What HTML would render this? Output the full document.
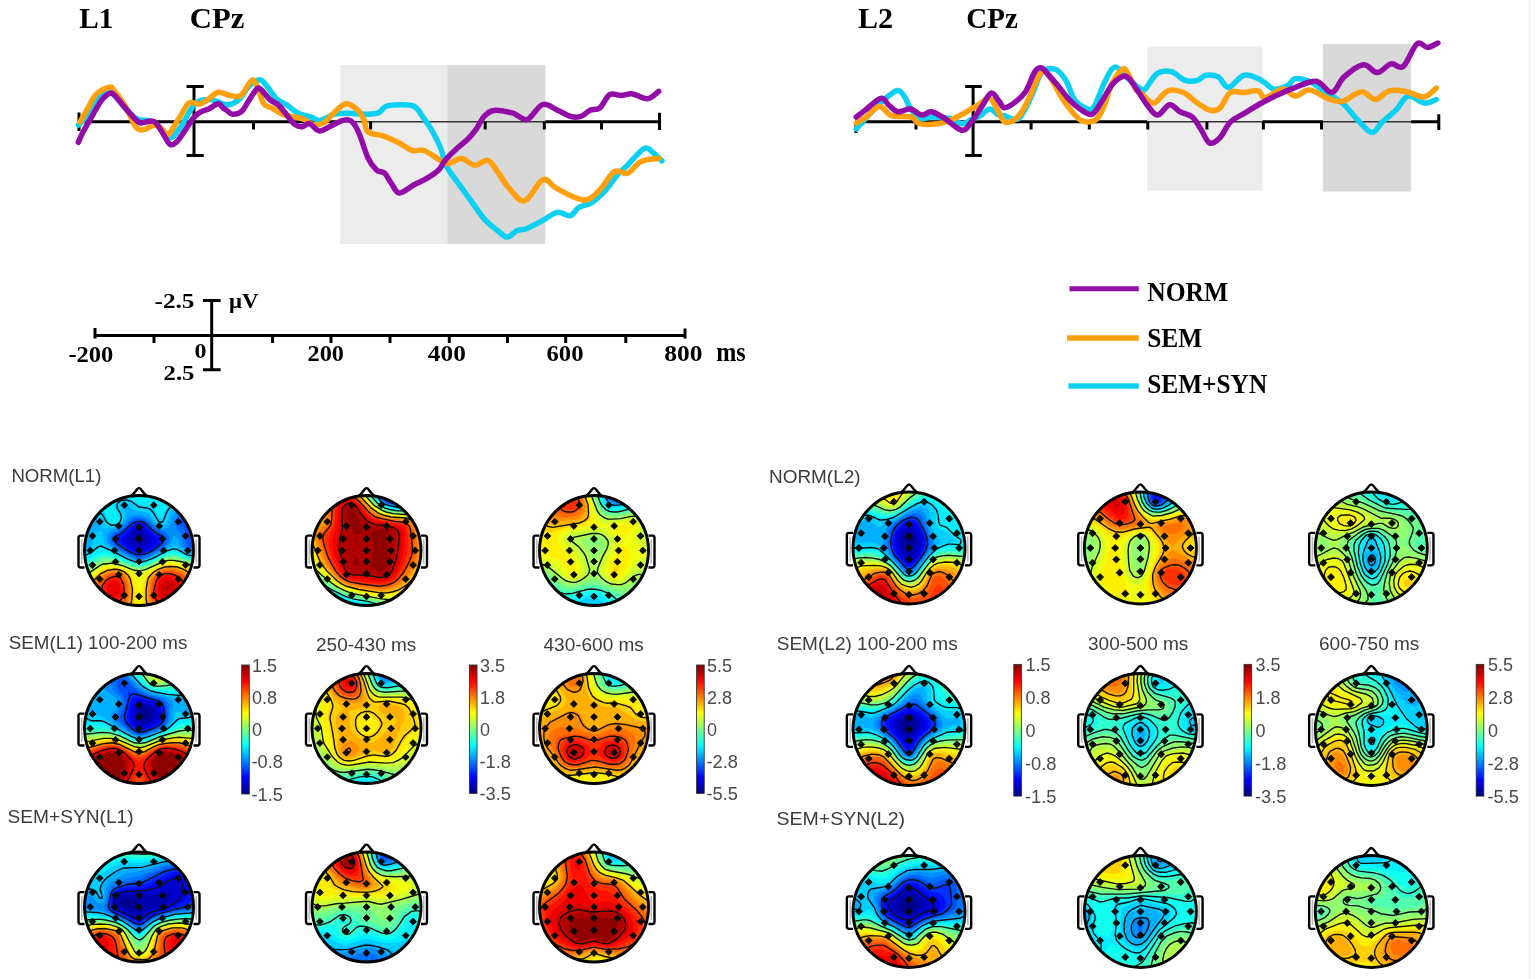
<!DOCTYPE html>
<html><head><meta charset="utf-8"><title>ERP figure</title><style>html,body{margin:0;padding:0;background:#fff;}svg{display:block;}.tb{font-family:"Liberation Serif",serif;font-weight:bold;fill:#000;}.lb{font-family:"Liberation Sans",sans-serif;fill:#3c3c3c;}.cb{font-family:"Liberation Sans",sans-serif;fill:#4a4a4a;}</style></head><body>
<svg width="1535" height="979" viewBox="0 0 1535 979">
<defs><clipPath id="hc"><circle r="100"/></clipPath><g id="ears" fill="#fff" stroke="#000" stroke-width="2.4" vector-effect="non-scaling-stroke"><path d="M-100 -27 L-107 -27 Q-111 -27 -111 -23 L-111 27 Q-111 31 -107 31 L-100 31" vector-effect="non-scaling-stroke"/><path d="M100 -27 L107 -27 Q111 -27 111 -23 L111 27 Q111 31 107 31 L100 31" vector-effect="non-scaling-stroke"/><path d="M-105 -20 L-105 24 M105 -20 L105 24" stroke="#bbb" stroke-width="1.6" vector-effect="non-scaling-stroke"/><path d="M-17 -97 Q-9 -103 -4.5 -110 Q0 -117 4.5 -110 Q9 -103 17 -97" vector-effect="non-scaling-stroke"/></g><path id="el" fill="#0a0a0a" stroke="#0a0a0a" stroke-width="1.5" stroke-linejoin="round" d="M-27.0 -88.8l6.3 6.3 -6.3 6.3 -6.3 -6.3zM27.0 -88.8l6.3 6.3 -6.3 6.3 -6.3 -6.3zM-72.0 -58.8l6.3 6.3 -6.3 6.3 -6.3 -6.3zM-37.0 -50.8l6.3 6.3 -6.3 6.3 -6.3 -6.3zM0.0 -48.8l6.3 6.3 -6.3 6.3 -6.3 -6.3zM37.0 -50.8l6.3 6.3 -6.3 6.3 -6.3 -6.3zM72.0 -58.8l6.3 6.3 -6.3 6.3 -6.3 -6.3zM-85.5 -32.8l6.3 6.3 -6.3 6.3 -6.3 -6.3zM-43.0 -27.3l6.3 6.3 -6.3 6.3 -6.3 -6.3zM0.0 -27.3l6.3 6.3 -6.3 6.3 -6.3 -6.3zM43.0 -27.3l6.3 6.3 -6.3 6.3 -6.3 -6.3zM85.5 -32.8l6.3 6.3 -6.3 6.3 -6.3 -6.3zM-89.5 -6.3l6.3 6.3 -6.3 6.3 -6.3 -6.3zM-45.0 -6.3l6.3 6.3 -6.3 6.3 -6.3 -6.3zM0.0 -6.3l6.3 6.3 -6.3 6.3 -6.3 -6.3zM45.0 -6.3l6.3 6.3 -6.3 6.3 -6.3 -6.3zM89.5 -6.3l6.3 6.3 -6.3 6.3 -6.3 -6.3zM-85.5 20.2l6.3 6.3 -6.3 6.3 -6.3 -6.3zM-43.0 14.2l6.3 6.3 -6.3 6.3 -6.3 -6.3zM0.0 13.7l6.3 6.3 -6.3 6.3 -6.3 -6.3zM43.0 14.2l6.3 6.3 -6.3 6.3 -6.3 -6.3zM85.5 20.2l6.3 6.3 -6.3 6.3 -6.3 -6.3zM-72.0 45.7l6.3 6.3 -6.3 6.3 -6.3 -6.3zM-37.0 37.7l6.3 6.3 -6.3 6.3 -6.3 -6.3zM0.0 35.7l6.3 6.3 -6.3 6.3 -6.3 -6.3zM37.0 37.7l6.3 6.3 -6.3 6.3 -6.3 -6.3zM72.0 45.7l6.3 6.3 -6.3 6.3 -6.3 -6.3zM-27.0 75.2l6.3 6.3 -6.3 6.3 -6.3 -6.3zM0.0 77.2l6.3 6.3 -6.3 6.3 -6.3 -6.3zM27.0 75.2l6.3 6.3 -6.3 6.3 -6.3 -6.3z"/><linearGradient id="jet" x1="0" y1="0" x2="0" y2="1"><stop offset="0" stop-color="#800000"/><stop offset="0.125" stop-color="#ff0000"/><stop offset="0.375" stop-color="#ffff00"/><stop offset="0.5" stop-color="#80ff80"/><stop offset="0.625" stop-color="#00ffff"/><stop offset="0.875" stop-color="#0000ff"/><stop offset="1" stop-color="#000080"/></linearGradient></defs>
<path d="M1529.5 0V979" stroke="#efefef" stroke-width="1.5"/>
<rect x="340.3" y="65" width="107" height="179" fill="#ececec"/>
<rect x="447.3" y="65" width="98" height="179" fill="#d9d9d9"/>
<rect x="1147.3" y="46.5" width="115.2" height="144.2" fill="#ececec"/>
<rect x="1323" y="44" width="88" height="147.6" fill="#d9d9d9"/>
<path d="M78.5 121.8H340.3M545.3 121.8H659.5" stroke="#000" stroke-width="3"/>
<path d="M340.3 121.8H545.3" stroke="#333" stroke-width="1.6"/>
<path d="M79 112.5V131M659.5 112.7V130M194 86.6V155.4M186.5 86.6H203.7M186.5 155.4H203.7M253.5 121.8V129.5M370.6 121.8V129.5M485.2 121.8V129.5M544.3 121.8V129.5M601.5 121.8V129.5" stroke="#000" stroke-width="3"/>
<path d="M855.4 121.7H1147.3M1262.5 121.7H1323M1411 121.7H1438.8" stroke="#000" stroke-width="3"/>
<path d="M1147.3 121.7H1262.5M1323 121.7H1411" stroke="#333" stroke-width="1.6"/>
<path d="M856 121.7V133M1438.8 114.3V130M973.1 86.5V155.5M965.2 86.5H981.8M965.2 155.5H981.8M916 121.7V129.5M1031.1 121.7V129.5M1089.3 121.7V129.5M1147.8 121.7V129.5M1206.9 121.7V129.5M1263.4 121.7V129.5M1321.5 121.7V129.5" stroke="#000" stroke-width="3"/>
<path d="M78.3 125.0C79.5 123.8 81.9 122.4 85.0 118.0C88.1 113.6 91.7 104.4 96.0 100.0C100.3 95.6 106.3 93.7 109.6 93.0C112.9 92.3 112.3 93.4 115.0 96.0C117.7 98.6 121.4 104.0 125.2 108.0C129.1 112.0 132.7 116.7 137.0 119.0C141.3 121.3 146.0 119.4 150.0 121.0C154.0 122.6 156.5 125.0 160.0 128.0C163.5 131.0 166.5 138.0 170.0 138.0C173.5 138.0 175.6 134.0 180.0 128.0C184.4 122.0 190.0 108.8 195.0 103.8C200.0 98.8 204.6 99.9 208.6 99.6C212.6 99.3 214.6 101.1 218.0 102.0C221.4 102.9 224.7 105.2 228.3 104.8C231.9 104.4 235.1 102.9 238.8 99.6C242.5 96.3 245.6 89.6 249.2 86.1C252.8 82.6 256.5 79.8 259.6 79.8C262.7 79.8 264.0 82.8 266.9 86.1C269.8 89.4 272.8 95.3 276.3 98.6C279.8 101.9 282.9 102.2 286.7 104.8C290.5 107.4 293.8 111.0 298.2 113.2C302.6 115.4 307.9 116.0 311.7 117.3C315.5 118.6 316.0 121.0 320.0 120.5C324.0 120.0 329.4 115.5 334.7 114.2C340.0 112.9 344.8 113.2 350.3 113.2C355.8 113.2 361.0 114.3 365.9 114.2C370.8 114.1 374.6 114.3 378.2 112.9C381.8 111.5 382.6 107.7 386.3 106.3C390.0 104.9 394.5 104.7 399.4 104.7C404.3 104.7 410.1 104.3 414.1 106.3C418.1 108.3 419.2 111.8 422.3 116.1C425.4 120.4 429.0 125.5 432.1 130.9C435.2 136.3 437.7 140.9 440.3 147.2C442.9 153.5 443.7 160.5 446.8 166.8C449.9 173.1 453.9 177.2 458.2 183.2C462.5 189.2 466.7 194.8 471.3 201.1C475.9 207.4 479.8 214.0 484.4 219.1C489.0 224.2 493.5 227.3 497.5 230.5C501.5 233.7 503.9 237.1 507.3 237.1C510.7 237.1 513.8 232.0 517.1 230.5C520.4 229.0 521.8 230.4 526.3 228.7C530.8 226.9 537.3 223.4 542.7 220.5C548.1 217.6 552.5 213.3 557.4 212.4C562.3 211.5 566.8 216.5 570.5 215.6C574.2 214.7 574.9 209.8 578.6 207.5C582.3 205.2 587.1 205.5 591.7 202.6C596.3 199.7 600.5 195.7 604.8 191.1C609.1 186.5 612.2 181.0 616.2 176.4C620.2 171.8 622.8 169.9 627.7 165.0C632.6 160.1 639.7 150.9 644.0 148.6C648.3 146.3 649.1 149.7 652.2 151.9C655.4 154.1 660.3 159.3 662.0 160.9" fill="none" stroke="#0cd0f2" stroke-width="5.5" stroke-linejoin="round" stroke-linecap="round"/>
<path d="M80.0 122.0C81.4 119.5 85.2 112.8 88.0 108.0C90.8 103.2 92.2 98.1 96.0 94.4C99.8 90.7 106.5 87.8 109.6 87.1C112.7 86.4 111.1 86.9 113.8 90.2C116.5 93.5 121.4 99.5 125.2 105.9C129.0 112.3 132.6 122.5 135.7 126.7C138.8 130.9 140.4 129.8 143.0 129.8C145.6 129.8 147.9 127.5 150.3 126.7C152.7 125.9 154.3 124.4 156.5 125.0C158.7 125.6 161.0 128.2 163.0 130.0C165.0 131.8 165.4 136.8 168.0 135.0C170.6 133.2 174.5 125.5 178.0 120.0C181.5 114.5 185.2 106.8 187.8 103.8C190.4 100.8 190.9 102.7 193.0 102.7C195.1 102.7 197.3 104.6 200.0 104.0C202.7 103.4 205.4 101.0 208.6 99.0C211.8 97.0 214.2 92.9 218.0 92.3C221.8 91.7 226.4 94.9 230.4 95.4C234.4 95.9 237.1 98.0 240.8 95.4C244.5 92.8 248.6 82.6 251.3 80.8C254.0 79.0 254.3 81.0 256.5 85.0C258.7 89.0 261.1 99.8 263.8 103.8C266.5 107.8 268.5 106.0 272.1 108.0C275.7 110.0 279.5 113.4 284.6 115.2C289.7 117.0 296.2 116.8 301.3 118.4C306.4 120.0 309.8 123.9 313.8 124.6C317.8 125.3 320.5 124.7 324.2 122.5C327.9 120.3 330.9 115.4 334.7 112.1C338.5 108.8 342.1 104.2 346.1 103.8C350.1 103.4 354.5 107.3 357.6 110.0C360.7 112.7 362.0 115.6 363.8 119.4C365.6 123.2 364.6 129.0 368.0 131.9C371.4 134.8 377.9 134.0 383.1 135.8C388.3 137.6 392.7 139.7 397.8 142.3C402.9 144.9 407.9 149.1 412.5 150.5C417.1 151.9 419.0 148.8 423.9 150.5C428.8 152.2 436.0 158.0 440.3 160.3C444.6 162.6 444.7 163.8 448.4 163.5C452.1 163.2 456.9 158.3 461.5 158.6C466.1 158.9 470.0 164.9 474.6 165.2C479.2 165.5 483.7 159.2 487.7 160.3C491.7 161.4 493.8 166.9 497.5 171.7C501.2 176.5 504.1 182.9 508.9 188.0C513.7 193.1 518.8 202.4 524.7 200.9C530.6 199.4 537.3 182.0 542.7 179.7C548.1 177.4 550.1 184.8 555.8 187.9C561.5 191.1 569.7 195.7 575.4 197.7C581.1 199.7 583.8 201.0 588.4 199.3C593.0 197.6 596.9 192.8 601.5 187.9C606.1 183.0 610.0 174.1 614.6 171.5C619.2 168.9 623.1 174.9 627.7 173.2C632.3 171.5 635.3 164.3 640.7 161.7C646.1 159.1 655.6 159.0 658.7 158.4" fill="none" stroke="#ffa00c" stroke-width="5.5" stroke-linejoin="round" stroke-linecap="round"/>
<path d="M78.3 142.3C79.0 140.7 80.3 137.2 82.5 133.0C84.7 128.8 87.5 124.1 90.8 118.4C94.1 112.7 98.0 105.0 101.3 100.6C104.6 96.2 107.2 94.3 109.6 93.4C112.0 92.5 112.1 92.8 114.8 95.4C117.5 98.0 121.2 103.4 125.2 108.0C129.2 112.6 134.7 119.0 137.8 121.5C140.9 124.0 140.6 122.6 143.0 122.5C145.4 122.4 148.9 120.8 151.3 121.0C153.7 121.2 154.3 121.1 156.5 123.6C158.7 126.0 161.4 131.4 163.8 135.0C166.2 138.6 167.8 143.1 170.0 144.4C172.2 145.7 173.7 144.7 176.3 142.3C178.9 139.9 181.8 135.1 184.7 130.9C187.6 126.7 190.3 121.7 193.0 118.4C195.7 115.1 197.6 113.7 200.3 112.1C203.0 110.5 205.5 110.5 208.6 109.0C211.7 107.5 215.4 104.0 218.0 103.8C220.6 103.6 221.7 106.9 223.2 108.0C224.7 109.1 224.7 108.9 226.3 110.0C227.9 111.1 229.8 114.0 232.5 114.2C235.2 114.4 239.2 113.3 241.9 111.1C244.6 108.9 245.5 105.5 248.1 101.7C250.7 97.9 254.3 91.4 256.5 89.2C258.7 87.0 258.2 87.4 260.6 89.2C263.0 91.0 266.7 96.7 270.0 99.6C273.3 102.5 276.3 103.0 279.4 105.9C282.5 108.8 285.1 113.0 287.8 116.3C290.5 119.6 292.5 122.8 295.0 124.6C297.5 126.4 299.7 126.9 302.3 126.7C304.9 126.5 306.7 122.9 309.6 123.6C312.5 124.3 315.5 130.4 319.0 130.9C322.5 131.4 325.7 128.3 329.4 126.7C333.1 125.1 336.6 122.7 339.9 121.5C343.2 120.3 345.6 119.4 348.2 119.9C350.8 120.4 352.5 122.0 354.5 124.6C356.5 127.2 357.3 129.2 359.7 135.0C362.1 140.8 365.1 151.9 368.0 158.0C370.9 164.1 373.6 167.3 376.5 170.0C379.4 172.7 382.1 171.0 384.7 173.3C387.3 175.6 388.6 179.8 391.2 183.2C393.8 186.6 395.4 192.7 399.4 193.0C403.4 193.3 409.2 187.4 414.1 184.8C419.0 182.2 422.9 180.8 427.2 178.2C431.5 175.6 435.5 173.1 438.6 170.0C441.8 166.9 442.1 164.0 445.2 160.3C448.3 156.6 452.6 152.5 456.6 148.8C460.6 145.1 464.6 142.4 468.0 139.0C471.4 135.6 473.3 133.2 476.2 129.2C479.1 125.2 481.2 119.4 484.4 116.1C487.5 112.8 489.3 111.0 494.2 110.4C499.1 109.8 508.0 111.9 512.2 112.9C516.4 113.9 515.4 114.9 518.2 116.0C521.0 117.1 523.7 121.2 528.0 119.2C532.3 117.2 537.6 106.1 542.7 104.5C547.8 102.9 552.3 108.0 557.4 110.2C562.5 112.4 567.8 115.8 572.1 116.8C576.4 117.8 578.8 117.2 581.9 116.0C585.0 114.8 587.0 111.6 590.1 110.2C593.2 108.8 596.5 110.5 599.9 107.8C603.3 105.1 606.0 96.9 609.7 94.7C613.4 92.5 617.1 95.6 621.1 95.5C625.1 95.4 628.0 93.3 632.6 93.9C637.2 94.5 642.7 99.2 647.3 98.8C651.9 98.4 656.7 92.7 658.7 91.4" fill="none" stroke="#930ca8" stroke-width="5.5" stroke-linejoin="round" stroke-linecap="round"/>
<path d="M856.3 129.0C857.3 127.8 858.5 126.5 862.3 122.3C866.1 118.1 873.6 109.7 878.2 105.1C882.8 100.5 885.3 98.4 888.8 95.8C892.3 93.2 895.3 90.3 898.1 90.5C900.9 90.7 902.7 94.1 904.8 97.1C906.9 100.1 907.5 104.0 910.1 107.7C912.7 111.4 915.7 116.7 919.4 118.3C923.1 119.9 926.2 117.0 931.3 117.0C936.4 117.0 943.3 117.1 948.6 118.3C953.9 119.5 957.9 123.5 961.8 123.7C965.7 123.9 967.8 121.1 971.1 119.7C974.4 118.3 977.1 117.6 980.4 115.7C983.7 113.8 986.7 109.2 989.7 109.0C992.7 108.8 995.0 113.2 997.7 114.4C1000.4 115.6 1001.3 115.3 1005.0 116.0C1008.7 116.7 1014.1 122.1 1018.9 118.3C1023.7 114.5 1028.2 102.3 1032.2 94.4C1036.2 86.5 1037.5 77.6 1041.5 73.2C1045.5 68.8 1050.6 68.0 1054.8 69.2C1059.0 70.4 1061.9 74.4 1065.4 79.8C1068.9 85.2 1071.2 94.9 1074.7 99.8C1078.2 104.7 1082.0 106.3 1085.3 107.7C1088.6 109.1 1090.0 111.9 1093.3 107.7C1096.6 103.5 1100.6 90.5 1103.9 83.8C1107.2 77.1 1109.3 71.9 1111.9 69.2C1114.5 66.5 1115.5 66.6 1118.5 68.5C1121.5 70.4 1125.1 76.2 1129.1 79.8C1133.1 83.4 1138.3 87.5 1141.1 89.1C1143.9 90.7 1142.3 91.8 1145.2 89.1C1148.1 86.4 1152.8 76.4 1157.4 73.4C1162.0 70.4 1166.4 70.5 1171.3 71.7C1176.2 72.9 1180.7 78.9 1185.2 80.4C1189.8 81.9 1193.7 81.3 1197.3 80.4C1200.9 79.5 1202.3 75.8 1206.0 75.2C1209.7 74.6 1214.2 74.8 1218.2 76.9C1222.2 79.0 1224.0 87.6 1228.6 87.3C1233.1 87.0 1238.4 76.4 1244.2 75.2C1250.0 74.0 1256.4 78.0 1261.6 80.4C1266.8 82.8 1269.2 88.2 1273.8 89.1C1278.4 90.0 1283.9 87.4 1287.7 85.6C1291.5 83.8 1291.3 79.2 1295.4 78.6C1299.5 78.0 1306.2 80.0 1311.1 82.1C1316.0 84.2 1317.7 87.1 1323.2 90.8C1328.7 94.5 1336.2 97.8 1342.3 103.0C1348.4 108.2 1352.8 115.1 1358.0 120.3C1363.2 125.5 1367.6 132.2 1371.9 132.5C1376.2 132.8 1378.0 126.1 1382.3 122.1C1386.6 118.1 1391.7 114.5 1396.2 109.9C1400.8 105.3 1403.4 97.2 1408.3 96.0C1413.2 94.8 1419.1 102.4 1424.0 103.0C1428.9 103.6 1434.1 100.1 1436.2 99.5" fill="none" stroke="#0cd0f2" stroke-width="5.5" stroke-linejoin="round" stroke-linecap="round"/>
<path d="M856.3 123.0C858.0 122.0 862.1 119.9 866.2 117.0C870.3 114.1 875.1 106.6 879.5 106.4C883.9 106.2 885.9 113.8 891.5 115.7C897.1 117.6 906.5 115.6 911.4 117.0C916.3 118.4 914.7 122.5 919.4 123.7C924.1 124.9 932.4 124.4 938.0 123.7C943.6 123.0 946.6 121.6 951.2 119.7C955.8 117.8 959.8 115.6 964.5 113.0C969.2 110.4 973.4 107.7 977.8 105.1C982.2 102.5 986.2 97.5 989.7 98.4C993.2 99.3 994.9 106.2 997.7 110.4C1000.5 114.6 1001.9 121.4 1005.6 122.3C1009.3 123.2 1014.7 120.1 1018.9 115.7C1023.1 111.3 1025.5 104.8 1029.5 97.1C1033.5 89.4 1037.8 75.2 1041.5 71.9C1045.2 68.6 1047.3 74.1 1050.8 78.5C1054.3 82.9 1057.7 91.3 1061.4 97.1C1065.1 102.9 1068.3 107.5 1072.0 111.7C1075.7 115.9 1078.4 119.6 1082.6 121.0C1086.8 122.4 1092.2 122.3 1095.9 119.7C1099.6 117.1 1101.1 112.7 1103.9 106.4C1106.7 100.1 1108.6 90.3 1111.9 83.8C1115.2 77.3 1119.7 71.1 1122.5 69.2C1125.3 67.3 1125.5 69.7 1127.8 73.2C1130.1 76.7 1133.1 85.4 1135.7 89.1C1138.3 92.8 1139.2 92.0 1142.4 94.4C1145.6 96.8 1149.5 103.6 1153.9 103.0C1158.3 102.4 1162.6 92.6 1167.8 90.8C1173.0 89.0 1178.2 90.4 1183.4 92.5C1188.6 94.6 1192.7 99.9 1197.3 103.0C1201.9 106.1 1205.5 109.1 1209.5 110.0C1213.5 110.9 1216.3 111.3 1219.9 108.2C1223.5 105.1 1226.0 95.2 1230.3 92.5C1234.6 89.8 1239.3 92.8 1244.2 92.5C1249.1 92.2 1254.4 89.9 1258.1 90.8C1261.8 91.7 1260.8 98.1 1265.1 97.8C1269.4 97.5 1277.2 89.4 1282.5 89.1C1287.8 88.8 1290.7 95.8 1295.4 96.0C1300.1 96.2 1303.5 89.5 1309.3 90.0C1315.1 90.5 1322.6 96.6 1328.4 98.6C1334.2 100.6 1336.5 102.4 1342.3 101.2C1348.1 100.0 1355.6 92.0 1361.4 91.7C1367.2 91.4 1370.4 99.7 1375.3 99.5C1380.2 99.3 1383.7 92.2 1389.2 90.8C1394.7 89.4 1400.5 90.6 1406.6 91.7C1412.7 92.8 1418.8 97.5 1424.0 96.9C1429.2 96.3 1434.1 89.7 1436.2 88.2" fill="none" stroke="#ffa00c" stroke-width="5.5" stroke-linejoin="round" stroke-linecap="round"/>
<path d="M856.3 117.0C857.8 115.8 860.6 113.7 864.9 110.4C869.2 107.1 876.7 99.3 880.9 98.4C885.1 97.5 885.8 102.8 888.8 105.1C891.8 107.4 894.4 111.0 898.1 111.7C901.8 112.4 905.9 108.4 910.1 109.0C914.3 109.6 918.3 114.5 922.0 115.0C925.7 115.5 927.3 111.1 931.3 111.7C935.3 112.3 939.3 115.0 944.6 118.3C949.9 121.6 957.2 129.6 961.8 130.3C966.4 131.0 967.6 126.5 971.1 122.3C974.6 118.1 978.3 111.5 981.8 106.4C985.3 101.3 988.1 94.0 991.1 93.1C994.1 92.2 996.7 98.5 999.0 101.1C1001.3 103.7 1001.5 107.5 1004.3 107.7C1007.1 107.9 1011.2 105.2 1014.9 102.4C1018.6 99.6 1022.0 97.1 1025.5 91.8C1029.0 86.5 1032.0 76.1 1034.8 71.9C1037.6 67.7 1039.2 67.4 1041.5 67.9C1043.8 68.4 1045.3 71.5 1048.1 74.5C1050.9 77.5 1053.7 80.7 1057.4 85.1C1061.1 89.5 1065.4 95.6 1069.4 99.8C1073.4 104.0 1076.1 106.4 1080.0 109.0C1083.9 111.6 1088.2 115.6 1091.9 114.4C1095.6 113.2 1097.7 107.5 1101.2 102.4C1104.7 97.3 1108.2 89.6 1111.9 85.1C1115.6 80.6 1119.5 77.7 1122.5 76.5C1125.5 75.3 1126.3 75.8 1129.1 78.5C1131.9 81.2 1135.3 87.2 1138.4 91.8C1141.5 96.4 1143.7 100.6 1147.0 104.7C1150.3 108.8 1153.5 115.1 1157.4 115.1C1161.3 115.1 1165.5 105.3 1169.5 104.7C1173.5 104.1 1176.0 109.6 1180.0 111.7C1184.0 113.8 1188.5 113.9 1192.1 116.9C1195.7 119.9 1197.8 124.5 1200.8 129.0C1203.8 133.6 1206.2 141.4 1209.5 142.9C1212.8 144.4 1216.3 141.3 1219.9 137.7C1223.5 134.1 1226.0 126.4 1230.3 122.1C1234.6 117.8 1238.7 116.7 1244.2 113.4C1249.7 110.1 1255.5 106.3 1261.6 103.0C1267.7 99.7 1273.1 97.0 1279.0 94.3C1284.9 91.6 1288.9 89.6 1295.4 87.3C1301.9 85.0 1309.9 80.4 1316.3 81.3C1322.7 82.2 1327.0 93.3 1331.9 92.5C1336.8 91.7 1338.6 81.8 1344.1 76.9C1349.6 72.0 1357.4 65.5 1363.2 64.7C1369.0 63.9 1372.2 72.7 1377.1 72.6C1382.0 72.5 1386.5 65.0 1391.0 63.9C1395.5 62.8 1398.5 70.0 1403.1 66.5C1407.6 63.0 1412.7 47.2 1417.0 43.9C1421.3 40.6 1423.8 47.6 1427.5 47.4C1431.2 47.2 1436.1 43.8 1437.9 43.0" fill="none" stroke="#930ca8" stroke-width="5.5" stroke-linejoin="round" stroke-linecap="round"/>
<text x="79.3" y="28.3" class="tb" font-size="30.0" textLength="34.0" lengthAdjust="spacingAndGlyphs">L1</text>
<text x="189.8" y="28.3" class="tb" font-size="30.0" textLength="54.5" lengthAdjust="spacingAndGlyphs">CPz</text>
<text x="857.9" y="27.6" class="tb" font-size="30.0" textLength="35.0" lengthAdjust="spacingAndGlyphs">L2</text>
<text x="966.3" y="27.6" class="tb" font-size="30.0" textLength="51.5" lengthAdjust="spacingAndGlyphs">CPz</text>
<path d="M95 335.4H685M95 328V338.5M685 328.5V338.5M154 335.4V343M272.6 335.4V343M331 335.4V343M390 335.4V343M449.3 335.4V343M507.5 335.4V343M565.7 335.4V343M625.8 335.4V343M211.7 300.4V369.7M203 300.4H220.6M203 369.7H220.6" stroke="#000" stroke-width="3"/>
<text x="154.5" y="308.3" class="tb" font-size="21.5" textLength="40.0" lengthAdjust="spacingAndGlyphs">-2.5</text>
<text x="229.0" y="308.3" class="tb" font-size="22.0" textLength="29.5" lengthAdjust="spacingAndGlyphs">&#956;V</text>
<text x="68.4" y="362.4" class="tb" font-size="23.5" textLength="45.0" lengthAdjust="spacingAndGlyphs">-200</text>
<text x="194.5" y="358.0" class="tb" font-size="22.0" textLength="12.0" lengthAdjust="spacingAndGlyphs">0</text>
<text x="163.5" y="379.7" class="tb" font-size="22.0" textLength="31.0" lengthAdjust="spacingAndGlyphs">2.5</text>
<text x="307.5" y="361.0" class="tb" font-size="23.5" textLength="36.5" lengthAdjust="spacingAndGlyphs">200</text>
<text x="427.8" y="360.7" class="tb" font-size="23.5" textLength="38.0" lengthAdjust="spacingAndGlyphs">400</text>
<text x="546.5" y="360.7" class="tb" font-size="23.5" textLength="37.0" lengthAdjust="spacingAndGlyphs">600</text>
<text x="664.2" y="360.7" class="tb" font-size="23.5" textLength="38.2" lengthAdjust="spacingAndGlyphs">800</text>
<text x="716.2" y="360.7" class="tb" font-size="27.0" textLength="29.5" lengthAdjust="spacingAndGlyphs">ms</text>
<path d="M1069.5 288.8H1138.8" stroke="#930ca8" stroke-width="5"/>
<path d="M1067 338H1138.8" stroke="#ffa00c" stroke-width="5.5"/>
<path d="M1068.4 386H1138.8" stroke="#0cd0f2" stroke-width="5.5"/>
<text x="1147.2" y="300.7" class="tb" font-size="26.5" textLength="81.0" lengthAdjust="spacingAndGlyphs">NORM</text>
<text x="1147.2" y="346.8" class="tb" font-size="26.5" textLength="55.0" lengthAdjust="spacingAndGlyphs">SEM</text>
<text x="1147.2" y="392.9" class="tb" font-size="26.5" textLength="120.0" lengthAdjust="spacingAndGlyphs">SEM+SYN</text>
<g transform="translate(139.0 550.5) scale(0.5450 0.5500)">
<use href="#ears"/>
<g clip-path="url(#hc)"><circle r="104" fill="#00008f"/><path fill="#0000af" d="M-108 -108L108 -108 108 108 -108 108 -108 -108ZM-2 -31L-5 -27 -6 -22 -5 -20 -2 -17 4 -17 6 -20 6 -25 2 -31 -2 -31Z"/><path fill="#0000cf" d="M-108 -108L108 -108 108 108 -108 108 -108 -108ZM-2 -40L-7 -36 -12 -31 -16 -23 -16 -19 -14 -14 -9 -11 -2 -8 5 -8 11 -10 14 -13 17 -16 17 -22 13 -29 7 -36 2 -40 -2 -40Z"/><path fill="#0000ef" d="M-108 -108L108 -108 108 108 -108 108 -108 -108ZM-5 -43L-12 -38 -22 -25 -24 -20 -24 -16 -17 -9 -5 -3 4 -2 14 -5 19 -9 24 -14 25 -18 24 -22 15 -34 7 -42 4 -44 0 -45 -5 -43Z"/><path fill="#0010ff" d="M-108 -108L108 -108 108 108 -108 108 -108 -108ZM-5 -47L-11 -43 -32 -23 -33 -20 -33 -18 -30 -14 -24 -9 -16 -4 -9 0 2 2 13 0 22 -5 29 -11 33 -16 34 -20 31 -23 9 -45 2 -48 -5 -47Z"/><path fill="#0030ff" d="M-108 -108L108 -108 108 108 -108 108 -108 -108ZM-5 -50L-12 -47 -27 -33 -41 -23 -42 -22 -41 -18 -36 -13 -23 -4 -14 2 -5 5 2 6 11 4 21 0 32 -7 40 -14 42 -20 41 -23 27 -32 12 -47 4 -51 -5 -50Z"/><path fill="#0050ff" d="M-108 -108L108 -108 108 -46 104 -46 100 -45 98 -41 97 -36 98 -22 99 -16 103 -13 108 -12 108 108 -108 108 -108 -108ZM-4 -54L-13 -50 -28 -36 -43 -27 -46 -23 -47 -20 -45 -16 -42 -13 -22 1 -7 8 4 9 18 5 32 -4 43 -13 47 -18 47 -22 43 -27 29 -35 11 -51 4 -54 -4 -54Z"/><path fill="#0070ff" d="M-108 -108L108 -108 108 -61 97 -62 86 -61 78 -58 74 -52 76 -47 83 -37 86 -31 87 -25 88 -13 90 -7 92 -5 95 -4 108 -3 108 108 -108 108 -108 -108ZM-2 -58L-7 -57 -13 -55 -29 -39 -45 -30 -50 -25 -50 -20 -49 -15 -45 -11 -29 1 -11 10 -4 12 2 12 9 11 19 7 38 -4 48 -13 50 -16 51 -22 50 -25 47 -29 30 -38 13 -54 5 -57 -2 -58Z"/><path fill="#008fff" d="M-108 -108L108 -108 108 -70 92 -71 85 -71 78 -68 74 -66 69 -61 67 -56 66 -50 66 -45 68 -41 76 -32 78 -27 81 -11 85 -4 88 -1 92 1 108 2 108 108 -108 108 -108 -108ZM-4 -61L-9 -61 -14 -58 -31 -41 -49 -32 -53 -27 -54 -20 -53 -14 -50 -11 -32 2 -11 13 -4 15 2 15 11 13 22 9 45 -5 53 -13 55 -18 55 -23 54 -29 51 -32 32 -40 14 -57 7 -60 -4 -61Z"/><path fill="#00afff" d="M-108 -108L108 -108 108 -77 97 -79 88 -78 79 -77 72 -73 67 -69 63 -64 60 -58 57 -45 54 -41 45 -40 36 -41 31 -45 20 -58 14 -62 5 -65 -11 -65 -14 -64 -18 -62 -28 -49 -33 -43 -54 -34 -58 -29 -59 -22 -58 -16 -56 -13 -53 -9 -49 -5 -32 5 -21 11 -7 16 2 18 11 16 23 11 51 -5 58 -13 60 -16 61 -23 63 -26 65 -27 68 -26 71 -22 76 -9 84 0 92 4 108 6 108 108 -108 108 -108 -108Z"/><path fill="#00cfff" d="M-108 -108L108 -108 108 -83 97 -85 86 -85 77 -83 68 -80 63 -76 58 -70 49 -49 45 -45 40 -44 37 -45 34 -47 23 -62 18 -67 11 -70 0 -71 -5 -72 -14 -77 -22 -83 -27 -84 -29 -83 -30 -81 -26 -72 -26 -65 -28 -56 -33 -49 -37 -45 -41 -43 -67 -40 -68 -41 -70 -52 -73 -56 -77 -58 -86 -58 -108 -52 -108 -108ZM-73 -36L-70 -37 -68 -35 -65 -23 -64 -14 -62 -11 -58 -7 -29 10 -5 19 4 20 16 16 28 11 56 -4 65 -8 70 -6 81 2 87 5 94 7 108 10 108 108 -108 108 -108 6 -94 0 -90 -4 -86 -11 -83 -28 -79 -32 -73 -36Z"/><path fill="#00efff" d="M-108 -108L108 -108 108 -89 95 -91 85 -91 74 -89 65 -86 58 -83 52 -77 48 -72 41 -59 40 -58 36 -60 27 -76 23 -80 4 -82 -18 -94 -23 -95 -31 -94 -40 -90 -43 -86 -45 -83 -45 -77 -36 -65 -35 -58 -36 -54 -39 -50 -42 -49 -47 -48 -52 -49 -56 -52 -63 -68 -67 -71 -70 -72 -77 -73 -86 -72 -108 -66 -108 -108ZM-74 -4L-68 -5 -61 -3 -47 3 -20 16 -9 21 -2 22 5 22 14 19 27 14 49 2 58 -1 63 -2 70 0 88 8 108 13 108 108 -108 108 -108 15 -90 7 -74 -4Z"/><path fill="#10ffef" d="M-108 -108L108 -108 108 -94 92 -96 77 -96 67 -94 47 -89 41 -88 25 -93 5 -95 -16 -101 -29 -102 -42 -99 -65 -88 -92 -81 -108 -76 -108 -108ZM-71 4L-63 3 -52 5 -16 20 -2 24 5 24 14 22 47 6 61 2 68 3 88 11 108 16 108 108 -108 108 -108 23 -71 4Z"/><path fill="#30ffcf" d="M-108 -108L-33 -108 -47 -105 -70 -96 -108 -84 -108 -108ZM-15 -108L108 -108 108 -99 95 -101 83 -102 41 -99 -15 -108ZM60 5L70 7 108 19 108 108 -108 108 -108 29 -103 26 -74 10 -67 8 -61 8 -49 10 -9 25 -2 26 5 26 18 22 47 9 60 5Z"/><path fill="#50ffaf" d="M-108 -108L-57 -108 -108 -92 -108 -108ZM30 -108L108 -108 108 -104 86 -107 49 -106 30 -108ZM54 9L63 8 70 9 108 22 108 108 -108 108 -108 36 -97 28 -74 15 -67 12 -59 12 -47 14 -9 27 -2 28 5 28 16 25 43 12 54 9Z"/><path fill="#70ff8f" d="M-108 -108L-77 -108 -108 -98 -108 -108ZM50 13L59 11 70 12 90 18 108 26 108 108 -108 108 -108 42 -101 36 -91 29 -72 18 -65 16 -58 15 -50 16 -38 19 -9 29 -2 30 5 30 16 27 40 16 50 13Z"/><path fill="#8fff70" d="M-108 -108L-96 -108 -108 -104 -108 -108ZM52 14L63 14 76 16 92 21 108 29 108 108 -104 108 -108 102 -108 50 -97 38 -77 25 -65 20 -52 19 -34 23 -9 32 4 33 14 30 41 18 52 14Z"/><path fill="#afff50" d="M57 16L68 17 85 21 95 25 108 33 108 108 -100 108 -105 99 -108 93 -107 58 -102 49 -95 41 -86 34 -74 27 -63 22 -50 22 -32 25 -9 34 5 35 16 32 43 19 57 16Z"/><path fill="#cfff30" d="M49 20L63 19 81 22 93 27 108 37 108 108 -95 108 -101 99 -105 90 -107 79 -106 68 -104 59 -98 50 -92 43 -83 36 -72 29 -59 25 -47 25 -32 28 -9 37 5 38 14 35 38 24 49 20Z"/><path fill="#efff10" d="M51 22L67 22 85 26 97 32 108 41 108 108 -90 108 -97 97 -101 88 -103 79 -102 70 -100 61 -95 52 -89 45 -80 38 -70 32 -58 27 -43 27 -30 31 -7 41 5 41 13 39 40 25 51 22Z"/><path fill="#ffef00" d="M45 25L54 24 63 24 83 28 95 35 108 46 108 108 -85 108 -89 103 -94 95 -97 86 -98 77 -98 68 -95 61 -92 54 -86 47 -77 40 -68 34 -59 31 -49 29 -36 31 -25 35 -14 41 -8 47 -5 60 -4 64 0 68 2 68 5 62 8 49 10 45 29 32 45 25Z"/><path fill="#ffcf00" d="M48 27L56 26 65 26 83 31 89 34 96 40 107 52 108 100 102 108 10 108 8 99 8 74 12 54 14 49 18 43 27 36 38 30 48 27ZM-55 32L-43 32 -32 34 -19 41 -13 49 -9 67 -8 76 -8 99 -9 104 -12 108 -79 108 -85 102 -89 95 -93 86 -94 76 -93 67 -89 58 -83 49 -75 41 -65 35 -55 32Z"/><path fill="#ffaf00" d="M52 29L67 29 76 31 83 34 95 43 105 56 108 63 108 90 103 99 95 108 18 108 16 105 13 94 12 77 14 63 17 50 22 43 31 36 41 31 52 29ZM-50 34L-38 35 -29 38 -20 45 -15 52 -12 70 -12 88 -15 99 -17 104 -21 108 -72 108 -82 99 -88 88 -90 79 -89 70 -87 61 -83 54 -76 46 -67 40 -58 36 -50 34Z"/><path fill="#ff8f00" d="M46 32L54 31 61 31 70 33 79 36 90 43 100 56 105 68 105 76 105 83 103 90 99 97 94 103 88 108 25 108 21 103 17 94 16 81 16 68 19 54 23 47 29 41 36 36 46 32ZM-55 38L-43 36 -32 39 -24 45 -18 54 -15 72 -16 88 -18 95 -21 101 -29 108 -64 108 -70 104 -76 99 -80 94 -84 86 -85 79 -85 72 -84 65 -81 58 -75 50 -69 45 -63 41 -55 38Z"/><path fill="#ff7000" d="M51 34L65 35 72 37 79 40 90 49 94 54 98 61 100 74 98 86 95 93 91 99 80 108 33 108 27 103 22 94 19 85 19 74 21 59 24 50 28 45 34 40 41 36 51 34ZM-50 40L-43 39 -38 39 -32 41 -28 45 -25 49 -22 54 -19 68 -19 83 -21 90 -23 95 -27 100 -32 104 -43 107 -56 106 -63 103 -68 100 -73 95 -77 90 -79 85 -81 77 -81 70 -79 65 -74 54 -64 45 -58 42 -50 40Z"/><path fill="#ff5000" d="M46 38L54 37 61 37 69 40 76 42 82 47 87 52 91 58 94 65 95 72 95 77 94 84 91 90 87 95 82 101 76 105 68 108 44 108 40 106 34 103 30 99 26 94 23 87 22 81 22 72 24 61 27 52 30 47 34 43 40 40 46 38ZM-53 43L-41 42 -34 43 -30 47 -27 51 -23 63 -22 77 -24 88 -27 93 -31 97 -36 100 -41 102 -52 102 -63 98 -71 90 -74 85 -76 79 -76 68 -72 58 -63 49 -53 43Z"/><path fill="#ff3000" d="M43 41L56 40 68 43 79 51 84 56 87 61 89 67 90 74 87 85 81 94 76 99 70 102 58 105 50 104 45 103 40 101 34 97 30 92 27 86 25 81 25 74 29 56 34 47 38 44 43 41ZM-47 45L-38 45 -31 50 -27 60 -25 76 -26 83 -31 91 -38 96 -47 98 -57 95 -65 90 -70 81 -71 72 -69 63 -65 56 -56 49 -47 45Z"/><path fill="#ff1000" d="M43 45L54 44 65 46 74 52 81 61 84 70 84 76 82 81 77 90 68 96 58 99 47 98 38 93 34 90 31 85 29 76 32 59 36 50 40 47 43 45ZM-44 49L-38 50 -33 56 -30 65 -29 77 -31 83 -36 89 -41 91 -49 92 -56 89 -62 85 -65 77 -66 70 -64 63 -59 56 -52 51 -44 49Z"/><path fill="#ef0000" d="M46 49L54 48 63 51 72 58 76 65 77 74 75 81 70 88 63 92 56 93 47 92 40 88 35 81 34 72 36 59 40 52 46 49ZM-50 56L-45 54 -40 56 -37 59 -35 65 -34 72 -35 77 -38 82 -43 84 -49 84 -53 83 -57 79 -59 74 -59 68 -58 63 -55 59 -50 56Z"/><path fill="#cf0000" d="M47 54L52 53 59 55 65 59 68 65 69 70 68 76 65 81 60 85 54 86 49 85 43 82 40 77 39 70 40 63 43 58 47 54Z"/><path fill="#af0000" d="M51 65L54 65 56 67 56 70 54 72 52 72 50 70 50 67 51 65Z"/><path fill="none" stroke="#111" stroke-width="1.4" vector-effect="non-scaling-stroke" d="M-5 -52L-13 -49 -29 -34 -43 -25 -45 -22 -45 -19 -43 -16 -40 -12 -25 -2 -15 4 -5 7 2 8 11 6 22 2 35 -7 43 -14 45 -20 44 -23 43 -25 27 -35 14 -47 9 -51 2 -53 -5 -52M108 -30L107 -27 108 -24M108 -87L95 -89 85 -89 74 -87 65 -84 59 -80 54 -75 50 -68 45 -55 43 -52 40 -51 36 -53 27 -68 22 -74 16 -77 0 -79 -14 -89 -23 -92 -32 -91 -37 -88 -40 -85 -40 -81 -40 -77 -34 -67 -32 -59 -35 -52 -38 -49 -41 -47 -50 -46 -56 -49 -60 -52 -67 -65 -70 -67 -74 -69 -79 -69 -86 -69 -108 -63M-108 13L-88 4 -76 -6 -70 -8 -47 2 -20 16 -9 20 -2 22 5 21 16 18 28 13 50 1 63 -3 70 -2 88 8 108 12M-108 68L-106 61 -103 54 -97 47 -92 41 -74 29 -67 25 -59 24 -50 23 -40 25 -29 28 -9 36 4 37 14 34 45 20 54 18 63 18 76 20 88 23 98 29 108 35M-97 108L-104 97 -108 84M108 88L103 99 95 108M-71 108L-81 99 -87 88 -90 76 -87 63 -81 52 -70 42 -58 36 -45 34 -36 35 -27 39 -20 45 -16 52 -12 70 -13 88 -15 99 -18 104 -21 108M19 108L15 99 13 88 13 72 15 58 17 50 21 45 27 39 36 34 47 30 58 29 70 30 81 34 90 39 98 47 104 56 108 64M44 43L56 42 67 45 77 53 81 58 84 63 86 74 84 85 77 93 68 99 63 101 56 102 45 100 36 95 32 90 29 85 28 81 27 74 31 57 36 48 39 45 44 43M-45 47L-38 48 -34 50 -32 54 -28 63 -27 77 -29 84 -34 90 -41 94 -49 94 -57 92 -63 86 -67 79 -68 70 -67 63 -61 55 -54 50 -45 47"/></g>
<use href="#el"/>
<circle r="100" fill="none" stroke="#000" stroke-width="2.9" vector-effect="non-scaling-stroke"/>
</g>
<g transform="translate(909.0 548.0) scale(0.5600 0.5600)">
<use href="#ears"/>
<g clip-path="url(#hc)"><circle r="104" fill="#00008f"/><path fill="#0000af" d="M-108 -108L108 -108 108 108 -108 108 -108 -108ZM-4 -24L-7 -21 -9 -17 -9 -13 -8 -9 -5 -7 -2 -6 4 -5 7 -6 9 -9 10 -13 9 -19 4 -24 0 -25 -4 -24Z"/><path fill="#0000cf" d="M-108 -108L108 -108 108 108 -108 108 -108 -108ZM-2 -35L-7 -32 -14 -25 -18 -18 -18 -13 -16 -3 -12 7 -6 14 0 17 6 14 13 7 17 -4 18 -14 16 -22 9 -31 4 -35 -2 -35Z"/><path fill="#0000ef" d="M-108 -108L108 -108 108 108 -108 108 -108 -108ZM0 -41L-8 -38 -16 -31 -21 -22 -23 -14 -21 -2 -17 9 -7 20 -4 23 0 24 4 23 7 21 17 11 22 -2 23 -13 22 -20 13 -34 7 -40 4 -41 0 -41Z"/><path fill="#0010ff" d="M-108 -108L108 -108 108 108 -108 108 -108 -108ZM-2 -46L-12 -40 -21 -31 -25 -21 -26 -11 -24 2 -20 12 -7 26 -4 28 0 29 4 28 7 26 20 12 25 -1 26 -13 26 -18 23 -25 14 -40 7 -45 4 -46 -2 -46Z"/><path fill="#0030ff" d="M-108 -108L108 -108 108 108 -108 108 -108 -108ZM-4 -49L-15 -41 -24 -32 -28 -22 -30 -9 -28 2 -23 13 -7 30 -4 33 0 34 4 33 7 30 22 14 28 0 30 -11 29 -18 26 -27 20 -38 15 -45 11 -48 7 -50 2 -50 -4 -49Z"/><path fill="#0050ff" d="M-108 -108L108 -108 108 108 -108 108 -108 -108ZM4 -54L-4 -52 -10 -49 -18 -43 -24 -38 -28 -32 -30 -27 -33 -11 -31 2 -26 13 -7 34 -4 37 0 38 4 37 7 34 24 14 30 2 33 -9 32 -16 29 -25 20 -45 16 -50 13 -53 9 -54 4 -54Z"/><path fill="#0070ff" d="M-108 -108L108 -108 108 108 -108 108 -108 -108ZM2 -58L-5 -55 -16 -49 -23 -43 -29 -38 -33 -29 -36 -9 -34 2 -27 14 -7 37 -4 40 0 41 4 40 9 36 25 16 33 2 35 -4 36 -9 35 -16 31 -29 20 -52 17 -56 13 -58 7 -59 2 -58Z"/><path fill="#008fff" d="M-108 -108L108 -108 108 108 -108 108 -108 -108ZM11 -63L4 -62 -4 -59 -21 -49 -30 -41 -33 -38 -36 -32 -40 -11 -40 -5 -38 0 -32 13 -9 39 -4 43 0 44 4 43 7 41 14 33 33 7 38 -2 40 -7 39 -13 35 -27 25 -54 20 -61 16 -62 11 -63Z"/><path fill="#00afff" d="M-108 -108L108 -108 108 108 -108 108 -108 -108ZM7 -67L-4 -62 -29 -47 -36 -41 -41 -34 -41 -22 -45 -11 -44 -5 -42 0 -34 13 -9 41 -4 45 0 46 5 45 13 38 40 2 43 -4 45 -9 44 -13 41 -20 33 -43 30 -58 27 -63 23 -67 20 -68 14 -68 7 -67Z"/><path fill="#00cfff" d="M-108 -108L108 -108 108 108 -108 108 -108 -108ZM18 -74L9 -71 0 -67 -18 -56 -37 -47 -52 -37 -58 -39 -72 -50 -76 -50 -80 -49 -85 -45 -88 -41 -93 -31 -98 -23 -99 -18 -98 -14 -95 -11 -90 -9 -70 -11 -63 -10 -54 -6 -49 -1 -38 13 -9 44 -2 48 2 48 6 47 13 41 36 11 56 -11 56 -13 56 -14 54 -16 48 -20 45 -23 37 -45 37 -61 34 -68 31 -72 27 -74 18 -74Z"/><path fill="#00efff" d="M-108 -108L108 -108 108 108 -108 108 -108 -5 -100 -2 -92 0 -68 -3 -61 -1 -54 1 -47 7 -27 26 -10 45 -4 49 2 50 7 48 13 44 36 14 50 0 68 -8 76 -10 85 -10 86 -11 86 -13 70 -28 65 -31 56 -33 52 -35 49 -41 48 -45 48 -59 46 -68 42 -74 38 -77 29 -81 22 -80 13 -77 2 -72 -22 -57 -41 -50 -47 -49 -52 -49 -70 -57 -79 -58 -86 -57 -93 -54 -108 -45 -108 -108Z"/><path fill="#10ffef" d="M-108 -108L108 -108 108 108 -108 108 -108 2 -92 5 -68 3 -56 5 -49 10 -31 25 -9 48 -4 51 2 52 7 50 13 46 36 17 49 6 58 1 67 -1 76 -1 88 1 93 0 102 -5 104 -9 106 -14 105 -20 103 -24 92 -36 83 -50 77 -57 49 -79 41 -84 34 -86 27 -87 18 -84 5 -77 -18 -62 -27 -57 -36 -55 -43 -54 -50 -54 -68 -62 -79 -64 -94 -62 -108 -56 -108 -108Z"/><path fill="#30ffcf" d="M-108 -108L108 -108 108 -40 90 -59 77 -70 50 -86 41 -90 34 -91 25 -91 16 -87 5 -81 -17 -65 -25 -61 -34 -58 -41 -58 -49 -58 -68 -66 -79 -69 -94 -68 -108 -64 -108 -108ZM107 0L108 -1 108 108 -108 108 -108 8 -92 8 -70 7 -63 7 -56 10 -47 15 -32 26 -11 49 -5 53 2 54 7 52 13 49 36 19 43 13 50 8 59 4 68 3 94 5 101 3 107 0Z"/><path fill="#50ffaf" d="M-108 -108L108 -108 108 -54 90 -70 74 -81 52 -92 36 -95 25 -95 16 -92 5 -85 -16 -68 -23 -64 -32 -61 -40 -61 -47 -62 -68 -71 -79 -73 -94 -73 -108 -70 -108 -108ZM62 7L72 7 94 8 108 6 108 108 -108 108 -108 13 -72 10 -63 11 -56 13 -45 19 -32 28 -11 51 -5 55 2 56 9 54 14 50 31 28 41 17 52 10 62 7Z"/><path fill="#70ff8f" d="M-108 -108L108 -108 108 -65 92 -78 72 -89 54 -96 38 -100 25 -99 14 -95 4 -88 -16 -70 -23 -67 -31 -64 -38 -64 -45 -65 -67 -74 -79 -78 -94 -78 -108 -76 -108 -108ZM60 11L70 10 94 12 108 11 108 108 -108 108 -108 17 -76 14 -65 14 -56 17 -43 23 -32 30 -11 54 -5 57 2 58 9 56 15 52 31 31 41 19 50 14 60 11Z"/><path fill="#8fff70" d="M-108 -108L108 -108 108 -74 89 -86 68 -96 50 -102 34 -104 22 -102 11 -97 2 -90 -14 -75 -22 -70 -31 -67 -40 -67 -47 -69 -67 -79 -76 -81 -92 -83 -108 -81 -108 -108ZM57 14L72 13 108 16 108 108 -108 108 -108 22 -92 18 -79 17 -65 18 -54 20 -41 26 -32 32 -27 38 -16 51 -11 56 -5 59 2 60 9 58 14 55 20 49 31 33 40 24 47 18 57 14Z"/><path fill="#afff50" d="M-108 -108L108 -108 108 -81 86 -94 67 -102 49 -107 32 -107 22 -106 11 -101 0 -93 -13 -79 -19 -74 -27 -70 -36 -70 -45 -73 -65 -82 -76 -86 -92 -87 -108 -86 -108 -108ZM64 16L83 17 108 21 108 108 -108 108 -108 27 -93 22 -83 20 -67 21 -54 23 -41 28 -32 34 -27 40 -16 53 -11 58 -4 62 4 62 11 60 16 56 32 34 43 23 52 18 64 16Z"/><path fill="#cfff30" d="M-108 -108L17 -108 9 -104 0 -98 -20 -76 -25 -73 -31 -72 -40 -74 -59 -85 -74 -90 -90 -92 -108 -91 -108 -108ZM62 -108L108 -108 108 -87 85 -100 62 -108ZM58 20L70 19 85 20 108 26 108 108 -108 108 -108 32 -94 26 -85 23 -67 24 -52 26 -41 30 -33 36 -28 41 -18 54 -11 61 -4 64 4 65 11 63 18 58 31 38 41 27 49 23 58 20Z"/><path fill="#efff10" d="M-108 -108L8 -108 0 -103 -6 -97 -21 -79 -25 -76 -31 -75 -38 -77 -58 -89 -70 -93 -88 -96 -108 -95 -108 -108ZM76 -108L108 -108 108 -93 92 -101 76 -108ZM55 23L67 22 85 23 93 25 108 31 108 108 -108 108 -108 38 -99 32 -90 28 -83 27 -61 27 -47 30 -40 33 -32 38 -19 56 -13 62 -5 66 4 67 11 65 16 62 22 56 31 41 36 35 45 27 55 23Z"/><path fill="#ffef00" d="M-108 -108L1 -108 -12 -97 -23 -81 -29 -79 -34 -80 -43 -87 -50 -91 -67 -97 -86 -100 -108 -100 -108 -108ZM88 -108L108 -108 108 -98 88 -108ZM53 27L65 25 85 26 95 31 108 38 108 108 -108 108 -108 45 -92 34 -83 31 -67 31 -54 31 -43 34 -38 36 -32 41 -20 58 -13 65 -5 68 4 70 11 68 18 64 23 58 32 43 36 38 45 30 53 27Z"/><path fill="#ffcf00" d="M-108 -108L-7 -108 -23 -95 -27 -93 -38 -94 -62 -101 -77 -104 -92 -105 -108 -104 -108 -108ZM98 -108L108 -108 108 -103 98 -108ZM51 31L65 29 85 31 97 38 108 48 108 104 105 108 -108 108 -108 53 -99 45 -90 40 -81 36 -63 34 -52 34 -43 36 -34 41 -21 59 -13 68 -4 72 5 73 13 71 20 66 25 59 36 41 43 34 51 31Z"/><path fill="#ffaf00" d="M-78 -108L-16 -108 -27 -103 -38 -102 -78 -108ZM51 34L58 33 65 33 76 35 83 37 94 44 103 56 108 68 108 84 104 95 97 108 -108 108 -108 62 -99 53 -88 46 -70 40 -61 37 -52 37 -43 38 -38 41 -34 44 -22 62 -14 69 -5 74 5 76 14 74 22 69 27 61 36 43 43 38 51 34Z"/><path fill="#ff8f00" d="M52 38L63 38 70 40 77 43 88 52 95 61 99 72 98 85 94 97 87 108 -108 108 -108 74 -105 68 -99 61 -92 55 -65 42 -52 40 -45 40 -40 42 -34 47 -23 63 -16 71 -5 78 5 80 14 78 22 74 29 65 38 45 45 40 52 38Z"/><path fill="#ff7000" d="M-56 43L-47 43 -39 45 -34 50 -23 68 -16 75 -5 82 2 84 7 84 18 82 26 76 33 67 40 50 43 46 50 43 60 43 68 48 80 59 85 65 87 70 88 77 88 85 86 92 82 101 77 108 -102 108 -105 97 -105 88 -104 79 -99 70 -94 64 -88 59 -72 52 -63 46 -56 43Z"/><path fill="#ff5000" d="M-55 47L-47 46 -40 48 -36 52 -25 70 -16 80 -11 84 -4 87 9 90 18 89 27 83 35 74 45 52 50 49 56 50 59 52 64 56 74 70 77 79 76 90 71 99 63 108 -96 108 -99 99 -100 90 -98 81 -94 74 -90 68 -84 63 -61 49 -55 47Z"/><path fill="#ff3000" d="M-54 50L-47 50 -41 52 -38 56 -25 76 -18 84 -7 92 5 98 13 99 20 100 25 98 31 96 38 88 49 68 52 65 56 67 60 74 62 79 61 86 58 92 54 97 47 103 38 108 -90 108 -92 101 -94 92 -92 83 -89 76 -84 70 -78 65 -61 54 -54 50Z"/><path fill="#ff1000" d="M-56 56L-49 54 -45 55 -41 57 -25 82 -7 103 -3 108 -83 108 -86 101 -87 94 -87 86 -84 79 -81 74 -75 68 -65 61 -56 56Z"/><path fill="#ef0000" d="M-57 61L-52 60 -49 60 -45 61 -41 64 -23 97 -20 103 -19 108 -75 108 -78 103 -80 95 -80 88 -79 83 -75 76 -71 70 -64 65 -57 61Z"/><path fill="#cf0000" d="M-57 67L-52 66 -49 67 -45 69 -40 76 -35 88 -32 97 -32 103 -34 108 -64 108 -70 101 -73 92 -73 86 -71 81 -65 72 -61 69 -57 67Z"/><path fill="#af0000" d="M-59 76L-56 75 -52 75 -49 77 -47 81 -45 86 -44 92 -45 95 -49 99 -52 100 -56 99 -61 95 -63 92 -64 88 -63 83 -61 78 -59 76Z"/><path fill="none" stroke="#111" stroke-width="1.4" vector-effect="non-scaling-stroke" d="M2 -54L-5 -52 -13 -48 -21 -41 -25 -37 -30 -27 -33 -11 -31 2 -26 13 -7 34 -4 37 0 38 4 37 7 35 24 14 31 2 33 -9 32 -16 30 -25 19 -47 16 -51 13 -53 7 -55 2 -54M-108 -3L-99 0 -92 1 -68 -1 -61 0 -54 2 -47 8 -29 25 -9 47 -4 50 2 50 7 49 13 44 36 14 43 7 50 1 59 -3 70 -7 77 -7 88 -6 91 -7 93 -11 92 -14 91 -16 81 -23 70 -34 67 -37 58 -40 55 -41 53 -47 52 -59 49 -68 41 -77 36 -80 31 -82 23 -82 14 -79 2 -72 -20 -59 -29 -54 -40 -51 -47 -50 -52 -50 -70 -58 -79 -59 -86 -58 -93 -56 -108 -48M108 -74L89 -86 71 -95 54 -101 38 -104 25 -103 13 -98 2 -90 -16 -73 -23 -69 -31 -67 -36 -67 -43 -68 -65 -78 -77 -82 -92 -83 -108 -81M-108 22L-92 18 -79 17 -65 18 -54 20 -41 26 -32 32 -27 38 -16 51 -11 56 -5 59 2 60 9 58 14 55 19 50 29 36 36 27 43 20 50 16 59 14 70 13 108 16M1 -108L-12 -97 -23 -81 -29 -79 -34 -80 -43 -87 -50 -91 -67 -97 -86 -100 -108 -100M108 -98L88 -108M-108 45L-95 36 -85 32 -63 31 -50 32 -41 35 -34 39 -30 43 -20 58 -13 65 -5 68 4 70 11 68 18 64 23 58 32 43 36 38 45 30 52 27 65 25 85 26 95 31 108 38M-102 108L-105 97 -105 88 -104 79 -99 70 -95 65 -88 60 -72 52 -61 45 -50 43 -45 43 -40 45 -35 49 -23 68 -16 75 -5 82 2 84 7 84 16 82 24 77 32 68 41 47 47 44 54 42 61 44 67 47 81 60 87 70 88 79 87 88 83 99 77 108M-81 108L-85 101 -86 92 -85 85 -82 77 -76 70 -67 63 -56 57 -49 55 -43 57 -40 61 -26 83 -10 103 -7 108"/></g>
<use href="#el"/>
<circle r="100" fill="none" stroke="#000" stroke-width="2.9" vector-effect="non-scaling-stroke"/>
</g>
<g transform="translate(366.5 550.5) scale(0.5450 0.5500)">
<use href="#ears"/>
<g clip-path="url(#hc)"><circle r="104" fill="#00008f"/><path fill="#0000af" d="M-108 -108L33 -108 43 -100 54 -96 65 -95 92 -97 108 -96 108 108 -84 108 -108 98 -108 -108Z"/><path fill="#0000cf" d="M-108 -108L30 -108 40 -99 45 -96 52 -94 63 -93 90 -94 108 -93 108 108 -72 108 -108 93 -108 -108Z"/><path fill="#0000ef" d="M-108 -108L27 -108 38 -97 43 -94 50 -92 61 -91 90 -92 108 -91 108 108 -60 108 -90 97 -108 89 -108 -108Z"/><path fill="#0010ff" d="M-108 -108L25 -108 36 -95 41 -92 49 -90 61 -89 88 -90 108 -88 108 108 -50 108 -88 93 -108 84 -108 -108Z"/><path fill="#0030ff" d="M-108 -108L22 -108 34 -94 40 -91 47 -88 59 -86 88 -88 108 -86 108 108 -40 108 -85 90 -108 79 -108 -108Z"/><path fill="#0050ff" d="M-108 -108L19 -108 32 -93 38 -89 45 -87 59 -84 88 -85 108 -83 108 108 -28 108 -45 103 -79 89 -108 75 -108 -108Z"/><path fill="#0070ff" d="M-108 -108L17 -108 31 -92 36 -88 43 -85 58 -83 88 -83 108 -81 108 108 -13 108 -32 104 -47 99 -86 82 -108 71 -108 -108Z"/><path fill="#008fff" d="M-108 -108L14 -108 29 -91 34 -87 41 -84 58 -81 86 -81 108 -78 108 108 0 108 -29 102 -43 97 -85 79 -108 66 -108 -108Z"/><path fill="#00afff" d="M-108 -108L12 -108 28 -90 32 -86 40 -83 58 -79 86 -79 108 -76 108 108 9 108 -2 104 -25 100 -41 95 -83 76 -108 62 -108 -108Z"/><path fill="#00cfff" d="M-108 -108L10 -108 25 -90 32 -85 40 -81 58 -77 86 -77 97 -76 108 -73 108 108 17 108 0 101 -25 97 -43 91 -83 73 -108 57 -108 -108Z"/><path fill="#00efff" d="M-108 -108L7 -108 24 -88 31 -84 38 -80 58 -76 79 -76 90 -75 108 -70 108 108 25 108 2 99 -25 94 -41 89 -81 70 -96 61 -108 53 -108 -108Z"/><path fill="#10ffef" d="M-108 -108L5 -108 22 -88 29 -83 36 -79 47 -76 58 -74 77 -74 88 -73 97 -71 108 -68 108 108 34 108 2 96 -29 91 -43 85 -74 71 -94 59 -108 48 -108 -108Z"/><path fill="#30ffcf" d="M-106 -108L2 -108 22 -86 29 -81 36 -77 56 -73 77 -73 88 -71 99 -69 108 -65 108 108 47 108 4 95 -31 88 -45 82 -72 68 -94 55 -108 43 -108 -106 -106 -108Z"/><path fill="#50ffaf" d="M-103 -106L-101 -108 0 -108 20 -86 27 -80 34 -77 43 -74 54 -71 77 -71 86 -70 97 -67 108 -62 108 108 72 108 58 106 36 101 4 92 -31 85 -47 79 -70 67 -92 52 -106 40 -108 38 -108 -100 -103 -106Z"/><path fill="#70ff8f" d="M-97 -106L-96 -108 -3 -108 19 -85 25 -79 32 -76 41 -72 52 -70 77 -69 86 -68 97 -64 108 -59 108 104 63 102 47 100 -29 83 -45 77 -65 67 -89 50 -101 40 -108 32 -108 -93 -97 -106Z"/><path fill="#8fff70" d="M-92 -106L-90 -108 -6 -108 16 -84 23 -79 31 -75 40 -71 52 -69 76 -68 85 -66 97 -62 108 -55 108 94 70 97 49 96 32 94 -25 82 -41 76 -60 67 -83 50 -96 40 -108 25 -108 -84 -100 -97 -92 -106Z"/><path fill="#afff50" d="M-86 -106L-84 -108 -8 -108 15 -83 22 -78 29 -74 38 -70 50 -67 76 -66 85 -64 96 -59 108 -51 108 83 76 91 50 92 31 91 -18 81 -36 76 -54 67 -69 58 -92 39 -101 29 -108 18 -108 -74 -97 -94 -86 -106Z"/><path fill="#cfff30" d="M-81 -106L-79 -108 -12 -108 -4 -101 14 -81 27 -73 36 -69 49 -66 74 -65 83 -63 95 -58 106 -49 108 -47 108 72 85 82 65 87 45 89 25 87 -20 79 -40 72 -60 61 -87 40 -98 27 -108 8 -108 -62 -94 -90 -88 -99 -81 -106Z"/><path fill="#efff10" d="M-75 -106L-73 -108 -15 -108 -5 -100 13 -81 25 -72 34 -68 47 -65 74 -63 81 -62 90 -58 100 -50 108 -41 108 60 85 74 67 82 49 85 29 85 -15 77 -38 71 -49 65 -58 59 -82 40 -90 31 -95 23 -108 -3 -108 -49 -90 -88 -83 -98 -75 -106Z"/><path fill="#ffef00" d="M-69 -106L-67 -108 -19 -108 -7 -99 13 -78 23 -71 32 -67 45 -64 77 -61 85 -58 93 -52 100 -45 108 -34 108 47 92 61 72 74 56 80 40 82 27 81 4 78 -27 72 -47 64 -63 52 -81 36 -90 25 -104 -5 -108 -20 -108 -34 -104 -47 -84 -90 -77 -99 -69 -106Z"/><path fill="#ffcf00" d="M-63 -106L-60 -108 -23 -108 -11 -100 11 -77 22 -70 32 -65 45 -62 76 -59 84 -56 91 -50 100 -40 108 -22 108 31 102 40 94 49 76 65 63 73 47 78 29 79 -9 74 -25 70 -36 67 -45 62 -54 57 -73 40 -84 27 -89 18 -102 -13 -104 -22 -104 -29 -101 -40 -90 -61 -80 -88 -72 -99 -63 -106Z"/><path fill="#ffaf00" d="M-56 -106L-50 -108 -30 -108 -25 -106 -13 -99 9 -76 20 -68 31 -64 43 -61 76 -57 85 -52 92 -45 98 -32 106 -11 107 2 106 13 102 25 94 38 83 50 67 65 59 70 52 73 43 75 34 76 5 73 -25 68 -40 63 -51 56 -65 43 -80 27 -86 16 -97 -13 -99 -22 -99 -31 -95 -40 -84 -58 -78 -79 -74 -90 -66 -99 -56 -106Z"/><path fill="#ff8f00" d="M-44 -106L-38 -107 -31 -106 -18 -100 -9 -93 9 -74 20 -66 31 -62 45 -59 74 -56 83 -51 89 -43 93 -34 100 -9 101 2 99 13 94 25 84 40 68 58 58 66 50 69 43 71 27 73 -4 69 -31 64 -41 59 -52 52 -66 38 -77 23 -82 14 -93 -16 -95 -23 -94 -31 -90 -39 -81 -50 -78 -56 -74 -77 -69 -90 -65 -95 -58 -101 -51 -104 -44 -106Z"/><path fill="#ff7000" d="M-47 -103L-40 -104 -32 -103 -25 -101 -20 -99 -11 -92 7 -72 20 -64 31 -60 47 -57 72 -54 79 -50 84 -45 88 -36 94 -9 94 0 93 9 89 20 79 38 65 55 55 63 41 68 25 70 -4 67 -31 61 -41 57 -51 50 -62 38 -73 23 -77 14 -88 -16 -90 -22 -90 -27 -86 -35 -76 -47 -72 -52 -70 -76 -65 -88 -57 -97 -47 -103Z"/><path fill="#ff5000" d="M-40 -101L-29 -100 -19 -95 -11 -89 5 -71 11 -66 18 -62 29 -59 47 -55 72 -52 77 -49 81 -43 84 -36 88 -7 88 0 87 9 81 23 71 40 59 54 50 61 38 66 23 66 -9 63 -32 58 -41 54 -51 47 -60 36 -69 22 -74 11 -83 -16 -84 -22 -84 -27 -81 -32 -70 -45 -68 -50 -66 -56 -65 -76 -61 -87 -57 -92 -52 -96 -47 -99 -40 -101Z"/><path fill="#ff3000" d="M-42 -97L-36 -98 -31 -98 -20 -93 -13 -87 4 -68 16 -60 29 -56 52 -52 68 -50 74 -47 77 -43 79 -36 82 -9 82 0 80 9 74 25 66 40 57 50 49 58 38 62 23 63 -5 60 -29 56 -38 53 -45 48 -52 41 -60 29 -66 18 -70 7 -77 -14 -77 -23 -76 -29 -67 -42 -63 -49 -62 -56 -61 -74 -59 -83 -52 -92 -47 -95 -42 -97Z"/><path fill="#ff1000" d="M-42 -94L-32 -95 -27 -94 -22 -92 -13 -85 2 -67 7 -62 14 -58 23 -55 67 -47 70 -45 73 -41 75 -32 76 -9 75 2 73 11 68 25 60 40 53 49 45 55 36 59 23 60 0 58 -27 54 -36 51 -41 48 -47 42 -52 34 -60 20 -65 7 -69 -9 -70 -20 -68 -27 -62 -40 -59 -47 -58 -54 -57 -72 -56 -79 -50 -88 -42 -94Z"/><path fill="#ef0000" d="M-35 -92L-27 -91 -20 -87 -14 -82 0 -64 11 -56 20 -53 38 -50 59 -45 65 -43 68 -39 70 -31 70 -14 69 0 66 13 61 27 55 40 49 47 42 52 34 55 23 56 -27 50 -34 49 -40 45 -47 36 -60 5 -62 -7 -63 -18 -61 -25 -54 -45 -53 -70 -51 -79 -48 -85 -44 -88 -40 -91 -35 -92Z"/><path fill="#cf0000" d="M-35 -88L-27 -88 -21 -85 -16 -79 -2 -61 7 -54 18 -50 42 -47 56 -41 59 -39 63 -36 64 -31 64 -23 62 0 59 14 55 27 50 38 45 45 40 49 34 51 25 52 -25 47 -36 44 -41 37 -53 4 -55 -5 -55 -13 -54 -20 -48 -43 -49 -67 -47 -76 -43 -83 -39 -86 -35 -88Z"/><path fill="#af0000" d="M-32 -85L-27 -84 -22 -81 -5 -57 4 -49 14 -45 38 -45 48 -40 54 -34 56 -27 54 -14 53 4 50 18 44 36 41 41 36 45 25 46 -2 42 -25 41 -32 39 -36 35 -45 2 -46 -7 -41 -40 -43 -63 -43 -72 -41 -77 -39 -81 -36 -83 -32 -85Z"/><path fill="#8f0000" d="M-33 -77L-29 -79 -26 -77 -23 -75 -20 -68 -7 -40 -6 -36 -7 -34 -11 -31 -16 -28 -20 -28 -23 -31 -34 -56 -37 -68 -35 -74 -33 -77ZM32 -40L39 -38 41 -36 43 -32 42 -29 39 -22 37 -16 40 2 40 16 38 27 36 33 32 37 25 38 15 34 11 31 9 27 13 -5 12 -13 8 -31 11 -34 15 -36 32 -40ZM-23 13L-22 12 -20 12 -15 20 -15 25 -18 28 -22 28 -25 25 -25 19 -23 13Z"/><path fill="none" stroke="#111" stroke-width="1.4" vector-effect="non-scaling-stroke" d="M32 -108L41 -99 47 -97 54 -95 63 -94 90 -95 108 -94M-76 108L-108 95M20 -108L33 -94 38 -90 45 -88 59 -85 88 -86 108 -84M-33 108L-47 103 -83 89 -108 77M11 -108L26 -90 32 -85 40 -82 58 -78 86 -78 97 -77 108 -74M14 108L0 103 -25 98 -41 93 -83 74 -108 59M1 -108L20 -86 27 -81 34 -77 45 -74 56 -72 77 -72 86 -71 97 -68 108 -63M-108 -103L-103 -108M60 108L38 103 4 93 -25 88 -40 83 -62 72 -78 63 -95 51 -108 40M-10 -108L14 -82 27 -74 36 -70 49 -67 76 -65 85 -63 97 -58 108 -49M-108 -67L-95 -92 -88 -101 -81 -108M108 77L76 87 61 89 49 90 27 88 -27 78 -40 73 -54 66 -64 59 -82 45 -97 31 -108 12M-27 -108L-20 -105 -13 -100 9 -77 22 -68 32 -64 45 -61 74 -59 84 -54 91 -49 97 -40 103 -25 108 -12M108 18L104 27 100 34 93 43 85 52 73 63 65 68 58 72 49 75 38 77 25 77 -14 71 -37 65 -45 61 -54 55 -72 38 -84 23 -99 -13 -101 -25 -100 -32 -99 -38 -86 -59 -80 -79 -77 -88 -72 -95 -67 -101 -61 -105 -55 -108M-39 -99L-29 -98 -19 -94 -12 -88 5 -69 16 -61 32 -57 52 -53 70 -51 74 -49 79 -43 81 -36 84 -7 84 2 83 9 76 25 68 40 58 52 49 59 38 63 23 65 -9 61 -31 57 -41 52 -48 47 -56 38 -65 23 -71 11 -78 -11 -80 -20 -80 -25 -78 -31 -68 -43 -65 -49 -64 -56 -63 -74 -59 -85 -56 -90 -50 -95 -45 -98 -39 -99M-37 -85L-32 -86 -29 -86 -22 -83 -17 -77 -5 -59 5 -51 16 -47 40 -45 53 -40 58 -34 59 -31 60 -25 57 4 54 17 47 36 42 43 38 47 32 48 25 49 -2 45 -25 44 -34 41 -38 37 -41 31 -43 20 -49 4 -50 -7 -49 -16 -44 -41 -45 -65 -45 -72 -43 -79 -37 -85"/></g>
<use href="#el"/>
<circle r="100" fill="none" stroke="#000" stroke-width="2.9" vector-effect="non-scaling-stroke"/>
</g>
<g transform="translate(1140.4 548.0) scale(0.5600 0.5600)">
<use href="#ears"/>
<g clip-path="url(#hc)"><circle r="104" fill="#00008f"/><path fill="#0000af" d="M-108 -108L108 -108 108 108 -108 108 -108 -108Z"/><path fill="#0000cf" d="M-108 -108L108 -108 108 108 -108 108 -108 -108Z"/><path fill="#0000ef" d="M-108 -108L108 -108 108 108 -108 108 -108 -108Z"/><path fill="#0010ff" d="M-108 -108L108 -108 108 108 -108 108 -108 -108Z"/><path fill="#0030ff" d="M-108 -108L30 -108 27 -105 24 -101 22 -92 24 -85 25 -83 29 -82 34 -85 41 -95 42 -103 39 -108 108 -108 108 108 -108 108 -108 -108Z"/><path fill="#0050ff" d="M-108 -108L22 -108 19 -97 19 -88 20 -85 23 -81 29 -79 36 -82 43 -90 48 -99 49 -108 108 -108 108 108 -108 108 -108 -108Z"/><path fill="#0070ff" d="M-108 -108L18 -108 16 -97 17 -86 22 -79 25 -77 29 -77 36 -79 47 -88 53 -97 56 -108 108 -108 108 108 -108 108 -108 -108Z"/><path fill="#008fff" d="M-108 -108L14 -108 13 -95 15 -85 17 -81 21 -77 25 -75 29 -75 38 -77 50 -86 57 -97 61 -108 108 -108 108 108 -108 108 -108 -108Z"/><path fill="#00afff" d="M-108 -108L11 -108 11 -94 14 -83 16 -79 20 -76 29 -73 34 -74 40 -76 52 -85 61 -95 67 -108 108 -108 108 108 -108 108 -108 -108Z"/><path fill="#00cfff" d="M-108 -108L8 -108 9 -94 10 -86 13 -81 16 -77 20 -74 29 -71 34 -72 40 -74 47 -77 54 -83 66 -95 72 -108 108 -108 108 108 -108 108 -108 -108Z"/><path fill="#00efff" d="M-108 -108L6 -108 6 -94 11 -81 14 -76 18 -73 23 -70 29 -70 34 -70 41 -72 49 -76 56 -81 69 -94 74 -101 77 -108 108 -108 108 108 -108 108 -108 -108Z"/><path fill="#10ffef" d="M-108 -108L3 -108 4 -99 5 -90 8 -83 11 -78 14 -74 20 -70 25 -68 31 -68 43 -71 58 -79 73 -94 79 -101 82 -108 108 -108 108 108 -103 108 -104 107 -108 103 -108 -108Z"/><path fill="#30ffcf" d="M-108 -108L1 -108 3 -90 6 -83 9 -77 14 -72 18 -69 23 -67 31 -66 38 -67 45 -69 60 -77 69 -85 78 -94 84 -101 88 -108 108 -108 108 108 -96 108 -99 105 -108 95 -108 -108Z"/><path fill="#50ffaf" d="M-108 -108L-1 -108 1 -90 4 -83 8 -76 13 -71 18 -67 23 -65 31 -64 40 -66 48 -68 56 -72 65 -77 76 -86 84 -94 90 -101 94 -108 108 -108 108 108 -88 108 -94 103 -108 85 -108 -108Z"/><path fill="#70ff8f" d="M-108 -108L-4 -108 -1 -90 2 -83 6 -76 11 -70 16 -66 22 -64 29 -63 44 -65 61 -72 75 -81 86 -90 95 -99 100 -108 108 -108 108 108 -79 108 -88 100 -100 86 -108 72 -108 -108Z"/><path fill="#8fff70" d="M-108 -108L-6 -108 -2 -88 2 -79 5 -73 11 -67 16 -64 22 -62 29 -61 40 -62 50 -65 59 -69 72 -76 86 -85 95 -92 102 -99 108 -108 108 108 -70 108 -83 97 -92 86 -99 76 -103 65 -106 52 -106 38 -103 22 -95 2 -94 1 -92 1 -90 0 -90 -2 -97 -9 -108 -15 -108 -108Z"/><path fill="#afff50" d="M-108 -108L-9 -108 -3 -86 4 -73 9 -67 14 -63 20 -60 27 -59 43 -61 61 -67 94 -85 101 -90 108 -97 108 108 -58 108 -68 101 -78 94 -85 86 -90 77 -94 68 -97 58 -98 47 -96 36 -91 25 -81 7 -79 2 -79 -4 -81 -13 -88 -22 -95 -26 -108 -28 -108 -108ZM-4 -20L-9 -16 -13 -9 -15 -2 -15 13 -14 25 -13 34 -9 41 -6 43 -4 44 -1 43 1 41 4 35 8 18 10 -5 9 -13 6 -18 2 -21 -4 -20Z"/><path fill="#cfff30" d="M-108 -108L-11 -108 -5 -86 2 -72 7 -66 13 -61 18 -59 25 -57 40 -58 56 -62 94 -79 108 -88 108 108 -39 108 -57 101 -65 95 -72 89 -79 81 -85 72 -88 61 -89 52 -89 45 -87 38 -73 7 -71 -2 -72 -9 -76 -20 -83 -28 -92 -33 -108 -37 -108 -108ZM-4 -24L-11 -20 -18 -13 -21 -5 -23 5 -22 27 -19 40 -16 46 -13 50 -9 53 -5 54 -2 53 2 51 7 42 15 16 17 0 15 -11 11 -19 8 -22 4 -24 -4 -24Z"/><path fill="#efff10" d="M-108 -108L-13 -108 -7 -85 1 -70 5 -65 11 -60 16 -57 23 -55 36 -56 52 -59 108 -80 108 108 18 108 5 102 -2 100 -27 101 -41 99 -54 93 -67 83 -73 76 -77 68 -79 61 -80 52 -78 40 -69 18 -65 7 -64 -4 -64 -11 -66 -16 -69 -22 -79 -32 -92 -40 -108 -45 -108 -108ZM-2 -27L-13 -23 -22 -16 -28 -9 -30 2 -29 29 -24 47 -21 54 -16 60 -11 64 -5 65 -2 64 2 61 9 50 20 14 22 2 21 -9 15 -20 12 -23 7 -26 -2 -27Z"/><path fill="#ffef00" d="M-108 -108L-16 -108 -8 -83 -1 -68 4 -63 11 -57 16 -54 22 -53 31 -53 49 -56 77 -65 108 -72 108 108 37 108 25 101 14 90 11 85 9 79 9 68 17 38 26 13 28 0 26 -11 21 -20 14 -26 7 -29 -4 -29 -16 -25 -32 -16 -36 -13 -38 -9 -37 14 -36 34 -30 56 -20 77 -19 81 -21 85 -23 87 -27 89 -32 89 -38 89 -49 84 -59 76 -65 69 -68 63 -70 56 -70 50 -68 41 -58 13 -54 -7 -54 -13 -60 -22 -78 -38 -90 -45 -108 -52 -108 -108Z"/><path fill="#ffcf00" d="M-108 -108L-19 -108 -9 -81 -3 -68 7 -57 14 -52 20 -50 27 -50 49 -53 79 -62 90 -63 108 -63 108 -14 101 -13 93 -11 88 -6 86 -2 88 2 94 5 101 6 108 6 108 101 97 105 85 108 61 108 52 106 44 103 37 99 31 94 25 87 20 79 17 72 16 65 17 54 20 40 24 31 31 14 34 5 34 -2 33 -7 28 -18 18 -29 13 -32 7 -33 -9 -31 -34 -23 -40 -22 -49 -23 -58 -28 -74 -41 -83 -47 -94 -53 -108 -58 -108 -108Z"/><path fill="#ffaf00" d="M-108 -108L-21 -108 -10 -77 -5 -67 5 -55 13 -48 18 -45 23 -45 36 -48 52 -51 70 -57 77 -58 86 -58 94 -56 99 -54 105 -50 108 -46 108 -38 107 -36 102 -31 82 -14 77 -7 76 -2 77 2 79 5 85 10 94 15 108 19 108 92 99 96 90 99 81 101 70 102 61 101 52 98 45 95 38 90 31 83 25 74 23 67 21 58 22 47 24 38 29 29 38 14 41 5 41 -2 40 -7 34 -18 22 -33 18 -36 14 -37 -9 -34 -32 -28 -40 -28 -49 -30 -58 -34 -83 -53 -108 -65 -108 -108Z"/><path fill="#ff8f00" d="M-108 -108L-24 -108 -9 -70 -4 -60 6 -49 8 -45 7 -42 4 -40 0 -38 -32 -32 -43 -33 -52 -36 -81 -57 -108 -71 -108 -108ZM68 -52L76 -54 85 -51 90 -47 92 -43 91 -40 89 -34 81 -25 61 -7 58 -6 56 -6 52 -8 33 -29 29 -34 28 -38 30 -41 36 -45 54 -47 68 -52ZM57 4L61 4 77 14 98 25 108 32 108 80 100 86 92 91 83 93 72 94 63 94 54 91 47 88 40 82 33 74 28 67 26 59 25 52 26 45 28 38 34 28 52 7 57 4Z"/><path fill="#ff7000" d="M-108 -108L-28 -108 -20 -90 -11 -67 0 -49 1 -45 1 -43 -4 -41 -32 -36 -41 -37 -52 -41 -81 -63 -108 -78 -108 -108ZM65 -45L70 -46 74 -46 77 -43 78 -40 74 -32 68 -28 63 -25 58 -24 52 -25 45 -29 40 -34 39 -38 41 -40 56 -42 65 -45ZM54 20L59 18 65 19 81 24 94 32 102 41 107 50 107 56 107 61 103 70 94 79 86 83 77 86 68 86 61 85 54 83 47 79 40 73 35 67 31 59 30 52 30 45 31 40 34 35 40 29 54 20Z"/><path fill="#ff5000" d="M-108 -108L-32 -108 -20 -85 -9 -54 -8 -49 -9 -47 -12 -45 -31 -40 -40 -41 -49 -45 -83 -71 -108 -86 -108 -108ZM52 29L61 27 70 29 79 33 88 40 92 47 94 56 92 64 86 71 81 74 76 76 70 77 63 77 56 75 50 73 45 69 40 63 36 58 34 52 34 43 36 40 40 36 45 32 52 29Z"/><path fill="#ff3000" d="M-108 -108L-36 -108 -25 -90 -22 -83 -16 -59 -16 -52 -22 -48 -31 -45 -38 -45 -47 -49 -54 -54 -85 -80 -108 -94 -108 -108ZM48 38L54 36 61 36 67 38 73 41 77 45 79 50 79 56 77 61 70 66 63 67 54 65 47 60 41 54 39 47 41 43 42 41 48 38Z"/><path fill="#ff1000" d="M-108 -108L-42 -108 -29 -89 -25 -83 -22 -65 -22 -59 -23 -56 -27 -52 -32 -51 -38 -51 -45 -54 -55 -61 -85 -89 -95 -97 -108 -104 -108 -108Z"/><path fill="#ef0000" d="M-94 -108L-51 -108 -34 -90 -29 -81 -28 -68 -30 -61 -34 -59 -38 -59 -43 -60 -47 -63 -57 -72 -79 -97 -94 -108Z"/><path fill="#cf0000" d="M-52 -88L-50 -89 -47 -89 -43 -86 -39 -83 -36 -77 -37 -74 -38 -72 -40 -71 -43 -72 -47 -76 -52 -83 -53 -86 -52 -88Z"/><path fill="none" stroke="#111" stroke-width="1.4" vector-effect="non-scaling-stroke" d="M14 -108L13 -95 15 -85 17 -81 21 -77 25 -75 29 -75 38 -77 50 -86 57 -97 61 -108M5 -108L6 -92 11 -80 18 -73 23 -70 29 -69 36 -70 42 -72 50 -76 57 -81 70 -94 75 -101 78 -108M-2 -108L1 -90 3 -83 7 -76 11 -71 16 -67 22 -65 29 -64 36 -64 46 -67 56 -71 64 -76 84 -92 91 -99 96 -108M-85 108L-97 95 -108 81M-11 -108L-5 -86 2 -72 7 -66 13 -62 18 -59 23 -57 38 -58 56 -63 93 -79 108 -89M-4 -24L-11 -20 -18 -13 -21 -5 -22 5 -21 25 -19 40 -16 45 -13 50 -9 52 -5 53 -2 52 2 50 7 41 14 15 16 0 15 -11 11 -18 8 -22 4 -24 -4 -24M-41 108L-56 102 -68 94 -78 83 -85 72 -89 58 -89 45 -86 34 -74 7 -72 -2 -72 -11 -76 -20 -85 -29 -94 -33 -108 -37M-22 -108L-10 -77 -5 -67 4 -56 14 -46 18 -44 22 -44 36 -48 52 -51 70 -57 77 -58 85 -57 93 -56 103 -50 106 -47 107 -43 107 -40 105 -36 100 -31 81 -14 76 -7 75 -2 78 5 84 11 92 15 108 20M108 91L97 96 86 100 74 101 63 101 52 98 43 93 36 87 29 79 25 72 23 65 22 56 22 47 27 33 40 11 42 5 42 -2 40 -9 36 -16 20 -35 16 -37 13 -37 -11 -34 -32 -28 -45 -29 -56 -34 -83 -53 -108 -65M-33 -108L-21 -86 -10 -52 -11 -49 -13 -47 -23 -43 -36 -41 -47 -45 -55 -50 -83 -73 -108 -88M53 31L61 30 70 31 79 36 85 41 89 49 90 56 88 63 83 69 74 74 68 75 61 74 50 70 45 66 40 61 36 52 35 47 36 43 38 39 41 36 53 31"/></g>
<use href="#el"/>
<circle r="100" fill="none" stroke="#000" stroke-width="2.9" vector-effect="non-scaling-stroke"/>
</g>
<g transform="translate(594.0 550.5) scale(0.5450 0.5500)">
<use href="#ears"/>
<g clip-path="url(#hc)"><circle r="104" fill="#00008f"/><path fill="#0000af" d="M-108 -108L108 -108 108 108 -108 108 -108 -108Z"/><path fill="#0000cf" d="M-108 -108L108 -108 108 108 -108 108 -108 -108Z"/><path fill="#0000ef" d="M-108 -108L108 -108 108 108 -108 108 -108 -108Z"/><path fill="#0010ff" d="M-108 -108L108 -108 108 108 -108 108 -108 -108Z"/><path fill="#0030ff" d="M-108 -108L108 -108 108 108 -108 108 -108 -108Z"/><path fill="#0050ff" d="M-108 -108L34 -108 40 -102 45 -100 54 -102 73 -108 108 -108 108 108 -108 108 -108 -108Z"/><path fill="#0070ff" d="M-108 -108L28 -108 34 -97 38 -94 41 -93 50 -95 88 -108 108 -108 108 108 -108 108 -108 -108Z"/><path fill="#008fff" d="M-108 -108L23 -108 27 -99 31 -93 34 -90 40 -88 49 -90 81 -101 108 -108 108 108 -108 108 -108 -108Z"/><path fill="#00afff" d="M-108 -108L19 -108 23 -97 27 -90 32 -86 40 -84 49 -86 79 -96 108 -104 108 108 -108 108 -108 -108Z"/><path fill="#00cfff" d="M-108 -108L15 -108 21 -94 25 -86 31 -82 38 -81 49 -82 77 -91 108 -98 108 108 8 108 7 103 4 99 0 96 -4 96 -9 97 -16 99 -31 108 -98 108 -108 99 -108 -108Z"/><path fill="#00efff" d="M-108 -108L12 -108 18 -92 22 -85 27 -80 36 -78 47 -79 77 -87 108 -93 108 108 22 108 21 101 17 94 9 88 0 85 -13 87 -49 100 -59 101 -68 101 -79 98 -88 95 -108 82 -108 -108Z"/><path fill="#10ffef" d="M-108 -108L9 -108 16 -90 20 -83 26 -77 34 -75 47 -75 77 -84 108 -88 108 108 32 108 31 99 25 90 16 84 5 79 0 79 -7 79 -43 89 -52 90 -61 90 -72 88 -83 84 -95 77 -108 69 -108 -108Z"/><path fill="#30ffcf" d="M-108 -108L6 -108 13 -88 18 -80 25 -74 34 -72 47 -73 81 -80 108 -83 108 108 42 108 41 99 36 90 27 82 12 76 4 73 -5 73 -40 82 -49 83 -58 82 -67 80 -77 76 -108 58 -108 -108Z"/><path fill="#50ffaf" d="M-108 -108L3 -108 10 -88 15 -79 23 -72 32 -69 47 -70 79 -76 108 -77 108 108 50 108 50 97 48 92 45 88 33 79 16 72 5 68 -4 68 -38 76 -47 76 -56 76 -70 70 -108 48 -108 -108Z"/><path fill="#70ff8f" d="M-108 -108L0 -108 12 -79 18 -72 25 -68 32 -66 41 -66 79 -73 108 -71 108 108 59 108 60 97 58 88 52 83 38 76 11 65 0 62 -9 63 -36 70 -45 71 -54 70 -65 65 -83 54 -108 39 -108 -108Z"/><path fill="#8fff70" d="M-108 -108L-3 -108 6 -83 10 -76 16 -69 23 -65 31 -63 41 -63 68 -68 79 -69 108 -64 108 108 67 108 70 97 70 86 68 79 63 76 36 69 9 58 0 56 -9 57 -25 63 -34 65 -43 66 -50 65 -61 60 -81 46 -108 30 -108 -108ZM-2 -20L-4 -16 -1 -13 5 -11 9 -13 8 -16 4 -20 0 -21 -2 -20Z"/><path fill="#afff50" d="M-107 -106L-105 -108 -7 -108 7 -74 13 -67 20 -62 27 -60 38 -60 49 -61 68 -64 77 -65 88 -62 108 -55 108 108 75 108 81 90 84 74 84 67 83 61 81 58 79 56 74 56 65 62 58 65 50 66 43 66 36 64 27 61 4 48 -2 47 -7 48 -20 56 -29 59 -38 61 -45 61 -52 59 -57 56 -83 36 -108 22 -108 -104 -107 -106ZM-5 -27L-18 -22 -21 -18 -22 -16 -21 -13 -18 -9 -7 4 -6 7 -6 20 -4 23 0 25 4 22 7 11 9 7 16 0 20 -5 21 -13 19 -20 12 -25 4 -28 -5 -27Z"/><path fill="#cfff30" d="M-102 -106L-100 -108 -10 -108 -5 -99 5 -71 11 -63 16 -58 22 -56 31 -55 49 -57 68 -60 77 -60 84 -58 90 -54 103 -40 108 -38 108 108 82 108 93 83 98 61 98 52 97 45 95 40 92 36 86 35 81 37 72 43 58 56 52 59 47 60 38 60 29 57 20 52 14 45 11 38 11 31 17 14 27 -4 30 -13 29 -18 26 -23 20 -29 14 -32 5 -34 -7 -33 -40 -28 -43 -26 -46 -23 -47 -20 -45 -15 -31 -4 -23 5 -19 14 -14 31 -14 38 -17 45 -22 50 -31 55 -36 56 -41 56 -50 53 -58 49 -79 30 -99 20 -108 13 -108 -97 -102 -106Z"/><path fill="#efff10" d="M-96 -106L-95 -108 -13 -108 -7 -96 4 -65 9 -56 16 -49 18 -48 22 -48 34 -51 52 -53 68 -56 74 -56 78 -54 83 -49 84 -43 83 -40 78 -27 77 -22 78 -18 81 -14 85 -10 97 -3 103 -2 108 -4 108 24 104 15 101 11 97 10 92 11 85 15 79 20 61 43 54 50 49 54 43 55 38 55 32 54 27 50 22 45 19 40 19 34 20 27 23 20 39 -13 40 -18 39 -22 20 -40 16 -42 13 -42 0 -39 -36 -35 -45 -33 -52 -29 -55 -23 -56 -18 -52 -11 -41 -2 -34 7 -25 25 -23 32 -23 38 -26 45 -32 50 -40 51 -43 50 -49 48 -70 27 -78 22 -98 13 -104 7 -108 2 -108 -86 -103 -97 -96 -106ZM108 59L108 108 89 108 101 83 108 59Z"/><path fill="#ffef00" d="M-91 -106L-89 -108 -16 -108 -9 -94 0 -58 1 -52 0 -49 -2 -47 -7 -45 -40 -40 -50 -37 -56 -34 -61 -31 -64 -27 -66 -22 -66 -14 -62 -7 -58 -1 -50 5 -43 20 -34 31 -33 38 -34 41 -36 44 -41 43 -45 40 -54 25 -59 20 -68 15 -86 10 -93 7 -99 2 -103 -5 -105 -14 -108 -49 -107 -67 -105 -77 -102 -88 -97 -97 -91 -106ZM63 -47L68 -47 70 -45 70 -41 65 -33 61 -29 58 -28 52 -29 40 -36 36 -39 35 -41 36 -44 39 -45 52 -45 63 -47ZM52 -7L56 -8 59 -7 65 -2 67 5 66 14 60 31 52 43 45 49 40 50 36 49 31 47 28 43 26 38 27 31 31 22 43 0 47 -4 52 -7ZM108 83L108 108 95 108 108 83Z"/><path fill="#ffcf00" d="M-85 -106L-83 -108 -20 -108 -14 -97 -9 -83 -7 -65 -7 -59 -9 -55 -12 -52 -18 -49 -52 -42 -77 -33 -83 -33 -88 -34 -94 -40 -97 -47 -100 -58 -101 -68 -99 -79 -96 -88 -92 -97 -85 -106ZM41 29L43 28 44 29 45 31 45 34 42 40 40 41 38 41 36 38 36 36 38 32 41 29ZM107 97L108 96 108 108 101 108 107 97Z"/><path fill="#ffaf00" d="M-78 -106L-76 -108 -24 -108 -17 -97 -13 -85 -12 -68 -13 -63 -15 -59 -20 -56 -29 -52 -63 -46 -76 -46 -81 -48 -85 -50 -88 -54 -92 -61 -93 -68 -93 -77 -91 -86 -88 -94 -83 -101 -78 -106ZM107 108L108 107 108 108 107 108Z"/><path fill="#ff8f00" d="M-71 -106L-68 -108 -30 -108 -27 -106 -20 -97 -16 -85 -16 -72 -18 -67 -21 -63 -25 -59 -32 -57 -52 -54 -68 -54 -74 -56 -79 -59 -83 -64 -85 -70 -86 -76 -85 -83 -80 -95 -76 -101 -71 -106Z"/><path fill="#ff7000" d="M-61 -106L-57 -108 -38 -108 -32 -105 -27 -101 -22 -92 -20 -83 -21 -74 -25 -67 -31 -63 -36 -61 -50 -59 -64 -61 -68 -63 -73 -67 -76 -70 -78 -76 -78 -81 -77 -88 -74 -94 -71 -99 -61 -106Z"/><path fill="#ff5000" d="M-50 -104L-43 -105 -36 -103 -29 -97 -25 -92 -24 -85 -25 -77 -29 -72 -34 -68 -45 -66 -56 -67 -64 -70 -68 -76 -70 -85 -66 -94 -59 -101 -50 -104Z"/><path fill="#ff3000" d="M-51 -97L-47 -99 -41 -99 -36 -97 -32 -94 -30 -90 -29 -85 -31 -80 -34 -76 -40 -73 -47 -73 -52 -74 -58 -78 -60 -83 -60 -88 -56 -94 -51 -97Z"/><path fill="none" stroke="#111" stroke-width="1.4" vector-effect="non-scaling-stroke" d="M37 -108L41 -105 47 -103 54 -104 66 -108M17 -108L22 -95 26 -88 31 -84 38 -82 49 -83 77 -93 108 -100M-7 108L-11 108M4 -108L11 -88 15 -81 22 -74 29 -71 36 -70 43 -70 77 -78 108 -80M47 108L47 103 46 97 44 92 41 88 29 79 14 73 5 71 -4 70 -13 71 -40 78 -49 79 -56 78 -65 76 -74 72 -108 52M-8 -108L6 -72 11 -65 18 -60 25 -57 34 -57 49 -58 68 -62 77 -62 88 -59 108 -47M-108 -100L-102 -108M79 108L88 86 93 67 93 54 91 49 88 45 83 43 77 45 72 48 58 59 50 62 43 62 32 61 23 57 13 49 7 41 6 38 7 32 15 13 24 -4 26 -11 26 -16 24 -20 20 -25 14 -29 7 -31 -4 -31 -38 -24 -43 -22 -43 -20 -41 -17 -28 -7 -19 4 -15 11 -8 34 -9 40 -12 45 -21 52 -29 56 -34 58 -41 58 -52 55 -59 50 -81 32 -101 22 -108 17M-23 -108L-16 -97 -11 -83 -10 -67 -11 -61 -13 -58 -18 -54 -27 -50 -76 -42 -85 -44 -90 -49 -94 -56 -96 -67 -95 -79 -92 -90 -86 -100 -79 -108M105 108L108 103M-50 -101L-43 -101 -38 -100 -32 -97 -28 -92 -27 -86 -27 -81 -30 -76 -35 -72 -41 -70 -50 -70 -58 -73 -62 -77 -64 -85 -62 -92 -57 -97 -50 -101"/></g>
<use href="#el"/>
<circle r="100" fill="none" stroke="#000" stroke-width="2.9" vector-effect="non-scaling-stroke"/>
</g>
<g transform="translate(1371.3 548.0) scale(0.5600 0.5600)">
<use href="#ears"/>
<g clip-path="url(#hc)"><circle r="104" fill="#00008f"/><path fill="#0000af" d="M-108 -108L108 -108 108 108 -108 108 -108 -108Z"/><path fill="#0000cf" d="M-108 -108L108 -108 108 108 -108 108 -108 -108Z"/><path fill="#0000ef" d="M-108 -108L108 -108 108 108 -108 108 -108 -108Z"/><path fill="#0010ff" d="M-108 -108L108 -108 108 108 -108 108 -108 -108Z"/><path fill="#0030ff" d="M-108 -108L108 -108 108 108 -108 108 -108 -108Z"/><path fill="#0050ff" d="M-108 -108L108 -108 108 108 -108 108 -108 -108Z"/><path fill="#0070ff" d="M-108 -108L108 -108 108 108 -108 108 -108 -108Z"/><path fill="#008fff" d="M-108 -108L108 -108 108 108 -108 108 -108 -108Z"/><path fill="#00afff" d="M-108 -108L108 -108 108 108 -108 108 -108 -108ZM0 16L-3 18 -3 22 -2 25 0 27 3 25 5 22 4 18 0 16Z"/><path fill="#00cfff" d="M-108 -108L108 -108 108 108 -108 108 -108 -108ZM0 5L-4 6 -7 9 -10 14 -10 20 -9 27 -7 32 -4 37 0 39 4 38 9 32 11 27 12 20 12 14 9 9 5 6 0 5Z"/><path fill="#00efff" d="M-108 -108L108 -108 108 108 -106 108 -108 106 -108 -108ZM-2 -19L-5 -16 -9 -9 -14 7 -15 20 -13 31 -9 39 -4 45 2 46 7 43 13 36 17 25 18 16 16 7 9 -13 4 -19 0 -20 -2 -19ZM29 -105L25 -101 25 -97 28 -94 34 -90 38 -90 41 -92 43 -95 41 -101 36 -104 29 -105Z"/><path fill="#10ffef" d="M-108 -108L8 -108 7 -104 8 -99 16 -90 26 -83 36 -81 43 -82 49 -84 53 -86 56 -90 57 -94 57 -99 55 -104 52 -108 108 -108 108 108 -99 108 -108 101 -108 -108ZM-2 -24L-9 -20 -14 -14 -17 -9 -20 2 -20 14 -18 29 -13 41 -9 47 -5 50 2 52 5 51 9 49 16 40 21 25 23 13 20 -2 15 -14 11 -19 7 -22 2 -24 -2 -24Z"/><path fill="#30ffcf" d="M-108 -108L-7 -108 -7 -103 -4 -97 2 -92 11 -85 25 -77 40 -75 56 -77 63 -81 67 -84 69 -90 69 -95 66 -103 63 -108 108 -108 108 108 -91 108 -108 96 -108 -108ZM-2 -27L-11 -23 -17 -18 -21 -13 -25 -4 -25 7 -22 29 -16 44 -13 49 -7 54 -2 57 4 58 9 56 13 52 19 41 27 22 28 7 25 -7 19 -18 14 -22 9 -26 4 -27 -2 -27Z"/><path fill="#50ffaf" d="M-108 -108L-22 -108 -22 -104 -20 -101 -16 -95 -3 -86 14 -76 22 -73 31 -71 58 -69 67 -70 72 -71 76 -74 80 -79 81 -86 80 -94 77 -101 72 -108 108 -108 108 105 101 108 20 108 14 107 8 108 -83 108 -95 100 -108 90 -108 -108ZM-5 -29L-16 -24 -26 -14 -31 -5 -31 4 -25 32 -18 49 -13 56 -5 62 0 65 5 66 11 63 15 58 27 32 33 16 33 2 32 -5 29 -13 25 -18 20 -23 14 -27 7 -30 0 -30 -5 -29Z"/><path fill="#70ff8f" d="M-108 -108L-36 -108 -37 -103 -36 -99 -32 -94 13 -72 25 -67 56 -62 77 -54 86 -52 90 -53 94 -56 95 -63 95 -72 94 -81 91 -90 87 -99 81 -108 108 -108 108 -34 103 -36 97 -34 81 -16 79 -13 78 -7 81 0 85 3 88 5 97 7 108 5 108 99 97 104 86 108 45 108 28 101 21 95 13 88 12 85 14 79 26 45 38 16 39 9 39 -2 37 -13 30 -22 17 -31 5 -33 -7 -32 -13 -30 -20 -25 -33 -14 -37 -9 -38 -4 -37 2 -28 34 -22 49 -16 59 3 81 6 86 5 92 1 97 -5 103 -14 108 -73 108 -88 100 -103 88 -108 83 -108 -108Z"/><path fill="#8fff70" d="M-108 -108L-48 -108 -49 -101 -48 -95 -45 -90 -41 -86 -14 -78 18 -64 48 -58 55 -54 60 -50 66 -43 68 -34 67 -27 59 -13 59 -9 61 -5 68 2 80 9 92 13 108 16 108 92 99 98 88 102 77 105 67 106 56 105 47 102 38 97 32 92 28 85 25 76 25 68 26 59 31 41 46 14 52 -7 53 -11 49 -16 42 -22 20 -34 9 -37 -5 -36 -16 -32 -41 -16 -44 -13 -46 -7 -45 0 -36 18 -27 47 -10 79 -9 88 -10 94 -13 97 -20 103 -31 107 -56 108 -67 105 -78 101 -88 94 -97 87 -108 75 -108 -108ZM89 -108L108 -108 108 -75 99 -94 89 -108Z"/><path fill="#afff50" d="M-108 -108L-58 -108 -59 -101 -58 -94 -55 -88 -49 -83 -41 -79 -25 -76 -14 -72 18 -57 41 -53 48 -49 52 -43 52 -39 50 -35 47 -32 43 -32 34 -33 22 -40 16 -42 11 -42 -9 -38 -16 -36 -32 -27 -45 -21 -53 -16 -58 -11 -60 -7 -59 -4 -45 12 -40 20 -31 49 -18 77 -17 85 -19 92 -24 97 -31 101 -40 103 -50 104 -63 101 -74 97 -85 91 -94 83 -102 74 -108 64 -108 21 -101 14 -81 4 -76 -2 -74 -7 -76 -11 -82 -16 -108 -29 -108 -108ZM97 -108L108 -108 108 -93 97 -108ZM58 14L63 13 72 14 92 19 108 25 108 84 97 92 85 97 76 100 67 100 58 99 50 97 44 94 40 90 35 83 32 76 31 68 31 61 32 52 35 43 40 35 49 23 54 17 58 14Z"/><path fill="#cfff30" d="M-108 -108L-68 -108 -70 -101 -71 -94 -69 -88 -64 -83 -59 -79 -52 -76 -27 -70 -13 -65 1 -56 4 -52 3 -49 0 -46 -13 -42 -34 -30 -52 -25 -59 -24 -67 -24 -79 -29 -99 -42 -108 -47 -108 -108ZM105 -108L108 -108 108 -104 105 -108ZM-73 11L-65 10 -58 11 -49 17 -44 23 -35 50 -26 72 -24 79 -24 85 -26 88 -29 92 -34 95 -43 97 -52 98 -63 95 -72 92 -81 86 -89 79 -95 72 -101 63 -104 54 -105 45 -105 38 -103 31 -99 25 -93 20 -85 15 -73 11ZM61 23L67 22 72 22 86 24 99 30 108 37 108 73 103 79 95 85 87 90 79 93 65 94 58 93 52 91 48 88 43 84 40 79 37 72 36 59 39 45 42 40 49 32 56 26 61 23Z"/><path fill="#efff10" d="M-108 -108L-79 -108 -83 -99 -86 -88 -87 -77 -86 -72 -81 -71 -47 -68 -29 -65 -21 -61 -17 -58 -14 -52 -15 -49 -29 -38 -40 -33 -49 -32 -58 -32 -65 -34 -70 -37 -76 -41 -81 -49 -90 -67 -95 -69 -108 -68 -108 -108ZM-71 20L-65 20 -58 21 -52 25 -48 31 -36 65 -33 76 -32 79 -34 83 -36 86 -40 88 -47 90 -54 91 -61 89 -69 86 -77 81 -83 76 -89 68 -93 61 -96 54 -97 47 -96 40 -94 33 -91 29 -86 25 -79 22 -71 20ZM65 31L77 30 83 31 88 33 94 38 99 43 102 49 103 54 103 59 102 65 99 70 95 76 88 81 83 84 70 88 59 87 50 82 45 76 41 65 42 54 45 45 54 36 65 31Z"/><path fill="#ffef00" d="M-108 -108L-90 -108 -101 -96 -108 -89 -108 -108ZM-56 -59L-45 -61 -34 -59 -30 -58 -27 -54 -26 -52 -26 -49 -30 -43 -36 -39 -45 -38 -53 -40 -59 -43 -62 -47 -63 -50 -62 -56 -56 -59ZM-71 31L-65 31 -59 33 -54 38 -50 45 -45 59 -43 70 -44 76 -45 78 -49 80 -58 81 -68 77 -77 70 -83 61 -86 50 -85 41 -80 34 -76 32 -71 31ZM68 40L77 40 85 44 89 50 91 59 88 68 81 75 72 80 63 80 56 78 50 73 48 67 47 59 49 52 54 46 61 41 68 40Z"/><path fill="#ffcf00" d="M-108 -108L-103 -108 -108 -104 -108 -108ZM62 56L67 55 69 56 72 58 73 63 70 67 68 68 63 69 60 68 58 67 57 63 58 60 62 56Z"/><path fill="none" stroke="#111" stroke-width="1.4" vector-effect="non-scaling-stroke" d="M-2 13L-5 18 -6 23 -3 29 0 31 2 31 6 27 7 23 7 19 6 16 4 14 2 13 -2 13M31 -101L29 -99 30 -95 34 -93 38 -94 40 -97 38 -100 34 -102 31 -101M-2 -18L-6 -13 -13 4 -15 13 -15 20 -13 31 -9 38 -4 44 2 45 7 42 13 35 16 25 17 16 15 7 7 -13 3 -18 0 -19 -2 -18M1 -108L0 -104 2 -99 6 -94 12 -88 25 -80 38 -78 45 -79 52 -81 56 -83 60 -86 63 -92 63 -97 61 -103 58 -108M-2 -25L-10 -22 -18 -13 -22 -4 -23 9 -20 27 -15 41 -12 47 -7 51 -4 53 2 55 5 54 9 52 16 43 24 25 25 11 23 -4 20 -11 17 -16 9 -23 4 -25 -2 -25M-95 108L-108 99M-23 -108L-23 -104 -22 -101 -17 -95 -4 -86 15 -76 23 -72 31 -71 61 -69 68 -69 74 -71 78 -74 81 -79 82 -86 80 -94 78 -101 73 -108M-7 -29L-17 -23 -28 -13 -31 -5 -31 4 -25 32 -18 49 -13 56 -7 62 0 66 5 66 11 64 16 57 29 29 34 14 33 0 32 -7 29 -14 24 -20 18 -25 12 -29 5 -30 -2 -30 -7 -29M108 104L100 108M-82 108L-95 100 -108 89M24 108L14 106 4 108M-44 -108L-45 -103 -45 -97 -42 -92 -38 -88 -14 -80 16 -66 25 -64 49 -59 56 -57 63 -52 71 -43 75 -36 74 -29 68 -13 68 -7 71 -2 76 4 85 9 95 12 108 13M108 -65L98 -90 87 -108M108 95L97 100 86 104 76 107 65 107 54 106 45 104 36 99 30 94 26 88 24 81 22 74 23 67 25 56 29 43 40 22 43 14 45 5 45 -11 43 -16 39 -20 22 -32 13 -35 0 -35 -11 -33 -22 -27 -37 -16 -41 -13 -43 -7 -42 0 -35 16 -27 45 -22 56 -9 76 -6 85 -6 92 -11 99 -18 104 -26 108M-63 108L-76 103 -87 97 -98 88 -108 78M-61 -108L-62 -101 -62 -94 -59 -88 -53 -83 -43 -78 -25 -74 -14 -70 18 -53 23 -53 34 -53 41 -51 45 -49 48 -45 48 -41 47 -38 43 -35 38 -35 31 -37 20 -44 13 -44 -13 -38 -32 -28 -47 -22 -61 -15 -67 -14 -74 -16 -108 -34M108 -97L99 -108M-108 26L-104 21 -99 16 -72 2 -67 0 -59 2 -49 11 -42 20 -32 50 -20 76 -19 83 -20 88 -22 92 -25 96 -31 99 -38 101 -45 102 -61 100 -76 95 -90 85 -101 72 -108 59M108 82L97 90 83 96 70 99 58 98 47 93 39 86 34 76 32 63 34 49 38 40 50 24 59 17 67 16 79 18 93 22 108 28M-77 -108L-82 -99 -84 -90 -84 -81 -81 -76 -77 -74 -72 -73 -38 -68 -25 -64 -18 -60 -13 -56 -12 -52 -14 -49 -25 -40 -35 -34 -47 -31 -59 -32 -68 -34 -76 -40 -81 -45 -94 -61 -99 -64 -108 -65M-77 20L-67 18 -59 19 -52 23 -49 28 -34 67 -31 76 -32 83 -35 86 -38 89 -43 91 -50 92 -58 91 -67 88 -74 85 -81 79 -86 74 -92 66 -96 58 -97 50 -98 43 -96 36 -93 31 -88 25 -83 22 -77 20M69 29L83 30 88 32 94 36 100 41 103 47 105 52 105 58 104 63 101 70 96 76 92 80 86 83 79 87 72 88 65 89 54 86 46 79 41 70 40 58 43 47 49 40 59 32 69 29M-92 -108L-108 -92M-50 -59L-39 -59 -31 -56 -29 -54 -27 -50 -30 -45 -34 -41 -41 -39 -49 -40 -56 -43 -60 -49 -60 -54 -55 -58 -50 -59M-76 34L-68 33 -63 34 -58 37 -54 42 -49 53 -45 67 -45 74 -49 78 -56 80 -65 78 -73 72 -79 65 -83 56 -84 47 -81 39 -76 34M69 41L77 43 84 47 88 54 88 61 85 70 78 76 70 79 61 79 55 76 50 71 48 65 49 58 51 52 56 46 61 43 69 41"/></g>
<use href="#el"/>
<circle r="100" fill="none" stroke="#000" stroke-width="2.9" vector-effect="non-scaling-stroke"/>
</g>
<g transform="translate(139.0 728.5) scale(0.5450 0.5500)">
<use href="#ears"/>
<g clip-path="url(#hc)"><circle r="104" fill="#00008f"/><path fill="#0000af" d="M-108 -108L108 -108 108 108 -108 108 -108 -108ZM7 -36L4 -34 2 -31 2 -27 3 -22 5 -18 7 -16 11 -15 14 -16 18 -18 22 -22 23 -25 23 -29 20 -32 18 -34 13 -36 7 -36Z"/><path fill="#0000cf" d="M-108 -108L108 -108 108 108 -108 108 -108 -108ZM2 -44L-2 -42 -4 -39 -7 -29 -6 -18 -2 -11 4 -7 9 -7 18 -10 25 -14 29 -18 31 -23 31 -29 29 -35 25 -38 18 -42 9 -44 2 -44Z"/><path fill="#0000ef" d="M-108 -108L108 -108 108 108 -108 108 -108 -108ZM0 -49L-5 -47 -8 -43 -12 -31 -12 -18 -11 -13 -7 -7 0 -2 7 -2 20 -6 31 -13 35 -18 37 -25 36 -33 32 -40 27 -43 17 -47 7 -49 0 -49Z"/><path fill="#0010ff" d="M-108 -108L108 -108 108 108 -108 108 -108 -108ZM-5 -53L-9 -50 -13 -45 -18 -25 -18 -20 -17 -14 -14 -9 -11 -5 -2 1 7 2 23 -4 31 -8 36 -12 40 -18 41 -25 40 -36 36 -43 29 -47 11 -52 2 -54 -5 -53Z"/><path fill="#0030ff" d="M-108 -108L108 -108 108 108 -108 108 -108 -108ZM-9 -58L-13 -56 -16 -50 -23 -23 -23 -14 -20 -9 -15 -4 -5 4 0 5 5 5 13 3 26 -2 34 -6 40 -10 44 -16 45 -25 43 -38 39 -45 31 -50 9 -56 -2 -58 -9 -58Z"/><path fill="#0050ff" d="M-108 -108L108 -108 108 108 -108 108 -108 -108ZM-27 -81L-29 -81 -29 -77 -27 -74 -25 -73 -23 -74 -25 -79 -27 -81ZM-20 -68L-22 -45 -28 -25 -29 -20 -27 -13 -20 -4 -7 6 -2 8 4 8 13 6 28 0 38 -5 43 -9 47 -16 49 -25 47 -40 43 -47 38 -50 32 -52 -14 -67 -20 -68Z"/><path fill="#0070ff" d="M-108 -108L108 -108 108 108 -108 108 -108 -108ZM-36 -89L-41 -85 -42 -79 -40 -74 -30 -61 -27 -54 -26 -49 -27 -41 -34 -25 -35 -20 -34 -14 -29 -7 -21 0 -11 7 -4 10 2 11 11 9 21 5 39 -2 45 -6 50 -14 52 -23 51 -40 49 -45 46 -49 38 -54 13 -61 -3 -68 -10 -74 -20 -85 -25 -89 -31 -90 -36 -89Z"/><path fill="#008fff" d="M-108 -108L108 -108 108 108 -108 108 -108 -108ZM-38 -95L-43 -94 -48 -90 -50 -86 -52 -81 -51 -76 -49 -72 -35 -58 -31 -50 -30 -45 -32 -40 -42 -25 -43 -22 -42 -16 -37 -9 -25 0 -13 8 -5 12 2 13 13 11 36 2 44 -2 48 -5 53 -13 55 -20 55 -41 55 -45 52 -49 48 -52 43 -55 18 -62 5 -68 -4 -74 -17 -88 -23 -93 -31 -96 -38 -95Z"/><path fill="#00afff" d="M-108 -108L108 -108 108 108 -108 108 -108 -108ZM-40 -101L-49 -98 -55 -94 -61 -86 -62 -79 -61 -72 -58 -67 -40 -53 -35 -47 -36 -43 -38 -40 -47 -31 -51 -25 -50 -18 -45 -11 -39 -5 -16 9 -7 13 0 15 7 15 16 12 42 2 51 -4 55 -9 59 -16 59 -31 63 -43 61 -49 57 -52 50 -56 22 -64 11 -68 0 -76 -14 -91 -20 -96 -29 -100 -40 -101Z"/><path fill="#00cfff" d="M-108 -108L108 -108 108 108 -108 108 -108 -108ZM-40 -106L-49 -105 -56 -102 -63 -97 -69 -90 -74 -83 -76 -76 -78 -54 -90 -40 -91 -34 -91 -31 -88 -26 -85 -24 -70 -23 -65 -21 -46 -5 -13 13 -4 17 5 17 14 15 43 4 53 -2 60 -9 64 -16 66 -29 68 -31 72 -31 81 -27 86 -26 95 -29 99 -32 102 -36 102 -41 100 -45 95 -49 87 -52 75 -56 61 -57 29 -64 14 -69 3 -77 -13 -94 -20 -100 -29 -105 -40 -106Z"/><path fill="#00efff" d="M-108 -108L-57 -108 -70 -101 -81 -90 -97 -65 -105 -49 -108 -38 -106 -27 -100 -18 -92 -13 -85 -11 -70 -11 -63 -10 -11 16 -4 19 2 20 13 17 48 4 57 -2 74 -15 94 -18 108 -23 108 108 -108 108 -108 -108ZM-26 -108L108 -108 108 -57 88 -61 52 -63 32 -66 22 -69 14 -72 7 -77 -13 -99 -20 -105 -26 -108Z"/><path fill="#10ffef" d="M-108 -108L-71 -108 -79 -102 -89 -94 -99 -81 -108 -69 -108 -108ZM-18 -108L108 -108 108 -67 85 -68 49 -67 34 -68 25 -70 17 -74 9 -79 -9 -100 -18 -108ZM-108 -13L-99 -7 -92 -5 -70 -5 -59 -3 -34 7 -9 19 2 22 13 19 49 6 76 -9 108 -14 108 108 -108 108 -108 -13Z"/><path fill="#30ffcf" d="M-108 -108L-82 -108 -96 -97 -108 -84 -108 -108ZM-12 -108L108 -108 108 -74 85 -74 49 -70 36 -71 27 -72 19 -76 11 -81 -5 -101 -12 -108ZM101 -7L108 -8 108 108 -108 108 -108 -5 -101 -1 -92 1 -70 0 -58 1 -36 8 -9 21 2 23 13 21 49 8 76 -4 101 -7Z"/><path fill="#50ffaf" d="M-108 -108L-93 -108 -108 -95 -108 -108ZM-7 -108L108 -108 108 -81 85 -79 50 -74 38 -73 29 -74 22 -77 14 -82 -7 -108ZM92 -2L108 -2 108 108 -108 108 -108 2 -101 4 -92 5 -68 3 -56 5 -36 11 -9 23 2 25 13 23 72 1 81 -1 92 -2Z"/><path fill="#70ff8f" d="M-108 -108L-103 -108 -108 -104 -108 -108ZM-2 -108L108 -108 108 -87 49 -77 38 -76 29 -77 22 -79 16 -84 -2 -108ZM76 4L88 2 108 3 108 108 -108 108 -108 7 -94 9 -68 7 -54 8 -36 13 -9 25 2 27 11 25 38 15 76 4Z"/><path fill="#8fff70" d="M2 -108L108 -108 108 -93 50 -81 40 -79 31 -79 25 -81 20 -85 2 -108ZM73 7L88 6 108 7 108 108 -108 108 -108 11 -94 13 -67 10 -52 11 -36 15 -9 27 2 29 13 27 41 16 73 7Z"/><path fill="#afff50" d="M7 -108L108 -108 108 -99 50 -84 40 -82 32 -82 27 -83 22 -88 7 -108ZM69 11L86 10 108 12 108 108 -108 108 -108 16 -92 16 -65 12 -52 13 -36 17 -9 29 2 31 13 28 41 17 69 11Z"/><path fill="#cfff30" d="M11 -108L108 -108 108 -105 50 -89 34 -86 29 -87 25 -90 11 -108ZM62 14L74 13 85 13 108 16 108 108 -108 108 -108 20 -92 19 -65 15 -50 15 -34 19 -9 31 2 33 13 30 40 19 62 14Z"/><path fill="#efff10" d="M16 -108L97 -108 52 -94 38 -91 32 -92 27 -95 16 -108ZM65 16L86 16 108 20 108 108 -108 108 -108 23 -92 22 -65 17 -50 17 -34 21 -9 33 2 35 13 32 41 21 65 16Z"/><path fill="#ffef00" d="M22 -108L79 -108 52 -99 40 -97 34 -98 31 -100 22 -108ZM-66 20L-54 19 -41 21 -31 25 -11 34 0 37 11 35 41 22 61 19 74 18 85 19 97 21 108 25 108 108 -108 108 -108 27 -90 25 -66 20Z"/><path fill="#ffcf00" d="M31 -108L61 -108 50 -105 43 -104 36 -105 31 -108ZM-61 22L-50 21 -40 23 -31 27 -11 36 0 39 11 37 40 25 59 21 72 21 85 22 97 25 108 29 108 108 -108 108 -108 31 -92 28 -61 22Z"/><path fill="#ffaf00" d="M57 23L70 23 83 25 97 29 108 34 108 108 -108 108 -108 34 -90 31 -67 25 -50 23 -36 26 -11 39 -4 41 2 41 11 39 38 27 57 23Z"/><path fill="#ff8f00" d="M-66 27L-52 25 -40 27 -30 31 -11 41 0 44 11 41 36 29 52 26 65 25 76 26 88 29 99 33 108 39 108 108 -108 108 -108 38 -66 27Z"/><path fill="#ff7000" d="M-64 29L-50 28 -40 29 -29 33 -9 44 0 46 11 44 34 32 49 28 61 27 72 28 83 31 94 35 101 38 108 44 108 108 -108 108 -108 42 -64 29Z"/><path fill="#ff5000" d="M-61 31L-49 30 -38 32 -29 35 -9 47 0 49 9 47 31 35 45 30 56 30 68 30 78 32 88 36 99 42 108 50 108 107 107 108 -108 108 -108 46 -75 34 -61 31Z"/><path fill="#ff3000" d="M-58 32L-47 32 -36 34 -28 38 -9 51 0 53 9 51 29 38 41 33 50 32 61 32 72 34 81 36 90 41 97 45 103 50 108 58 108 97 101 108 15 108 5 93 2 90 0 90 -2 90 -5 94 -12 108 -108 108 -108 50 -76 37 -58 32Z"/><path fill="#ff1000" d="M-53 34L-41 35 -32 38 -24 43 -7 57 0 59 7 57 30 40 40 35 49 34 58 34 67 35 76 38 85 41 93 47 98 52 103 59 106 67 108 74 107 83 105 90 101 99 93 108 24 108 18 100 7 82 4 78 0 77 -4 78 -8 83 -21 108 -108 108 -108 55 -75 40 -63 36 -53 34Z"/><path fill="#ef0000" d="M-60 38L-47 36 -40 37 -34 39 -28 43 -22 49 -14 58 -10 63 -9 68 -10 74 -21 95 -28 108 -108 108 -108 61 -81 45 -70 41 -60 38ZM38 38L45 37 54 36 63 37 72 40 86 47 93 52 97 58 100 63 102 70 102 77 101 85 99 91 96 97 91 103 85 108 34 108 27 102 21 94 10 74 9 68 9 65 13 58 24 47 31 41 38 38Z"/><path fill="#cf0000" d="M-56 40L-43 39 -34 42 -24 50 -17 61 -16 68 -18 77 -24 90 -32 104 -36 108 -108 108 -108 68 -95 58 -81 49 -69 43 -56 40ZM40 40L47 39 56 39 72 43 79 46 85 50 92 59 95 65 97 72 97 79 96 85 90 95 85 101 80 104 72 108 46 108 40 105 32 99 22 86 16 72 15 67 17 61 21 54 27 47 34 42 40 40Z"/><path fill="#af0000" d="M-49 41L-40 42 -33 45 -25 54 -22 63 -22 72 -25 81 -31 92 -38 101 -44 108 -108 108 -108 78 -104 72 -92 61 -77 50 -65 45 -49 41ZM43 41L56 42 70 46 81 52 88 61 91 72 90 83 85 92 76 100 70 102 63 104 56 104 49 102 41 99 36 95 31 90 25 82 21 70 21 65 22 59 26 52 31 47 36 43 43 41Z"/><path fill="#8f0000" d="M-53 45L-45 44 -38 46 -32 50 -29 56 -26 63 -27 70 -29 78 -33 86 -44 99 -56 108 -94 108 -101 101 -103 94 -102 85 -97 76 -89 65 -77 54 -66 49 -53 45ZM39 45L50 44 63 47 72 51 79 58 84 67 85 76 82 85 75 92 70 95 65 97 59 97 52 97 41 92 32 83 28 77 26 72 26 67 26 61 28 56 32 50 36 47 39 45Z"/><path fill="none" stroke="#111" stroke-width="1.4" vector-effect="non-scaling-stroke" d="M-14 -62L-16 -60 -18 -56 -27 -22 -26 -16 -25 -13 -18 -4 -11 2 -5 5 0 7 5 7 13 5 26 0 36 -5 41 -9 46 -16 47 -25 45 -40 41 -47 32 -51 2 -60 -9 -63 -14 -62M-52 -108L-65 -102 -76 -92 -84 -81 -101 -50 -104 -40 -104 -31 -99 -22 -93 -16 -86 -14 -70 -14 -63 -12 -45 -2 -13 15 -5 18 2 19 14 16 49 3 58 -4 70 -16 74 -18 92 -20 108 -26M108 -53L99 -57 87 -59 52 -62 31 -66 20 -69 13 -73 6 -77 -16 -101 -23 -106 -29 -108M-105 -108L-108 -106M108 -88L50 -78 40 -77 31 -77 23 -79 18 -83 -1 -108M-108 8L-94 10 -68 7 -54 8 -36 13 -9 26 2 27 11 26 38 15 72 5 86 3 108 4M93 -108L52 -95 38 -92 32 -93 28 -95 18 -108M-108 24L-90 23 -65 18 -50 18 -34 22 -9 33 2 35 11 33 41 21 63 17 74 16 85 17 97 18 108 21M-108 39L-67 28 -50 26 -36 29 -9 42 -4 44 2 44 11 42 29 32 38 29 49 27 61 26 74 26 86 29 99 34 108 40M-108 61L-84 47 -65 39 -56 37 -47 36 -40 37 -32 40 -26 45 -17 54 -11 61 -9 67 -10 72 -12 77 -22 97 -28 108M34 108L25 100 17 88 9 72 9 68 9 65 12 59 16 54 31 41 40 37 50 36 67 38 81 43 91 50 99 61 101 67 102 74 101 86 98 94 94 99 85 108"/></g>
<use href="#el"/>
<circle r="100" fill="none" stroke="#000" stroke-width="2.9" vector-effect="non-scaling-stroke"/>
</g>
<g transform="translate(909.0 729.5) scale(0.5600 0.5600)">
<use href="#ears"/>
<g clip-path="url(#hc)"><circle r="104" fill="#00008f"/><path fill="#0000af" d="M-108 -108L108 -108 108 108 -108 108 -108 -108ZM-2 -22L-6 -20 -11 -16 -13 -13 -14 -9 -13 -5 -11 -1 -7 2 -2 3 4 2 7 -1 10 -5 12 -11 10 -16 7 -20 2 -22 -2 -22Z"/><path fill="#0000cf" d="M-108 -108L108 -108 108 108 -108 108 -108 -108ZM-5 -26L-13 -22 -19 -16 -22 -12 -22 -7 -19 0 -11 10 -5 14 0 16 5 12 16 0 19 -5 20 -11 17 -18 9 -25 2 -27 -5 -26Z"/><path fill="#0000ef" d="M-108 -108L108 -108 108 108 -108 108 -108 -108ZM-2 -31L-11 -27 -22 -20 -28 -14 -30 -9 -27 -2 -9 20 -4 25 0 26 5 21 22 0 26 -5 27 -11 24 -18 14 -27 7 -30 -2 -31Z"/><path fill="#0010ff" d="M-108 -108L108 -108 108 108 -108 108 -108 -108ZM-2 -34L-13 -30 -30 -20 -35 -14 -37 -9 -33 -2 -18 14 -7 29 -4 33 0 34 4 31 16 13 30 -2 33 -7 33 -11 33 -14 29 -20 16 -31 7 -34 -2 -34Z"/><path fill="#0030ff" d="M-108 -108L108 -108 108 108 -108 108 -108 -108ZM-2 -38L-13 -34 -37 -20 -41 -16 -43 -11 -41 -5 -39 -2 -22 15 -5 37 0 40 5 36 15 20 21 13 38 -4 39 -7 40 -11 38 -16 35 -20 18 -34 9 -38 -2 -38Z"/><path fill="#0050ff" d="M-108 -108L108 -108 108 108 -108 108 -108 -108ZM-2 -42L-11 -38 -42 -22 -46 -16 -47 -11 -47 -5 -43 0 -24 16 -7 39 -4 42 0 43 4 42 7 38 17 22 23 14 43 -2 45 -5 45 -9 44 -16 40 -22 18 -39 9 -43 4 -43 -2 -42Z"/><path fill="#0070ff" d="M-108 -108L108 -108 108 108 -108 108 -108 -108ZM2 -47L-45 -23 -50 -18 -52 -11 -51 -5 -48 0 -27 17 -9 41 -4 45 0 46 4 45 8 41 19 23 27 14 46 0 49 -4 50 -9 49 -16 44 -23 18 -45 11 -48 7 -49 2 -47Z"/><path fill="#008fff" d="M-108 -108L108 -108 108 108 -108 108 -108 -108ZM4 -54L-27 -35 -47 -25 -54 -18 -57 -11 -56 -5 -51 2 -29 19 -9 44 -5 47 0 48 4 47 9 43 21 25 28 16 49 2 53 -4 55 -9 53 -16 49 -24 44 -29 31 -38 18 -52 14 -55 11 -56 4 -54Z"/><path fill="#00afff" d="M-108 -108L108 -108 108 108 -108 108 -108 -108ZM9 -64L2 -60 -11 -49 -25 -39 -46 -29 -52 -25 -61 -16 -64 -11 -62 -5 -58 0 -32 18 -25 26 -11 45 -6 49 -2 50 4 49 9 46 27 21 34 14 54 2 59 -4 61 -9 60 -14 53 -25 48 -31 32 -42 29 -47 22 -59 20 -62 14 -64 9 -64Z"/><path fill="#00cfff" d="M-108 -108L108 -108 108 108 -108 108 -108 -8 -101 -4 -94 -2 -88 -2 -76 -3 -67 -1 -36 18 -27 27 -12 47 -5 51 0 52 5 51 11 47 24 27 34 17 55 5 70 -6 76 -8 85 -7 88 -7 92 -11 92 -14 90 -20 86 -22 83 -22 72 -19 67 -20 63 -22 52 -33 37 -43 33 -50 30 -67 29 -72 27 -74 23 -76 14 -73 2 -66 -14 -50 -28 -40 -50 -30 -65 -21 -72 -20 -85 -25 -90 -25 -100 -23 -108 -19 -108 -108Z"/><path fill="#00efff" d="M-108 -108L108 -108 108 108 -108 108 -108 3 -92 4 -74 3 -68 4 -61 7 -43 16 -35 22 -28 29 -16 45 -11 50 -5 53 2 54 7 53 12 49 25 29 36 18 43 14 68 2 76 1 88 2 94 0 99 -4 102 -7 103 -11 104 -16 103 -22 101 -25 97 -29 93 -32 85 -34 67 -33 61 -35 42 -47 40 -52 40 -68 38 -76 34 -81 31 -83 27 -84 20 -82 7 -75 -2 -68 -14 -54 -22 -47 -31 -41 -38 -37 -67 -27 -72 -27 -90 -31 -108 -30 -108 -108Z"/><path fill="#10ffef" d="M-108 -108L108 -108 108 -29 102 -36 94 -41 85 -43 67 -45 56 -50 51 -56 48 -72 44 -81 38 -86 29 -89 20 -88 9 -81 -4 -70 -22 -50 -31 -44 -38 -40 -59 -33 -67 -32 -92 -36 -108 -36 -108 -108ZM108 -4L108 108 -108 108 -108 9 -74 7 -65 9 -54 13 -43 18 -34 25 -27 33 -16 47 -11 52 -5 55 2 56 7 55 13 51 28 29 34 22 40 18 68 7 88 6 95 5 102 2 108 -4Z"/><path fill="#30ffcf" d="M-108 -108L108 -108 108 -40 103 -44 95 -48 74 -54 68 -57 63 -62 54 -79 47 -86 39 -92 29 -94 20 -92 9 -86 -4 -74 -24 -52 -32 -46 -38 -42 -58 -37 -67 -36 -94 -40 -108 -42 -108 -108ZM106 5L108 4 108 108 -108 108 -108 14 -74 11 -65 12 -52 17 -43 21 -34 28 -13 53 -5 58 2 59 7 57 13 54 17 49 29 30 36 23 43 19 67 11 94 10 101 8 106 5Z"/><path fill="#50ffaf" d="M-108 -108L108 -108 108 -48 99 -54 75 -67 56 -86 49 -92 40 -97 31 -98 20 -96 9 -90 -2 -81 -26 -54 -34 -48 -40 -45 -56 -41 -67 -39 -108 -46 -108 -108ZM106 11L108 10 108 108 -108 108 -108 18 -90 15 -76 14 -65 16 -52 19 -43 24 -34 31 -18 50 -13 56 -5 60 2 61 7 60 13 56 18 50 29 32 36 26 43 21 54 18 67 15 95 13 106 11Z"/><path fill="#70ff8f" d="M-108 -108L108 -108 108 -56 81 -73 61 -90 54 -95 41 -101 31 -102 18 -99 7 -93 -2 -85 -27 -57 -35 -50 -41 -47 -58 -44 -68 -43 -108 -51 -108 -108ZM104 16L108 15 108 108 -108 108 -108 23 -92 19 -77 18 -65 19 -52 22 -43 26 -35 32 -19 52 -13 58 -5 62 2 63 9 62 14 58 19 52 31 34 36 29 43 24 52 21 67 18 104 16Z"/><path fill="#8fff70" d="M-108 -108L108 -108 108 -64 56 -100 41 -105 29 -106 16 -102 5 -96 -4 -87 -25 -63 -34 -55 -40 -52 -47 -49 -59 -47 -67 -46 -76 -47 -108 -56 -108 -108ZM-88 22L-77 21 -67 21 -56 23 -47 27 -40 31 -34 36 -20 54 -14 59 -7 64 2 66 9 64 14 61 20 55 31 36 38 30 45 26 54 23 67 21 99 21 108 20 108 108 -108 108 -108 28 -88 22Z"/><path fill="#afff50" d="M-108 -108L22 -108 13 -104 2 -97 -23 -69 -38 -57 -49 -52 -67 -50 -76 -51 -108 -60 -108 -108ZM46 -108L108 -108 108 -71 67 -99 57 -104 46 -108ZM-89 25L-79 24 -67 24 -56 26 -47 29 -40 34 -34 38 -22 55 -14 62 -5 67 2 69 9 67 16 63 22 56 32 37 38 32 45 28 54 26 67 25 108 25 108 108 -108 108 -108 32 -89 25Z"/><path fill="#cfff30" d="M-108 -108L13 -108 5 -104 -2 -98 -22 -75 -36 -62 -49 -56 -58 -54 -67 -54 -77 -55 -108 -65 -108 -108ZM59 -108L108 -108 108 -77 76 -99 59 -108ZM-78 27L-68 27 -59 28 -45 33 -34 41 -23 56 -16 63 -7 69 2 72 9 70 16 66 22 59 33 40 38 35 45 31 54 29 65 28 85 28 108 30 108 108 -108 108 -108 37 -92 30 -78 27Z"/><path fill="#efff10" d="M-108 -108L6 -108 -5 -98 -23 -77 -34 -68 -49 -61 -58 -59 -67 -58 -77 -60 -108 -69 -108 -108ZM69 -108L108 -108 108 -84 85 -99 69 -108ZM-81 31L-70 30 -61 31 -52 33 -45 36 -36 42 -23 59 -14 67 -5 73 4 75 11 73 18 68 24 61 34 41 38 38 45 34 52 32 63 32 83 33 108 36 108 108 -108 108 -108 42 -94 34 -81 31Z"/><path fill="#ffef00" d="M-108 -108L0 -108 -9 -99 -24 -81 -31 -75 -40 -69 -49 -65 -56 -63 -65 -62 -79 -65 -108 -74 -108 -108ZM79 -108L108 -108 108 -89 79 -108ZM-81 34L-72 33 -61 34 -52 36 -45 38 -36 45 -25 59 -16 69 -5 76 4 78 13 76 20 71 26 63 35 43 40 39 45 37 52 35 61 35 108 42 108 108 -108 108 -108 48 -95 39 -81 34Z"/><path fill="#ffcf00" d="M-108 -108L-5 -108 -13 -99 -25 -84 -31 -79 -38 -75 -50 -70 -65 -67 -79 -69 -108 -79 -108 -108ZM88 -108L108 -108 108 -95 88 -108ZM-80 38L-70 36 -61 37 -52 39 -45 41 -38 47 -27 61 -16 72 -5 79 4 82 13 80 22 74 28 65 37 45 40 43 45 40 52 39 59 39 81 44 108 48 108 108 -108 108 -108 54 -95 44 -88 40 -80 38Z"/><path fill="#ffaf00" d="M-108 -108L-10 -108 -27 -87 -32 -83 -50 -75 -65 -72 -81 -75 -108 -84 -108 -108ZM96 -108L108 -108 108 -100 96 -108ZM-79 41L-70 40 -61 40 -52 42 -45 45 -40 49 -27 65 -14 76 -4 84 4 86 9 85 14 84 23 77 31 68 40 47 42 45 47 43 58 44 77 51 108 56 108 108 -108 108 -108 62 -101 54 -95 49 -86 44 -79 41Z"/><path fill="#ff8f00" d="M-108 -108L-15 -108 -29 -92 -36 -86 -52 -80 -67 -78 -83 -80 -108 -89 -108 -108ZM104 -108L108 -108 108 -106 104 -108ZM-77 45L-68 44 -61 44 -54 45 -47 47 -41 51 -27 68 -13 82 -4 88 4 90 9 90 14 89 20 86 25 82 33 72 41 53 44 50 47 49 56 49 76 58 108 65 108 108 -108 108 -108 72 -107 70 -101 61 -94 54 -86 49 -77 45Z"/><path fill="#ff7000" d="M-108 -108L-20 -108 -32 -95 -40 -90 -54 -85 -67 -83 -83 -86 -108 -94 -108 -108ZM-73 49L-59 48 -52 49 -47 51 -41 56 -28 70 -11 87 -2 93 7 95 16 94 25 89 35 79 47 59 52 57 58 58 77 66 108 75 108 108 -105 108 -107 97 -107 88 -105 79 -101 70 -96 63 -90 57 -83 52 -73 49Z"/><path fill="#ff5000" d="M-108 -108L-25 -108 -36 -98 -43 -94 -54 -90 -67 -89 -85 -92 -108 -99 -108 -108ZM-68 52L-56 52 -47 56 -41 61 -13 90 -5 96 2 99 7 100 14 100 25 97 34 90 50 72 54 70 58 70 67 72 108 89 108 108 -100 108 -102 97 -101 88 -99 79 -96 72 -91 65 -85 59 -77 55 -68 52Z"/><path fill="#ff3000" d="M-108 -108L-32 -108 -40 -102 -47 -99 -56 -96 -67 -95 -79 -96 -94 -100 -108 -105 -108 -108ZM-69 58L-58 57 -49 60 -41 66 -27 79 -9 99 0 105 10 108 -94 108 -96 99 -96 92 -95 85 -92 76 -88 70 -83 65 -76 60 -69 58ZM60 86L68 88 81 93 93 101 100 108 20 108 32 104 52 89 60 86Z"/><path fill="#ff1000" d="M-101 -108L-41 -108 -54 -103 -67 -101 -83 -103 -101 -108ZM-66 63L-56 63 -50 65 -45 68 -29 83 -16 99 -8 108 -88 108 -89 101 -90 94 -89 86 -86 79 -83 74 -77 68 -72 65 -66 63Z"/><path fill="#ef0000" d="M-79 -108L-58 -108 -68 -107 -79 -108ZM-65 70L-59 69 -54 70 -49 73 -41 77 -31 88 -18 108 -80 108 -82 95 -80 85 -74 76 -70 72 -65 70Z"/><path fill="#cf0000" d="M-62 79L-58 78 -52 79 -41 86 -34 94 -28 108 -71 108 -73 99 -72 90 -68 83 -62 79Z"/><path fill="#af0000" d="M-55 95L-50 95 -46 99 -45 104 -47 108 -52 108 -56 104 -57 99 -55 95Z"/><path fill="none" stroke="#111" stroke-width="1.4" vector-effect="non-scaling-stroke" d="M5 -45L-7 -41 -41 -23 -47 -18 -49 -11 -48 -5 -45 0 -25 17 -7 41 -4 43 0 44 4 43 7 40 17 23 25 14 45 -2 47 -9 45 -18 41 -23 16 -42 11 -45 5 -45M108 -18L107 -23 104 -28 100 -32 95 -36 86 -39 70 -39 65 -40 57 -43 48 -49 45 -54 44 -70 42 -77 36 -84 29 -87 20 -85 9 -79 -2 -70 -22 -49 -31 -42 -38 -39 -61 -30 -67 -29 -72 -30 -90 -33 -108 -33M-108 6L-92 6 -74 5 -67 7 -58 10 -43 17 -35 23 -27 31 -16 46 -11 51 -5 54 2 55 7 54 13 50 27 28 38 18 45 15 68 5 76 4 88 4 95 3 100 0 104 -4 107 -9 108 -14M108 -58L81 -75 63 -90 54 -96 43 -101 31 -103 18 -100 7 -94 -2 -86 -27 -58 -36 -51 -41 -48 -56 -44 -68 -44 -108 -52M-108 24L-92 20 -77 18 -65 19 -52 22 -43 27 -36 32 -30 38 -20 52 -13 59 -5 63 2 64 9 62 14 58 19 52 31 34 38 28 45 24 54 21 67 19 97 18 108 16M5 -108L-6 -99 -22 -80 -27 -74 -38 -67 -49 -62 -61 -59 -72 -59 -108 -70M108 -85L87 -99 71 -108M-108 43L-96 36 -83 32 -68 31 -54 33 -45 36 -38 41 -23 59 -13 69 -4 74 4 75 11 74 19 68 24 61 34 42 40 37 45 34 52 33 63 32 108 37M-16 -108L-29 -93 -34 -88 -43 -84 -56 -80 -65 -79 -76 -80 -88 -83 -108 -90M108 -107L106 -108M-108 75L-102 63 -92 53 -80 47 -67 44 -54 45 -45 49 -40 54 -25 70 -13 82 -4 88 4 91 9 91 14 90 20 87 25 83 33 74 43 53 49 50 58 51 70 57 79 60 108 67M-35 -108L-43 -103 -50 -100 -58 -98 -67 -97 -85 -100 -108 -107M-92 108L-93 99 -93 90 -92 83 -88 75 -83 68 -76 63 -68 60 -61 59 -52 61 -45 65 -27 81 -13 99 0 108M36 108L52 98 61 95 67 96 74 98 80 103 86 108"/></g>
<use href="#el"/>
<circle r="100" fill="none" stroke="#000" stroke-width="2.9" vector-effect="non-scaling-stroke"/>
</g>
<g transform="translate(366.5 728.5) scale(0.5450 0.5500)">
<use href="#ears"/>
<g clip-path="url(#hc)"><circle r="104" fill="#00008f"/><path fill="#0000af" d="M-108 -108L108 -108 108 108 -108 108 -108 -108Z"/><path fill="#0000cf" d="M-108 -108L108 -108 108 108 -108 108 -108 -108Z"/><path fill="#0000ef" d="M-108 -108L108 -108 108 108 -108 108 -108 -108Z"/><path fill="#0010ff" d="M-108 -108L108 -108 108 108 -108 108 -108 -108Z"/><path fill="#0030ff" d="M-108 -108L51 -108 86 -107 108 -105 108 108 -108 108 -108 -108Z"/><path fill="#0050ff" d="M-108 -108L36 -108 41 -104 47 -103 85 -104 108 -101 108 108 -108 108 -108 -108Z"/><path fill="#0070ff" d="M-108 -108L29 -108 34 -101 38 -98 41 -98 81 -100 108 -97 108 108 -108 108 -108 -108Z"/><path fill="#008fff" d="M-108 -108L24 -108 31 -95 36 -92 43 -92 65 -95 79 -96 94 -95 108 -93 108 108 -108 108 -108 -108Z"/><path fill="#00afff" d="M-108 -108L20 -108 27 -91 29 -89 32 -87 40 -87 63 -91 77 -92 92 -92 108 -90 108 108 -108 108 -108 -108Z"/><path fill="#00cfff" d="M-108 -108L17 -108 24 -88 27 -84 31 -83 38 -83 61 -87 76 -89 92 -88 108 -86 108 108 12 108 5 103 -2 101 -9 103 -19 108 -108 108 -108 -108Z"/><path fill="#00efff" d="M-108 -108L13 -108 21 -86 25 -82 29 -80 38 -79 63 -84 77 -85 92 -84 108 -81 108 108 23 108 18 103 13 99 5 96 0 95 -7 95 -14 98 -35 108 -108 108 -108 -108Z"/><path fill="#10ffef" d="M-108 -108L10 -108 19 -85 23 -79 27 -77 32 -76 38 -76 63 -81 77 -82 92 -81 108 -77 108 108 33 108 27 101 19 95 9 91 0 90 -7 91 -18 93 -57 108 -108 108 -108 -108Z"/><path fill="#30ffcf" d="M-108 -108L7 -108 17 -83 22 -78 27 -75 38 -74 65 -78 77 -78 92 -77 108 -73 108 108 44 108 37 101 27 94 14 88 2 86 -11 87 -40 95 -56 98 -108 99 -108 -108Z"/><path fill="#50ffaf" d="M-108 -108L5 -108 15 -81 20 -76 25 -73 31 -71 38 -71 65 -75 77 -75 92 -73 108 -68 108 108 54 108 47 99 36 92 22 86 7 82 -9 83 -45 90 -56 90 -65 89 -74 87 -85 82 -97 76 -108 68 -108 -108Z"/><path fill="#70ff8f" d="M-106 -106L-105 -108 2 -108 13 -81 18 -74 23 -70 29 -69 36 -68 65 -71 79 -71 94 -69 108 -63 108 108 66 108 60 99 51 92 33 85 13 79 4 78 -5 79 -41 84 -50 84 -59 83 -68 79 -77 74 -104 53 -108 49 -108 -104 -106 -106Z"/><path fill="#8fff70" d="M-101 -106L-100 -108 -1 -108 11 -79 16 -72 22 -68 27 -67 34 -66 65 -68 77 -68 92 -65 108 -58 108 108 77 108 76 103 74 97 70 93 65 89 50 83 20 76 9 75 -2 75 -40 80 -49 79 -56 78 -63 75 -70 70 -96 47 -103 38 -108 28 -108 -93 -101 -106Z"/><path fill="#afff50" d="M-94 -108L-4 -108 10 -76 14 -70 20 -66 25 -64 32 -63 65 -65 77 -64 92 -60 108 -52 108 108 89 108 89 97 86 88 81 82 72 79 9 71 -4 71 -36 75 -45 75 -52 73 -59 70 -65 66 -76 54 -89 41 -94 34 -98 27 -104 4 -108 -8 -108 -70 -103 -92 -98 -101 -94 -108Z"/><path fill="#cfff30" d="M-88 -108L-7 -108 -2 -99 8 -74 13 -68 18 -64 23 -62 31 -61 67 -61 77 -60 92 -55 108 -44 108 108 101 108 104 92 104 77 101 68 97 64 94 62 85 61 63 67 50 69 38 69 5 66 -36 72 -43 71 -50 69 -58 65 -63 60 -83 36 -88 29 -91 20 -93 2 -101 -15 -103 -25 -104 -36 -99 -83 -95 -95 -88 -108Z"/><path fill="#efff10" d="M-84 -106L-82 -108 -10 -108 -4 -97 7 -70 11 -65 16 -61 22 -59 27 -58 72 -57 82 -54 91 -49 108 -34 108 30 97 31 90 34 65 56 58 60 49 63 36 64 5 62 -25 67 -34 68 -45 66 -54 62 -62 54 -79 27 -82 20 -84 0 -93 -18 -95 -25 -95 -34 -91 -52 -93 -74 -92 -85 -90 -95 -84 -106Z"/><path fill="#ffef00" d="M-78 -106L-77 -108 -13 -108 -5 -95 5 -67 9 -62 14 -58 18 -56 23 -54 43 -55 70 -53 77 -50 87 -43 100 -29 108 -16 108 5 101 12 86 19 81 23 62 47 56 52 49 56 36 58 13 57 4 57 -31 64 -40 63 -49 60 -54 56 -59 50 -69 31 -72 20 -77 -4 -85 -25 -85 -31 -78 -45 -78 -50 -85 -70 -86 -77 -86 -85 -84 -95 -78 -106Z"/><path fill="#ffcf00" d="M-72 -106L-71 -108 -17 -108 -11 -101 -7 -94 4 -62 7 -56 11 -53 14 -51 20 -50 40 -51 65 -48 73 -45 81 -38 85 -31 92 -16 94 -9 93 -2 89 4 77 12 72 17 57 40 50 47 44 50 38 52 31 52 14 51 5 51 -23 59 -32 60 -40 59 -44 58 -49 55 -53 50 -57 43 -60 34 -71 -18 -71 -25 -66 -40 -66 -47 -68 -54 -77 -68 -80 -79 -80 -86 -79 -94 -76 -101 -72 -106ZM-4 -27L-11 -24 -15 -20 -17 -13 -16 -4 -13 4 -8 9 -2 12 5 12 13 9 18 4 22 -4 22 -11 18 -18 11 -24 4 -27 -4 -27Z"/><path fill="#ffaf00" d="M-66 -106L-64 -108 -21 -108 -14 -102 -10 -94 -5 -81 3 -45 1 -41 -2 -40 -31 -32 -32 -29 -31 -9 -30 0 -26 7 -18 14 -4 24 5 27 9 27 14 25 26 16 43 -2 51 -7 54 -11 55 -14 54 -18 49 -23 43 -25 32 -26 25 -31 22 -36 22 -40 24 -41 32 -46 40 -47 56 -41 62 -38 66 -34 68 -31 69 -25 68 -14 60 2 49 32 46 38 41 43 38 45 33 45 14 40 7 40 -18 52 -31 56 -36 56 -41 54 -49 49 -52 43 -53 36 -53 29 -50 18 -50 14 -55 -4 -56 -14 -56 -20 -53 -25 -44 -36 -44 -38 -52 -45 -59 -53 -69 -67 -73 -76 -75 -85 -74 -92 -71 -99 -66 -106Z"/><path fill="#ff8f00" d="M-59 -106L-57 -108 -26 -108 -17 -101 -11 -90 -7 -74 -6 -58 -8 -52 -11 -49 -16 -47 -23 -46 -41 -50 -50 -54 -59 -62 -67 -74 -69 -81 -69 -86 -69 -92 -67 -97 -63 -102 -59 -106ZM-34 23L-29 23 -22 25 -16 31 -14 36 -15 41 -18 45 -25 49 -32 51 -38 51 -42 49 -45 45 -46 40 -46 34 -44 31 -40 26 -34 23Z"/><path fill="#ff7000" d="M-51 -106L-45 -108 -32 -107 -23 -103 -16 -95 -11 -85 -10 -72 -12 -61 -16 -56 -22 -53 -27 -53 -41 -56 -51 -61 -59 -70 -63 -81 -64 -90 -59 -99 -56 -103 -51 -106ZM-34 36L-31 36 -29 40 -31 43 -36 44 -38 43 -38 40 -34 36Z"/><path fill="#ff5000" d="M-41 -104L-32 -104 -25 -100 -20 -95 -15 -88 -13 -79 -14 -70 -16 -64 -22 -60 -31 -58 -41 -61 -50 -67 -56 -76 -59 -85 -57 -94 -54 -98 -50 -101 -47 -103 -41 -104Z"/><path fill="#ff3000" d="M-44 -99L-38 -100 -31 -99 -24 -95 -20 -90 -17 -83 -17 -76 -19 -68 -23 -65 -31 -63 -38 -65 -45 -69 -50 -75 -53 -83 -52 -90 -49 -95 -44 -99Z"/><path fill="#ff1000" d="M-37 -95L-32 -95 -28 -94 -24 -90 -21 -86 -20 -81 -21 -76 -23 -71 -27 -69 -32 -69 -38 -70 -43 -74 -46 -79 -47 -85 -46 -90 -42 -94 -37 -95Z"/><path fill="#ef0000" d="M-38 -88L-32 -90 -29 -89 -26 -86 -24 -81 -25 -77 -27 -76 -32 -75 -38 -77 -40 -83 -40 -86 -38 -88Z"/><path fill="none" stroke="#111" stroke-width="1.4" vector-effect="non-scaling-stroke" d="M8 -108L18 -83 22 -78 27 -75 38 -74 63 -78 77 -79 92 -78 108 -74M41 108L34 100 23 93 11 88 0 87 -13 88 -50 98 -88 104 -94 105 -98 108M-1 -108L11 -79 16 -72 22 -68 27 -67 34 -66 65 -68 77 -68 92 -65 108 -58M-108 -93L-100 -108M77 108L76 103 74 97 70 93 65 89 52 84 26 77 13 75 2 74 -41 80 -50 79 -59 76 -70 70 -96 47 -103 38 -108 28M-10 -108L-4 -97 6 -70 10 -65 14 -61 20 -58 25 -57 65 -57 76 -55 83 -52 92 -47 108 -32M108 25L95 28 88 31 65 54 58 58 49 62 36 63 5 61 -25 66 -34 67 -45 65 -53 61 -62 52 -78 27 -80 20 -83 -2 -91 -18 -93 -25 -93 -32 -89 -52 -92 -74 -91 -85 -88 -97 -81 -108M-18 -108L-13 -102 -9 -95 -5 -86 2 -63 5 -56 9 -52 13 -49 16 -48 41 -50 61 -46 71 -43 77 -38 81 -31 87 -16 89 -7 86 -1 70 13 65 20 54 40 49 45 45 48 40 50 34 51 14 48 5 49 -23 58 -32 59 -41 58 -49 53 -54 47 -58 36 -61 14 -67 -18 -66 -25 -62 -38 -62 -43 -65 -52 -76 -70 -79 -81 -79 -88 -77 -95 -73 -103 -69 -108M-2 -31L-11 -28 -17 -23 -20 -16 -20 -5 -17 4 -11 10 -2 15 5 16 13 13 20 7 26 -2 28 -7 28 -11 26 -14 24 -18 13 -28 5 -31 -2 -31M-35 -108L-27 -105 -19 -99 -14 -92 -11 -81 -10 -68 -13 -59 -18 -55 -25 -53 -38 -55 -49 -59 -58 -68 -63 -77 -64 -83 -64 -88 -61 -97 -54 -104 -45 -108M-34 36L-31 36 -29 40 -31 43 -36 44 -38 43 -38 40 -34 36M-43 -97L-36 -98 -31 -97 -25 -95 -21 -90 -18 -85 -18 -77 -20 -71 -23 -67 -29 -66 -36 -66 -43 -70 -48 -76 -50 -81 -50 -88 -47 -94 -43 -97"/></g>
<use href="#el"/>
<circle r="100" fill="none" stroke="#000" stroke-width="2.9" vector-effect="non-scaling-stroke"/>
</g>
<g transform="translate(1140.4 729.5) scale(0.5600 0.5600)">
<use href="#ears"/>
<g clip-path="url(#hc)"><circle r="104" fill="#00008f"/><path fill="#0000af" d="M-108 -108L108 -108 108 108 -108 108 -108 -108Z"/><path fill="#0000cf" d="M-108 -108L108 -108 108 108 -108 108 -108 -108Z"/><path fill="#0000ef" d="M-108 -108L108 -108 108 108 -108 108 -108 -108Z"/><path fill="#0010ff" d="M-108 -108L108 -108 108 108 -108 108 -108 -108Z"/><path fill="#0030ff" d="M-108 -108L108 -108 108 108 -108 108 -108 -108Z"/><path fill="#0050ff" d="M-108 -108L108 -108 108 108 -108 108 -108 -108Z"/><path fill="#0070ff" d="M-108 -108L108 -108 108 108 -108 108 -108 -108Z"/><path fill="#008fff" d="M-108 -108L108 -108 108 108 -108 108 -108 -108Z"/><path fill="#00afff" d="M-108 -108L108 -108 108 108 -108 108 -108 -108Z"/><path fill="#00cfff" d="M-108 -108L108 -108 108 108 -108 108 -108 -108ZM0 -2L-4 -1 -5 1 -7 7 -5 16 -3 20 0 21 4 20 6 18 7 14 8 9 7 4 5 1 4 -1 0 -2Z"/><path fill="#00efff" d="M-108 -108L108 -108 108 108 -108 108 -108 -108ZM-2 -15L-7 -13 -14 -7 -17 -2 -18 4 -15 14 -10 25 -4 32 2 33 5 32 9 29 14 22 18 13 19 5 16 -2 11 -9 4 -14 -2 -15ZM36 -92L32 -91 30 -88 29 -85 31 -82 36 -81 40 -83 41 -85 42 -88 41 -90 36 -92ZM94 -27L90 -26 86 -23 84 -20 83 -14 84 -9 86 -5 88 -3 92 -2 97 -3 101 -5 104 -9 106 -14 105 -20 103 -24 99 -26 94 -27Z"/><path fill="#10ffef" d="M-108 -108L108 -108 108 -38 103 -41 95 -41 90 -40 85 -37 79 -32 76 -26 73 -20 72 -13 73 -7 75 -4 79 1 85 4 90 6 95 6 103 4 108 2 108 108 -108 108 -108 -7 -100 -13 -98 -16 -101 -19 -108 -21 -108 -108ZM-4 -20L-13 -16 -21 -11 -25 -5 -26 0 -23 13 -14 30 -7 38 -4 41 0 42 4 41 7 39 17 29 25 16 27 11 27 5 26 0 24 -5 16 -14 5 -20 0 -21 -4 -20ZM34 -101L27 -97 23 -92 22 -85 24 -79 29 -75 36 -73 45 -74 53 -77 56 -81 58 -86 57 -92 54 -95 50 -99 45 -101 40 -102 34 -101Z"/><path fill="#30ffcf" d="M-108 -108L34 -108 27 -104 20 -97 17 -90 18 -81 22 -74 27 -70 34 -67 45 -66 58 -68 66 -70 70 -74 72 -79 71 -88 65 -97 57 -104 48 -108 108 -108 108 -51 101 -55 95 -56 90 -56 85 -53 76 -42 69 -32 64 -20 62 -11 63 -5 66 0 70 4 77 7 85 10 92 11 101 11 108 10 108 108 -108 108 -108 9 -101 4 -82 -5 -77 -10 -76 -14 -78 -22 -85 -28 -93 -31 -108 -34 -108 -108ZM-7 -23L-32 -13 -36 -9 -37 -7 -38 -4 -21 29 -15 38 -7 46 -2 48 2 48 7 46 13 42 30 20 35 11 36 2 35 -4 31 -9 26 -14 18 -20 5 -24 0 -25 -7 -23Z"/><path fill="#50ffaf" d="M-108 -108L23 -108 17 -101 14 -94 13 -85 16 -76 20 -70 27 -65 34 -62 53 -58 61 -54 63 -50 64 -47 60 -34 52 -20 49 -17 45 -15 38 -17 18 -26 5 -28 -7 -27 -29 -21 -38 -19 -52 -17 -61 -19 -85 -34 -108 -41 -108 -108ZM64 -108L108 -108 108 -64 94 -76 77 -97 64 -108ZM-70 0L-63 -1 -56 -1 -49 2 -41 7 -33 16 -23 34 -16 44 -7 52 0 54 5 54 11 50 31 28 47 13 52 9 59 9 92 16 108 16 108 108 -106 108 -108 104 -108 20 -102 14 -95 10 -70 0Z"/><path fill="#70ff8f" d="M-108 -108L16 -108 12 -101 9 -92 9 -83 12 -74 17 -67 23 -61 29 -58 43 -52 48 -49 51 -43 50 -36 45 -30 40 -28 34 -28 18 -31 7 -32 -7 -30 -32 -25 -50 -25 -61 -27 -85 -39 -108 -48 -108 -108ZM75 -108L108 -108 108 -76 84 -101 75 -108ZM-72 9L-58 8 -50 10 -43 13 -37 20 -25 40 -16 50 -5 59 2 62 7 60 13 56 27 38 34 31 43 25 54 19 59 18 67 18 108 23 108 108 -101 108 -108 93 -108 33 -103 25 -95 18 -85 13 -72 9Z"/><path fill="#8fff70" d="M-108 -108L11 -108 7 -101 5 -92 6 -83 8 -74 13 -65 18 -58 25 -51 36 -45 37 -43 37 -41 32 -39 20 -38 -29 -29 -45 -29 -54 -30 -61 -33 -88 -46 -108 -53 -108 -108ZM85 -108L108 -108 108 -87 85 -108ZM-71 16L-56 16 -49 17 -43 20 -29 41 -22 50 -5 67 2 72 5 71 11 67 18 58 29 43 34 37 41 32 50 27 61 24 72 24 85 25 108 29 108 108 -95 108 -102 94 -106 79 -107 63 -105 47 -100 34 -93 25 -85 20 -71 16Z"/><path fill="#afff50" d="M-108 -108L6 -108 2 -95 2 -83 5 -70 13 -52 13 -47 8 -41 0 -38 -31 -33 -43 -33 -52 -35 -61 -38 -108 -59 -108 -108ZM94 -108L108 -108 108 -96 94 -108ZM-68 23L-54 24 -49 26 -45 29 -31 47 -12 68 -2 84 2 86 5 86 9 83 34 43 38 40 45 36 59 31 74 30 86 31 108 36 108 108 -90 108 -96 95 -100 81 -101 67 -98 52 -94 39 -86 29 -79 26 -68 23Z"/><path fill="#cfff30" d="M-108 -108L1 -108 -2 -97 -2 -86 0 -74 6 -54 6 -50 4 -47 2 -44 -2 -42 -25 -38 -36 -36 -45 -37 -54 -40 -67 -44 -108 -65 -108 -108ZM103 -108L108 -108 108 -104 103 -108ZM-73 34L-65 33 -58 33 -52 34 -47 38 -19 67 -14 74 -7 87 -4 92 0 95 5 97 9 96 13 92 23 72 34 52 38 46 43 43 58 38 76 36 88 38 108 44 108 108 -84 108 -89 99 -92 88 -94 77 -93 67 -91 56 -85 45 -79 38 -73 34Z"/><path fill="#efff10" d="M-108 -108L-3 -108 -6 -99 -6 -90 -5 -77 -2 -58 -3 -50 -8 -47 -23 -42 -34 -40 -43 -41 -54 -44 -70 -50 -108 -71 -108 -108ZM67 43L76 43 85 45 95 49 108 55 108 108 23 108 23 99 26 81 39 56 43 51 49 47 58 45 67 43ZM-65 45L-58 44 -49 46 -38 54 -26 65 -20 72 -16 77 -4 108 -77 108 -83 99 -86 90 -87 81 -86 72 -84 63 -79 56 -72 49 -65 45Z"/><path fill="#ffef00" d="M-108 -108L-8 -108 -10 -94 -9 -63 -10 -56 -13 -52 -19 -49 -29 -46 -36 -45 -41 -45 -50 -47 -70 -56 -92 -69 -108 -77 -108 -108ZM64 52L74 52 86 56 100 65 108 74 108 92 102 99 95 104 88 108 45 108 41 105 38 101 35 94 34 86 36 79 40 70 45 62 49 58 56 54 64 52ZM-63 56L-56 54 -47 56 -36 62 -26 70 -21 77 -18 85 -15 99 -15 108 -70 108 -75 101 -78 94 -80 85 -79 77 -77 70 -74 65 -69 59 -63 56Z"/><path fill="#ffcf00" d="M-108 -108L-13 -108 -15 -95 -15 -68 -17 -59 -20 -56 -25 -53 -32 -50 -38 -50 -49 -52 -67 -60 -92 -75 -108 -83 -108 -108ZM-54 63L-47 63 -40 66 -31 72 -25 79 -22 86 -21 95 -22 103 -25 108 -61 108 -67 101 -70 95 -72 88 -72 83 -71 77 -68 72 -65 68 -59 64 -54 63ZM60 68L65 67 70 67 76 69 80 72 83 76 84 81 83 86 80 90 74 94 67 95 59 94 54 90 52 85 52 79 54 74 60 68Z"/><path fill="#ffaf00" d="M-108 -108L-18 -108 -19 -97 -20 -76 -22 -67 -25 -62 -28 -59 -32 -58 -38 -57 -47 -58 -61 -63 -92 -81 -108 -89 -108 -108ZM-53 72L-47 71 -40 73 -33 77 -29 83 -28 90 -29 97 -31 103 -36 106 -43 108 -50 106 -58 101 -61 95 -63 88 -62 81 -59 76 -53 72Z"/><path fill="#ff8f00" d="M-108 -108L-23 -108 -25 -99 -26 -83 -27 -76 -32 -68 -38 -65 -45 -65 -56 -68 -108 -96 -108 -108ZM-47 83L-41 82 -38 85 -36 90 -38 94 -40 95 -45 96 -49 94 -50 92 -51 86 -47 83Z"/><path fill="#ff7000" d="M-108 -108L-30 -108 -35 -83 -40 -78 -47 -76 -54 -77 -61 -80 -108 -103 -108 -108Z"/><path fill="#ff5000" d="M-104 -108L-38 -108 -45 -94 -49 -92 -54 -90 -59 -91 -68 -94 -104 -108Z"/><path fill="#ff3000" d="M-82 -108L-52 -108 -58 -105 -63 -104 -72 -105 -82 -108Z"/><path fill="none" stroke="#111" stroke-width="1.4" vector-effect="non-scaling-stroke" d="M92 -20L88 -16 88 -13 90 -8 94 -7 97 -8 99 -10 100 -16 97 -20 92 -20M-5 -11L-10 -7 -14 -2 -15 4 -15 9 -12 18 -8 25 -4 29 2 30 7 27 13 20 16 11 16 4 13 -4 7 -9 4 -12 0 -12 -5 -11M34 -105L29 -102 25 -100 20 -92 20 -83 23 -76 31 -71 40 -70 52 -72 60 -76 63 -79 64 -85 63 -92 59 -97 54 -101 47 -104 41 -105 34 -105M108 -44L101 -48 95 -48 90 -47 85 -44 77 -36 72 -29 69 -20 67 -13 68 -7 71 -2 75 2 80 5 86 8 94 9 101 8 108 6M-5 -22L-18 -16 -27 -11 -30 -7 -31 -2 -27 9 -20 25 -14 34 -6 43 -2 45 2 45 6 43 11 40 24 23 30 13 31 4 30 -2 27 -7 18 -16 12 -20 5 -22 0 -23 -5 -22M-108 2L-88 -9 -85 -13 -84 -16 -85 -20 -88 -24 -94 -26 -108 -29M22 -108L16 -101 13 -92 13 -83 16 -74 22 -68 27 -64 55 -56 61 -52 62 -49 62 -41 58 -31 52 -22 47 -17 43 -16 40 -17 18 -26 4 -29 -7 -27 -34 -20 -49 -18 -56 -18 -63 -21 -85 -35 -108 -42M108 -65L95 -76 76 -99 65 -108M-108 21L-103 16 -97 12 -81 5 -65 0 -59 0 -54 1 -43 6 -36 13 -21 38 -13 48 -5 53 2 55 5 54 11 51 31 28 47 14 52 10 61 10 94 17 108 17M-105 108L-108 103M12 -108L9 -101 7 -92 7 -83 9 -76 13 -67 20 -59 27 -53 38 -49 41 -47 42 -41 41 -38 38 -36 32 -35 14 -35 -7 -33 -31 -28 -49 -28 -61 -31 -86 -43 -108 -52M108 -84L82 -108M-108 50L-103 34 -99 29 -95 23 -85 17 -68 13 -54 14 -43 18 -40 22 -28 40 -20 51 -5 64 2 68 7 66 13 62 28 41 34 35 41 30 52 25 61 22 72 22 85 23 108 27M-97 108L-104 94 -108 79M5 -108L1 -95 1 -83 3 -72 10 -56 11 -50 9 -45 4 -41 -31 -34 -47 -35 -65 -40 -108 -61M108 -98L97 -108M-88 108L-94 97 -97 86 -99 76 -99 65 -96 52 -92 41 -86 32 -79 28 -70 26 -61 25 -54 26 -48 29 -43 34 -15 67 -4 85 0 88 4 89 7 88 11 84 34 45 38 41 43 38 58 33 74 31 86 32 108 38M-3 -108L-5 -97 -6 -86 -1 -54 -3 -49 -7 -46 -32 -40 -40 -40 -47 -41 -70 -50 -108 -70M-78 108L-83 99 -87 88 -88 77 -86 67 -82 58 -76 50 -68 45 -59 42 -52 44 -45 47 -34 56 -23 67 -16 77 -2 108M21 108L21 99 25 79 38 56 45 48 52 45 59 43 76 42 88 45 108 53M-10 -108L-12 -94 -12 -67 -13 -60 -16 -54 -27 -49 -34 -47 -40 -47 -56 -52 -69 -58 -92 -71 -108 -80M66 58L77 59 88 65 96 74 98 77 99 83 98 88 96 92 88 99 77 104 65 105 54 103 47 99 42 92 41 85 43 75 50 65 58 59 66 58M-66 108L-71 101 -75 94 -76 85 -75 77 -73 70 -68 65 -61 60 -54 58 -47 59 -40 63 -31 69 -25 76 -21 83 -19 92 -18 101 -20 108M-20 -108L-21 -97 -22 -79 -24 -72 -26 -67 -29 -63 -36 -60 -45 -60 -58 -64 -92 -84 -108 -92M-50 76L-45 75 -40 77 -34 80 -31 85 -30 90 -31 95 -34 100 -38 103 -43 104 -49 103 -54 99 -58 94 -59 88 -58 83 -56 79 -50 76"/></g>
<use href="#el"/>
<circle r="100" fill="none" stroke="#000" stroke-width="2.9" vector-effect="non-scaling-stroke"/>
</g>
<g transform="translate(594.0 728.5) scale(0.5450 0.5500)">
<use href="#ears"/>
<g clip-path="url(#hc)"><circle r="104" fill="#00008f"/><path fill="#0000af" d="M-108 -108L108 -108 108 108 -108 108 -108 -108Z"/><path fill="#0000cf" d="M-108 -108L108 -108 108 108 -108 108 -108 -108Z"/><path fill="#0000ef" d="M-108 -108L108 -108 108 108 -108 108 -108 -108Z"/><path fill="#0010ff" d="M-108 -108L108 -108 108 108 -108 108 -108 -108Z"/><path fill="#0030ff" d="M-108 -108L108 -108 108 108 -108 108 -108 -108Z"/><path fill="#0050ff" d="M-108 -108L108 -108 108 108 -108 108 -108 -108Z"/><path fill="#0070ff" d="M-108 -108L108 -108 108 108 -108 108 -108 -108Z"/><path fill="#008fff" d="M-108 -108L108 -108 108 108 -108 108 -108 -108Z"/><path fill="#00afff" d="M-108 -108L108 -108 108 108 -108 108 -108 -108Z"/><path fill="#00cfff" d="M-108 -108L35 -108 39 -101 45 -99 54 -101 73 -108 108 -108 108 108 -108 108 -108 -108Z"/><path fill="#00efff" d="M-108 -108L27 -108 29 -99 32 -94 36 -90 40 -89 49 -91 90 -106 99 -108 108 -108 108 108 -108 108 -108 -108Z"/><path fill="#10ffef" d="M-108 -108L21 -108 24 -95 27 -89 32 -85 38 -84 47 -85 81 -96 108 -103 108 108 -108 108 -108 -108Z"/><path fill="#30ffcf" d="M-108 -108L16 -108 19 -94 23 -85 29 -81 36 -79 47 -80 81 -90 108 -96 108 108 -108 108 -108 -108Z"/><path fill="#50ffaf" d="M-108 -108L12 -108 16 -92 20 -83 25 -78 34 -75 47 -76 81 -85 108 -89 108 108 -108 108 -108 -108Z"/><path fill="#70ff8f" d="M-108 -108L8 -108 12 -90 17 -81 23 -75 32 -72 45 -72 79 -79 108 -82 108 108 -108 108 -108 -108Z"/><path fill="#8fff70" d="M-108 -108L4 -108 9 -88 13 -79 21 -72 31 -69 47 -69 81 -74 108 -74 108 108 -102 108 -108 101 -108 -108Z"/><path fill="#afff50" d="M-107 -108L0 -108 5 -88 9 -79 15 -72 23 -67 31 -65 40 -64 77 -69 108 -67 108 108 -85 108 -103 92 -108 87 -108 -105 -107 -108Z"/><path fill="#cfff30" d="M-99 -108L-4 -108 2 -86 5 -77 11 -70 20 -64 29 -62 40 -61 77 -64 108 -58 108 108 -65 108 -83 97 -104 77 -108 73 -108 -83 -104 -97 -99 -108Z"/><path fill="#efff10" d="M-92 -106L-91 -108 -8 -108 2 -76 7 -68 14 -62 23 -59 32 -57 49 -57 68 -59 76 -58 108 -47 108 108 -19 108 -29 105 -50 102 -63 98 -76 91 -87 81 -104 64 -108 60 -108 -53 -104 -59 -101 -67 -97 -92 -92 -106Z"/><path fill="#ffef00" d="M-83 -108L-12 -108 -9 -99 -4 -79 -2 -72 4 -64 11 -58 18 -55 27 -53 73 -52 80 -49 94 -38 99 -36 108 -34 108 108 54 108 35 99 23 96 13 95 0 98 -9 95 -16 93 -43 94 -54 92 -65 88 -74 82 -104 52 -108 47 -108 -36 -101 -43 -86 -54 -84 -58 -84 -61 -87 -76 -88 -86 -87 -97 -83 -108Z"/><path fill="#ffcf00" d="M-76 -106L-75 -108 -17 -108 -12 -97 -8 -76 -6 -68 -2 -61 5 -55 13 -51 20 -49 40 -48 65 -43 71 -40 79 -29 85 -24 90 -23 108 -21 108 108 94 108 93 101 92 95 89 92 85 90 63 92 52 92 41 90 25 85 0 82 -40 87 -47 87 -54 85 -63 81 -71 76 -99 45 -108 32 -108 -18 -103 -27 -97 -32 -88 -38 -70 -44 -67 -48 -65 -52 -66 -59 -75 -74 -79 -85 -79 -95 -76 -106Z"/><path fill="#ffaf00" d="M-67 -106L-66 -108 -22 -108 -18 -101 -16 -94 -14 -70 -12 -63 -9 -56 -4 -51 9 -43 16 -40 23 -39 36 -40 40 -39 76 -17 108 -8 108 45 101 46 92 50 85 56 75 70 70 75 63 80 54 82 41 82 26 79 2 76 -36 81 -45 81 -56 78 -65 73 -98 34 -103 23 -105 11 -104 2 -102 -7 -98 -14 -93 -22 -86 -27 -68 -33 -61 -37 -55 -41 -51 -47 -50 -50 -52 -56 -65 -76 -69 -85 -70 -95 -69 -101 -67 -106Z"/><path fill="#ff8f00" d="M-57 -106L-55 -108 -29 -108 -23 -102 -20 -94 -20 -83 -23 -70 -26 -67 -29 -64 -36 -63 -43 -65 -50 -70 -57 -77 -60 -85 -62 -92 -61 -99 -57 -106ZM-48 -31L-38 -32 -32 -31 -28 -29 -23 -24 -19 -13 -16 -7 -11 -2 -4 2 0 3 6 2 22 -8 29 -10 38 -11 54 -11 86 -4 92 -2 96 2 98 5 99 13 96 18 88 28 76 49 67 65 63 70 56 75 49 77 40 77 9 72 0 71 -36 76 -43 76 -50 75 -58 72 -64 67 -74 51 -88 34 -93 23 -95 13 -94 5 -92 -1 -89 -7 -85 -12 -77 -17 -48 -31Z"/><path fill="#ff7000" d="M-43 -104L-38 -105 -32 -103 -28 -99 -25 -94 -25 -88 -26 -85 -29 -79 -34 -76 -40 -76 -45 -78 -49 -83 -52 -88 -52 -94 -51 -99 -47 -103 -43 -104ZM-66 -2L-58 -3 -45 0 -32 0 -9 9 0 11 7 10 25 3 34 1 45 0 56 2 68 7 74 13 76 22 74 34 69 47 62 61 56 68 49 71 41 72 34 72 7 67 0 66 -32 72 -40 72 -47 71 -56 67 -62 61 -78 34 -82 25 -83 16 -79 7 -74 2 -66 -2Z"/><path fill="#ff5000" d="M-43 11L-34 10 -27 11 -7 17 0 18 7 17 22 12 31 10 40 9 50 11 59 16 65 23 66 34 64 47 60 56 56 61 50 65 43 68 31 68 2 61 -5 62 -31 68 -40 69 -47 67 -56 61 -62 54 -69 38 -71 27 -69 20 -63 15 -56 12 -43 11Z"/><path fill="#ff3000" d="M31 16L40 17 50 20 56 25 60 32 60 41 57 52 51 59 43 63 36 64 29 64 7 56 0 55 -5 56 -27 64 -34 65 -41 65 -49 62 -54 58 -58 52 -62 43 -63 34 -61 28 -58 23 -50 20 -38 17 -29 17 -20 19 -5 25 0 26 7 24 23 18 31 16Z"/><path fill="#ff1000" d="M-42 23L-34 22 -29 22 -23 24 -16 27 -9 32 -4 38 -4 41 -5 45 -14 54 -25 60 -36 61 -41 61 -47 58 -52 54 -55 49 -57 41 -57 36 -56 32 -52 28 -48 25 -42 23ZM24 23L32 22 40 23 47 26 52 31 55 38 55 45 52 52 47 57 38 60 27 59 16 54 6 45 5 40 8 34 16 27 24 23Z"/><path fill="#ef0000" d="M-43 29L-36 27 -31 27 -25 29 -19 32 -16 36 -15 41 -16 47 -19 50 -25 55 -32 57 -40 57 -47 53 -51 47 -52 40 -51 36 -49 32 -43 29ZM26 29L32 27 38 28 44 31 48 34 50 38 50 43 49 49 45 53 40 56 32 56 25 54 19 49 16 43 17 38 20 32 26 29Z"/><path fill="#cf0000" d="M-38 32L-32 32 -29 33 -25 36 -23 40 -22 43 -24 47 -27 50 -31 53 -36 53 -40 53 -44 50 -46 47 -47 41 -46 38 -42 34 -38 32ZM29 34L36 33 40 34 43 37 45 40 45 43 44 47 41 50 38 52 32 52 29 50 25 47 24 43 24 40 27 36 29 34Z"/><path fill="#af0000" d="M-40 40L-36 38 -32 39 -30 41 -31 45 -34 48 -38 48 -40 47 -41 43 -40 40ZM34 41L37 41 38 43 38 45 36 45 34 45 33 43 34 41Z"/><path fill="none" stroke="#111" stroke-width="1.4" vector-effect="non-scaling-stroke" d="M13 -108L17 -94 21 -85 25 -80 32 -77 40 -77 47 -78 81 -87 108 -91M-3 -108L3 -86 7 -77 13 -70 22 -65 31 -63 41 -62 70 -66 79 -66 108 -62M-108 -94L-102 -108M-74 108L-90 96 -108 78M-18 -108L-13 -95 -10 -74 -7 -67 -3 -59 3 -54 11 -50 18 -47 25 -46 38 -47 59 -41 67 -38 76 -27 83 -22 90 -20 108 -18M-108 -11L-103 -22 -95 -30 -88 -34 -69 -41 -65 -45 -62 -49 -61 -52 -62 -58 -73 -76 -76 -86 -76 -97 -72 -108M101 108L103 95 102 86 99 80 97 78 94 77 88 78 69 86 56 89 45 88 25 83 2 80 -40 85 -49 85 -56 83 -65 78 -74 70 -99 41 -104 34 -108 27M-31 -108L-27 -104 -23 -99 -21 -94 -20 -86 -23 -77 -26 -70 -31 -67 -36 -66 -43 -68 -49 -71 -54 -77 -59 -85 -60 -92 -60 -97 -57 -103 -52 -108M-44 -29L-36 -28 -31 -25 -28 -22 -23 -11 -19 -5 -11 1 -4 4 0 5 5 4 25 -6 32 -8 40 -9 59 -7 86 -1 92 2 94 7 93 14 85 27 68 61 64 67 56 73 50 75 43 76 2 70 -5 71 -32 75 -43 76 -52 73 -61 67 -65 63 -72 52 -85 36 -89 29 -92 18 -92 7 -88 -2 -81 -11 -50 -27 -44 -29M-36 14L-25 15 -7 21 0 22 7 21 22 16 29 14 38 14 49 16 56 20 59 23 61 28 63 38 60 49 57 56 52 61 47 64 41 65 29 65 7 59 0 58 -5 58 -29 66 -38 66 -45 65 -54 60 -60 52 -65 40 -66 34 -65 29 -63 23 -58 19 -50 17 -36 14M-41 31L-36 29 -31 30 -25 32 -22 34 -19 38 -19 41 -20 47 -23 50 -29 54 -36 56 -41 54 -47 50 -49 45 -50 40 -47 34 -41 31M30 31L34 30 40 31 43 33 47 37 48 41 47 47 45 50 41 53 36 54 31 54 25 51 21 47 20 43 21 38 23 34 30 31"/></g>
<use href="#el"/>
<circle r="100" fill="none" stroke="#000" stroke-width="2.9" vector-effect="non-scaling-stroke"/>
</g>
<g transform="translate(1371.3 729.5) scale(0.5600 0.5600)">
<use href="#ears"/>
<g clip-path="url(#hc)"><circle r="104" fill="#00008f"/><path fill="#0000af" d="M-108 -108L108 -108 108 108 -108 108 -108 -108Z"/><path fill="#0000cf" d="M-108 -108L108 -108 108 108 -108 108 -108 -108Z"/><path fill="#0000ef" d="M-108 -108L108 -108 108 108 -108 108 -108 -108Z"/><path fill="#0010ff" d="M-108 -108L108 -108 108 108 -108 108 -108 -108Z"/><path fill="#0030ff" d="M-108 -108L108 -108 108 108 -108 108 -108 -108Z"/><path fill="#0050ff" d="M-108 -108L108 -108 108 108 -108 108 -108 -108Z"/><path fill="#0070ff" d="M-108 -108L108 -108 108 108 -108 108 -108 -108Z"/><path fill="#008fff" d="M-108 -108L108 -108 108 108 -108 108 -108 -108Z"/><path fill="#00afff" d="M-108 -108L108 -108 108 108 -108 108 -108 -108ZM45 -99L41 -97 38 -92 39 -86 41 -82 49 -75 56 -70 63 -67 68 -69 71 -72 71 -77 69 -85 65 -90 61 -94 56 -98 50 -99 45 -99Z"/><path fill="#00cfff" d="M-108 -108L108 -108 108 108 -108 108 -108 -108ZM38 -106L34 -104 31 -101 30 -97 30 -92 36 -79 45 -66 56 -53 67 -45 72 -43 77 -42 81 -43 85 -45 88 -49 89 -52 89 -65 85 -77 77 -90 68 -99 58 -106 47 -108 38 -106Z"/><path fill="#00efff" d="M-108 -108L24 -108 22 -104 21 -101 21 -97 23 -92 49 -44 68 -18 82 -5 90 -1 95 -2 101 -5 105 -9 108 -13 108 108 -106 108 -108 106 -108 -108ZM0 -24L-3 -22 -6 -18 -6 -14 -3 -11 2 -8 9 -6 13 -7 17 -9 18 -11 19 -14 16 -20 8 -23 0 -24ZM0 17L-2 19 -2 22 0 24 2 23 4 20 2 17 0 17ZM66 -108L108 -108 108 -39 101 -63 93 -81 87 -90 80 -97 74 -103 66 -108Z"/><path fill="#10ffef" d="M-108 -108L10 -108 8 -103 9 -97 24 -79 29 -68 34 -58 37 -45 38 -27 38 -26 36 -25 21 -27 4 -27 -4 -25 -8 -22 -11 -16 -11 -9 -7 -4 0 0 0 2 -5 8 -8 14 -9 22 -7 30 -5 33 -2 36 0 36 4 34 9 27 15 11 17 7 25 0 43 -12 47 -11 61 -8 88 4 98 4 108 0 108 108 -101 108 -106 103 -108 101 -108 -108ZM76 -108L108 -108 108 -68 101 -81 93 -92 85 -101 76 -108ZM40 -22L41 -22 42 -20 41 -19 40 -22Z"/><path fill="#30ffcf" d="M-108 -108L-9 -108 -15 -101 -15 -97 -14 -95 -12 -94 7 -85 14 -80 20 -74 25 -65 28 -56 29 -47 27 -40 24 -36 18 -33 0 -29 -7 -27 -13 -22 -17 -14 -18 -9 -14 5 -14 18 -13 27 -9 37 -4 42 0 43 5 40 11 33 22 13 29 7 36 3 50 0 58 0 67 1 90 8 99 8 108 7 108 108 -96 108 -103 102 -108 97 -108 -108ZM84 -108L108 -108 108 -81 97 -95 84 -108Z"/><path fill="#50ffaf" d="M-108 -108L-24 -108 -28 -103 -30 -97 -30 -92 -27 -86 -22 -84 -5 -82 4 -79 12 -74 18 -67 22 -59 23 -52 22 -47 20 -41 13 -36 -5 -30 -12 -27 -21 -20 -24 -13 -24 -7 -20 7 -16 31 -11 41 -5 47 -2 48 2 47 7 44 12 38 26 16 32 10 40 7 50 5 59 5 68 6 90 12 108 13 108 108 -91 108 -101 100 -108 92 -108 -108ZM91 -108L108 -108 108 -90 91 -108Z"/><path fill="#70ff8f" d="M-108 -108L-34 -108 -37 -103 -38 -95 -36 -88 -32 -83 -25 -79 -7 -76 2 -74 9 -69 14 -63 17 -56 18 -50 16 -45 13 -41 5 -36 -7 -32 -15 -29 -28 -20 -32 -14 -32 -9 -25 9 -18 36 -13 45 -7 50 0 52 4 51 8 49 13 43 28 20 34 14 41 11 50 9 61 9 92 16 108 18 108 108 -86 108 -97 99 -108 86 -108 -108ZM98 -108L108 -108 108 -98 98 -108Z"/><path fill="#8fff70" d="M-108 -108L-42 -108 -44 -101 -44 -94 -41 -86 -36 -80 -27 -74 -7 -71 0 -69 6 -65 10 -59 12 -54 12 -49 11 -45 7 -41 2 -38 -14 -33 -31 -25 -42 -22 -44 -20 -45 -18 -43 -13 -35 -2 -30 7 -22 34 -19 43 -14 50 -9 54 -5 56 0 56 5 55 9 53 14 47 29 23 36 18 43 14 54 13 65 14 108 23 108 108 -80 108 -94 97 -102 88 -108 79 -108 15 -103 9 -90 0 -88 -4 -87 -7 -89 -11 -92 -15 -108 -23 -108 -108ZM104 -108L108 -108 108 -104 104 -108Z"/><path fill="#afff50" d="M-108 -108L-49 -108 -51 -101 -50 -94 -48 -86 -42 -79 -36 -74 -29 -71 -4 -64 2 -61 5 -57 7 -52 7 -49 6 -45 2 -41 -14 -36 -31 -29 -48 -25 -54 -22 -57 -16 -56 -13 -43 -3 -36 6 -31 16 -25 36 -22 45 -16 54 -11 58 -5 61 0 61 5 60 9 58 16 50 25 34 31 27 38 21 45 18 56 17 68 18 87 22 108 28 108 103 98 108 -73 108 -82 103 -91 95 -101 83 -108 69 -108 27 -101 17 -85 5 -79 0 -74 -7 -72 -13 -74 -16 -82 -22 -108 -34 -108 -108Z"/><path fill="#cfff30" d="M-108 -108L-56 -108 -57 -101 -57 -94 -55 -86 -50 -79 -43 -74 -36 -69 -11 -61 -4 -58 1 -52 1 -49 0 -46 -4 -43 -14 -40 -32 -33 -65 -27 -72 -28 -79 -30 -108 -44 -108 -108ZM-65 0L-59 -1 -52 0 -47 2 -41 7 -35 16 -27 41 -22 53 -14 62 -11 64 -5 66 4 66 9 63 13 60 18 54 31 32 38 25 45 21 59 20 79 23 91 27 108 34 108 96 97 103 84 108 -64 108 -72 104 -81 99 -87 94 -94 86 -98 79 -105 63 -107 54 -107 45 -104 32 -97 22 -88 15 -70 3 -65 0Z"/><path fill="#efff10" d="M-108 -108L-63 -108 -65 -101 -65 -94 -62 -86 -58 -79 -52 -74 -45 -69 -17 -56 -13 -52 -14 -49 -23 -41 -34 -36 -41 -35 -63 -34 -72 -36 -81 -39 -108 -54 -108 -108ZM-62 7L-56 6 -50 8 -45 11 -41 14 -37 22 -28 49 -22 61 -14 69 -11 71 -5 73 5 72 11 69 14 66 20 59 31 37 36 31 43 26 50 24 61 24 78 27 89 31 99 36 108 42 108 87 97 95 86 101 74 105 59 108 45 108 14 106 -5 105 -45 108 -58 106 -68 102 -76 98 -83 92 -93 79 -100 65 -101 56 -102 49 -99 36 -96 31 -92 25 -86 20 -77 14 -68 9 -62 7Z"/><path fill="#ffef00" d="M-108 -108L-71 -108 -73 -101 -74 -94 -73 -86 -70 -81 -65 -75 -57 -68 -49 -64 -34 -58 -28 -54 -26 -50 -28 -45 -33 -41 -40 -40 -70 -43 -79 -47 -97 -60 -108 -66 -108 -108ZM-63 14L-58 14 -52 14 -47 17 -43 20 -30 54 -22 72 -16 80 -13 84 -9 85 7 83 14 78 21 68 29 47 33 40 41 32 47 29 52 28 65 29 79 32 88 36 97 41 104 49 108 55 108 73 102 83 92 91 80 97 67 101 56 102 43 101 11 93 -7 91 -11 91 -28 99 -38 102 -50 103 -61 100 -75 94 -86 83 -90 76 -93 68 -96 54 -96 47 -94 40 -88 29 -77 21 -63 14Z"/><path fill="#ffcf00" d="M-108 -108L-79 -108 -90 -87 -94 -83 -99 -81 -108 -81 -108 -108ZM-44 -50L-41 -50 -39 -49 -40 -47 -41 -48 -44 -49 -44 -50ZM-63 22L-54 21 -50 23 -47 26 -38 43 -30 67 -28 76 -30 86 -33 92 -41 96 -49 97 -56 97 -63 95 -69 92 -76 87 -81 81 -86 74 -88 67 -90 59 -90 52 -89 45 -86 38 -82 32 -77 28 -70 24 -63 22ZM46 34L58 33 72 35 84 40 93 47 99 56 100 65 98 74 92 82 86 86 79 90 70 93 61 95 52 94 45 93 38 90 33 86 29 81 28 74 28 65 31 54 33 47 36 41 40 38 46 34Z"/><path fill="#ffaf00" d="M-108 -108L-90 -108 -99 -100 -108 -95 -108 -108ZM-66 31L-58 30 -54 31 -50 34 -43 45 -37 61 -35 72 -36 81 -40 87 -47 91 -52 92 -58 91 -68 86 -76 79 -82 68 -84 56 -81 45 -78 40 -75 36 -66 31ZM53 38L63 38 74 41 83 47 88 54 90 63 89 70 84 77 76 83 65 86 54 86 45 83 41 79 38 75 36 70 35 63 36 54 38 47 43 41 49 39 53 38Z"/><path fill="#ff8f00" d="M-108 -108L-105 -108 -108 -106 -108 -108ZM-65 41L-59 41 -54 43 -49 49 -43 60 -41 68 -41 76 -44 81 -49 84 -56 85 -63 83 -69 77 -74 70 -76 61 -74 52 -70 45 -65 41ZM52 45L58 45 65 46 71 49 75 52 78 58 79 63 77 68 73 72 67 76 59 76 52 74 47 70 43 63 43 54 45 49 52 45Z"/><path fill="#ff7000" d="M-61 58L-58 57 -56 58 -51 63 -49 70 -49 74 -51 76 -54 77 -58 76 -60 74 -63 70 -64 63 -63 59 -61 58Z"/><path fill="none" stroke="#111" stroke-width="1.4" vector-effect="non-scaling-stroke" d="M22 -108L19 -104 19 -101 20 -94 36 -65 47 -42 63 -19 79 -5 85 -2 90 0 99 -2 105 -5 108 -9M108 -49L101 -68 92 -85 81 -98 69 -108M-2 -24L-6 -20 -7 -16 -6 -13 -3 -9 11 -4 16 -5 21 -9 22 -14 21 -18 18 -20 13 -23 7 -24 2 -25 -2 -24M0 14L-4 18 -4 22 -3 25 0 27 4 26 6 20 6 16 4 14 0 14M-105 108L-108 105M-5 -108L-9 -103 -10 -99 -9 -97 -5 -94 9 -86 19 -77 23 -71 27 -63 30 -56 30 -49 29 -41 25 -35 18 -32 2 -29 -5 -27 -12 -22 -16 -16 -16 -9 -13 4 -13 18 -13 25 -10 34 -6 40 0 42 5 39 11 32 18 16 22 11 29 5 38 1 52 -2 58 -2 67 0 90 7 99 8 108 6M108 -79L96 -95 83 -108M-97 108L-108 98M-29 -108L-32 -101 -33 -95 -32 -90 -29 -85 -27 -83 -23 -81 -4 -79 7 -75 13 -70 16 -66 19 -59 21 -54 20 -46 15 -40 9 -36 -5 -31 -13 -28 -21 -22 -27 -14 -27 -9 -22 7 -18 31 -14 40 -9 46 -5 48 -2 49 4 48 7 46 13 40 22 23 27 17 34 11 41 9 52 7 61 7 90 13 108 15M108 -93L94 -108M-89 108L-100 99 -108 89M-42 -108L-44 -101 -44 -94 -41 -86 -37 -81 -32 -77 -27 -74 -7 -71 2 -68 9 -61 12 -54 12 -47 10 -43 5 -40 -13 -34 -31 -25 -42 -22 -44 -20 -45 -18 -43 -13 -36 -3 -31 5 -27 14 -21 38 -18 45 -13 51 -9 54 -4 56 2 56 7 54 14 47 25 29 31 22 38 17 45 14 54 13 65 14 108 23M108 -104L104 -108M-108 15L-102 9 -90 0 -87 -5 -88 -10 -92 -14 -108 -23M-80 108L-88 102 -96 95 -103 87 -108 79M-53 -108L-55 -101 -54 -94 -52 -86 -48 -81 -43 -76 -34 -70 -25 -67 -9 -63 -2 -59 2 -56 3 -52 4 -49 2 -44 -2 -42 -14 -39 -31 -32 -47 -29 -61 -24 -67 -23 -77 -26 -108 -40M-108 38L-104 27 -97 19 -70 -1 -65 -4 -61 -5 -56 -4 -49 -2 -45 0 -40 6 -34 16 -26 40 -21 50 -14 59 -11 62 -5 64 4 63 11 60 17 52 31 30 38 23 45 20 58 19 74 21 88 24 108 32M108 99L90 108M-68 108L-83 99 -94 88 -103 74 -108 59M-64 -108L-66 -101 -66 -94 -64 -86 -61 -81 -56 -76 -49 -70 -20 -56 -17 -52 -16 -50 -18 -47 -28 -40 -36 -37 -65 -36 -74 -38 -81 -41 -108 -56M108 85L99 93 88 99 76 104 63 106 45 107 14 104 -5 103 -16 104 -38 107 -52 106 -61 104 -70 100 -78 95 -86 88 -91 81 -96 72 -99 63 -101 52 -100 45 -98 38 -95 31 -91 25 -84 20 -72 13 -65 9 -58 8 -49 10 -41 16 -38 22 -29 47 -23 59 -16 69 -13 72 -7 74 4 74 13 69 20 60 28 43 32 36 40 29 47 26 54 25 61 25 83 29 97 36 108 44M-77 -108L-82 -97 -88 -78 -90 -77 -94 -76 -108 -78M-78 -65L-76 -66 -72 -65 -54 -57 -40 -53 -35 -50 -35 -47 -38 -44 -41 -45 -56 -49 -71 -52 -74 -54 -77 -58 -78 -61 -78 -65M-62 20L-56 19 -52 20 -49 22 -45 26 -37 43 -28 70 -27 79 -28 88 -33 94 -41 98 -49 99 -56 98 -63 96 -71 92 -77 87 -83 80 -87 74 -90 65 -91 58 -91 50 -90 43 -86 36 -82 31 -77 27 -68 22 -62 20M49 32L61 32 77 35 88 41 96 49 101 58 102 67 99 76 91 85 83 90 76 93 67 95 58 96 49 96 40 94 33 90 29 86 27 81 26 74 28 63 31 49 34 43 38 38 43 34 49 32M-95 -108L-108 -100M-64 34L-57 34 -50 38 -45 47 -40 59 -37 68 -38 77 -41 85 -47 88 -56 89 -65 86 -73 79 -79 68 -81 58 -78 47 -76 42 -72 38 -64 34M48 41L56 40 66 41 75 45 81 50 85 56 86 63 84 70 80 76 71 81 61 83 50 81 43 76 41 72 39 67 38 54 40 49 41 46 48 41"/></g>
<use href="#el"/>
<circle r="100" fill="none" stroke="#000" stroke-width="2.9" vector-effect="non-scaling-stroke"/>
</g>
<g transform="translate(139.0 907.0) scale(0.5450 0.5500)">
<use href="#ears"/>
<g clip-path="url(#hc)"><circle r="104" fill="#00008f"/><path fill="#0000af" d="M-108 -108L108 -108 108 108 -108 108 -108 -108ZM-31 -15L-35 -11 -35 -7 -34 -4 -27 0 -18 2 -11 3 -8 2 -1 -9 -1 -11 -2 -13 -7 -14 -22 -16 -31 -15Z"/><path fill="#0000cf" d="M-108 -108L108 -108 108 108 -108 108 -108 -108ZM52 -26L43 -22 0 -24 -31 -22 -36 -20 -40 -16 -42 -9 -42 -4 -40 0 -36 2 -18 9 -4 17 0 18 4 16 14 7 20 4 29 1 43 -1 49 -4 57 -13 60 -20 59 -25 56 -26 52 -26Z"/><path fill="#0000ef" d="M-108 -108L108 -108 108 108 -108 108 -108 -108ZM65 -50L56 -47 40 -36 31 -33 13 -29 -25 -27 -38 -24 -43 -20 -45 -15 -47 -5 -45 0 -43 3 -39 5 -20 13 -5 21 0 22 5 20 16 12 23 8 48 2 69 -11 73 -14 76 -20 78 -36 77 -43 76 -47 72 -50 65 -50Z"/><path fill="#0010ff" d="M-108 -108L108 -108 108 108 -108 108 -108 -108ZM63 -58L52 -54 32 -42 18 -37 4 -34 -25 -31 -40 -27 -45 -23 -48 -16 -50 -5 -48 2 -41 7 -23 15 -7 24 0 26 7 23 18 15 25 11 49 5 80 -9 84 -13 87 -18 89 -36 87 -45 83 -52 77 -56 70 -58 63 -58Z"/><path fill="#0030ff" d="M-108 -108L108 -108 108 108 -108 108 -108 -108ZM59 -63L49 -59 25 -46 9 -40 0 -37 -23 -36 -34 -33 -41 -30 -47 -26 -50 -20 -53 -5 -52 2 -49 5 -44 9 -25 17 -7 27 0 29 7 26 20 17 29 13 88 -5 93 -9 96 -13 99 -22 99 -34 95 -47 88 -56 80 -61 70 -64 59 -63Z"/><path fill="#0050ff" d="M-108 -108L108 -108 108 -34 106 -41 102 -49 96 -56 90 -61 83 -65 76 -68 68 -69 59 -68 44 -63 16 -49 4 -43 -2 -42 -22 -40 -43 -33 -47 -31 -51 -25 -56 -4 -54 4 -49 9 -25 19 -7 30 -2 31 2 31 7 29 23 18 32 14 67 4 88 0 93 -2 98 -5 103 -11 108 -21 108 108 -108 108 -108 -108Z"/><path fill="#0070ff" d="M-108 -108L108 -108 108 -51 102 -58 96 -63 88 -68 81 -71 74 -73 65 -73 49 -70 35 -65 2 -49 -22 -45 -46 -36 -50 -32 -53 -27 -60 -2 -59 2 -57 5 -51 11 -27 21 -7 33 0 34 7 32 23 21 32 17 67 7 92 3 101 -2 108 -7 108 108 -108 108 -108 -108Z"/><path fill="#008fff" d="M-108 -108L108 -108 108 -59 97 -68 86 -73 74 -77 61 -77 50 -75 40 -72 0 -56 -22 -52 -36 -45 -47 -41 -53 -36 -57 -29 -59 -14 -64 0 -62 5 -55 11 -27 23 -7 35 0 37 7 35 25 22 36 17 67 9 94 5 108 -1 108 108 -108 108 -108 -108ZM-94 -7L-95 -5 -94 -2 -90 0 -88 -1 -87 -4 -88 -5 -90 -7 -94 -7Z"/><path fill="#00afff" d="M-108 -108L108 -108 108 -65 98 -72 86 -77 76 -80 63 -81 45 -79 4 -66 -23 -61 -50 -47 -56 -43 -59 -38 -61 -32 -63 -13 -68 -7 -74 -7 -77 -9 -86 -18 -94 -22 -99 -21 -103 -20 -106 -16 -108 -13 -108 -108ZM-108 -4L-103 2 -95 5 -88 6 -77 5 -72 5 -54 14 -29 24 -9 37 -4 40 0 40 7 38 25 25 38 19 65 12 94 8 108 4 108 108 -108 108 -108 -4Z"/><path fill="#00cfff" d="M-108 -108L108 -108 108 -71 97 -77 87 -81 76 -84 65 -85 45 -83 4 -73 -23 -73 -31 -71 -38 -68 -47 -63 -59 -54 -67 -47 -71 -40 -73 -32 -73 -29 -69 -20 -69 -18 -70 -17 -73 -20 -76 -29 -83 -33 -88 -34 -95 -33 -103 -31 -108 -28 -108 -108ZM-108 7L-108 6 -95 10 -76 10 -63 13 -31 25 -7 41 0 43 7 41 27 26 40 20 67 14 95 11 108 8 108 108 -108 108 -108 7Z"/><path fill="#00efff" d="M-108 -108L108 -108 108 -75 97 -81 88 -84 77 -87 67 -88 47 -87 5 -80 -29 -81 -38 -78 -49 -74 -85 -49 -108 -37 -108 -108ZM-108 13L-108 11 -95 13 -76 14 -59 17 -31 27 -23 32 -7 44 0 46 7 44 27 28 41 21 68 15 108 12 108 108 -108 108 -108 13Z"/><path fill="#10ffef" d="M-108 -108L108 -108 108 -80 88 -88 77 -90 67 -91 49 -91 7 -85 -4 -85 -23 -87 -31 -86 -43 -83 -54 -79 -108 -45 -108 -108ZM-108 16L-97 17 -74 17 -54 21 -31 29 -23 34 -7 47 0 49 7 47 27 30 34 26 41 23 68 17 108 15 108 108 -108 108 -108 16Z"/><path fill="#30ffcf" d="M-108 -108L108 -108 108 -83 97 -88 86 -92 65 -95 47 -94 7 -90 -22 -91 -32 -91 -45 -88 -58 -83 -108 -52 -108 -108ZM-108 20L-72 19 -61 21 -45 25 -29 32 -9 49 -4 52 0 53 4 53 7 51 27 32 34 28 41 25 56 21 70 19 108 18 108 108 -108 108 -108 20Z"/><path fill="#50ffaf" d="M-108 -108L108 -108 108 -87 86 -95 65 -98 47 -98 9 -94 -22 -96 -32 -95 -47 -92 -61 -86 -77 -77 -108 -59 -108 -108ZM-83 22L-72 22 -61 23 -36 30 -25 37 -7 54 0 57 4 57 9 54 22 40 29 33 41 27 56 23 72 21 108 21 108 108 -108 108 -108 23 -83 22Z"/><path fill="#70ff8f" d="M-108 -108L108 -108 108 -91 86 -98 65 -101 47 -101 9 -98 -20 -99 -32 -99 -48 -95 -63 -90 -80 -81 -108 -64 -108 -108ZM66 23L85 23 108 24 108 108 -108 108 -108 26 -85 24 -72 24 -58 26 -41 30 -34 33 -27 37 -5 60 -2 63 2 63 7 60 24 40 32 33 45 28 66 23Z"/><path fill="#8fff70" d="M-108 -108L108 -108 108 -94 86 -101 63 -104 47 -104 9 -102 -20 -103 -32 -102 -49 -99 -65 -93 -82 -85 -108 -70 -108 -108ZM67 25L86 25 108 28 108 108 -108 108 -108 30 -86 27 -72 26 -58 27 -40 32 -32 36 -25 41 -4 69 0 72 2 72 7 68 22 45 31 36 37 32 45 29 67 25Z"/><path fill="#afff50" d="M-108 -108L108 -108 108 -97 86 -104 63 -107 -31 -106 -47 -103 -65 -97 -83 -88 -108 -74 -108 -108ZM68 27L86 27 108 31 108 108 -108 108 -108 33 -88 29 -72 28 -56 30 -38 35 -31 39 -24 45 -16 58 -5 76 -2 80 2 81 5 79 9 74 22 49 31 38 38 34 45 31 68 27Z"/><path fill="#cfff30" d="M-108 -108L-36 -108 -52 -105 -68 -99 -88 -90 -108 -79 -108 -108ZM79 -108L108 -108 108 -100 94 -105 79 -108ZM69 29L88 29 108 34 108 108 -108 108 -108 37 -88 32 -72 30 -54 32 -38 36 -30 41 -24 49 -6 81 -2 84 2 85 7 82 12 77 24 50 28 43 32 39 38 36 47 32 69 29Z"/><path fill="#efff10" d="M-108 -108L-51 -108 -77 -99 -108 -83 -108 -108ZM92 -108L108 -108 108 -103 92 -108ZM-80 32L-68 32 -56 33 -43 36 -34 40 -29 45 -24 52 -10 81 -5 85 0 87 7 86 14 81 17 74 23 58 27 49 32 41 40 37 56 32 76 31 91 32 108 37 108 108 -108 108 -108 40 -94 35 -80 32Z"/><path fill="#ffef00" d="M-108 -108L-62 -108 -85 -99 -108 -87 -108 -108ZM102 -108L108 -108 108 -106 102 -108ZM-77 34L-67 34 -56 35 -43 38 -36 41 -32 45 -27 52 -16 76 -12 83 -6 88 2 90 10 88 16 83 20 76 28 50 33 43 38 40 52 35 70 33 86 34 101 38 108 41 108 108 -108 108 -108 44 -93 38 -77 34Z"/><path fill="#ffcf00" d="M-108 -108L-71 -108 -88 -101 -108 -91 -108 -108ZM-74 36L-65 36 -54 37 -43 40 -36 43 -32 47 -28 54 -19 77 -15 85 -11 88 -7 90 2 92 7 92 13 90 20 85 24 76 30 52 34 45 39 41 50 37 68 35 83 36 97 40 108 45 108 108 -108 108 -108 49 -92 40 -83 37 -74 36Z"/><path fill="#ffaf00" d="M-108 -108L-79 -108 -108 -94 -108 -108ZM-70 38L-50 40 -41 43 -37 45 -31 54 -21 79 -16 87 -13 91 -7 93 5 95 11 95 16 93 23 86 27 77 32 53 36 47 40 43 50 39 67 37 79 37 90 40 101 45 108 50 108 102 102 108 -104 108 -108 103 -108 54 -99 47 -90 42 -79 39 -70 38Z"/><path fill="#ff8f00" d="M-108 -108L-86 -108 -108 -98 -108 -108ZM61 40L74 39 86 42 99 48 108 56 108 94 103 101 95 108 -97 108 -104 101 -108 94 -108 61 -104 56 -98 50 -90 45 -83 42 -74 40 -63 40 -49 43 -40 46 -34 54 -24 81 -18 90 -14 94 -9 96 9 99 14 98 20 96 23 93 27 88 30 79 34 56 37 50 39 47 47 43 61 40Z"/><path fill="#ff7000" d="M-108 -108L-93 -108 -108 -101 -108 -108ZM66 41L79 42 92 47 102 56 106 61 108 66 108 82 106 88 98 99 87 108 -89 108 -95 102 -101 96 -104 90 -107 83 -107 74 -106 67 -102 59 -95 52 -87 47 -77 43 -68 42 -58 43 -44 47 -41 49 -38 52 -34 59 -25 86 -22 92 -18 96 -14 98 -9 100 11 104 18 103 26 99 31 90 34 81 37 59 40 50 43 48 49 45 66 41Z"/><path fill="#ff5000" d="M-108 -108L-100 -108 -108 -104 -108 -108ZM-75 45L-67 44 -58 46 -49 48 -43 51 -38 59 -30 86 -25 96 -18 104 -13 106 -6 108 -79 108 -89 101 -95 94 -100 85 -102 76 -101 68 -98 61 -92 54 -84 49 -75 45ZM59 45L68 44 77 45 86 48 94 53 99 59 103 67 104 74 102 83 98 90 92 97 85 103 75 108 36 108 36 103 38 85 40 65 41 56 44 52 47 49 59 45Z"/><path fill="#ff3000" d="M-108 -108L-106 -108 -108 -107 -108 -108ZM66 47L72 47 77 48 84 50 89 54 94 59 96 65 98 70 98 76 96 81 94 86 90 91 85 96 72 102 65 104 58 104 50 101 47 95 44 81 44 63 47 56 50 52 57 49 66 47ZM-78 49L-70 47 -59 48 -50 51 -45 56 -41 65 -33 99 -32 104 -34 108 -64 108 -79 100 -85 95 -90 90 -93 85 -95 79 -96 72 -95 67 -92 61 -88 56 -84 52 -78 49Z"/><path fill="#ff1000" d="M-73 50L-67 50 -58 53 -52 56 -48 61 -45 70 -45 86 -47 94 -50 97 -54 98 -59 98 -71 95 -81 89 -87 81 -89 72 -87 63 -82 56 -78 52 -73 50ZM65 50L74 50 82 54 88 61 91 70 90 79 85 86 77 92 68 94 61 93 56 89 52 83 49 70 50 63 52 58 56 54 65 50Z"/><path fill="#ef0000" d="M-75 56L-70 54 -63 56 -58 59 -56 63 -55 68 -57 72 -63 79 -67 81 -70 81 -76 79 -79 76 -81 72 -81 67 -80 63 -78 59 -75 56ZM64 56L70 55 74 55 78 58 82 63 84 68 83 74 79 79 76 82 70 83 65 81 62 77 58 72 57 67 57 63 59 59 64 56Z"/><path fill="none" stroke="#111" stroke-width="1.4" vector-effect="non-scaling-stroke" d="M65 -52L56 -49 38 -37 27 -34 11 -30 -25 -28 -38 -25 -42 -22 -45 -17 -47 -7 -46 0 -43 3 -40 6 -22 13 -5 22 0 23 5 21 16 13 23 9 49 2 71 -11 75 -14 78 -20 80 -36 79 -45 77 -49 73 -52 65 -52M108 -37L105 -45 100 -52 95 -58 88 -63 81 -67 74 -69 67 -69 58 -68 43 -63 15 -49 4 -44 -22 -41 -43 -34 -49 -29 -52 -23 -56 -2 -55 2 -53 5 -47 10 -25 20 -7 30 -2 32 2 32 7 30 23 18 32 14 67 4 92 -1 96 -4 102 -9 108 -19M108 -70L97 -77 86 -81 76 -83 65 -84 45 -82 4 -72 -27 -71 -34 -69 -42 -65 -58 -54 -65 -47 -69 -41 -71 -34 -71 -31 -68 -20 -68 -16 -72 -16 -79 -28 -85 -32 -90 -33 -95 -32 -103 -30 -108 -27M-108 5L-95 9 -76 10 -65 12 -31 25 -7 41 0 43 7 41 27 26 40 20 67 13 94 11 108 8M108 -89L86 -96 65 -99 47 -99 9 -96 -22 -97 -32 -96 -47 -93 -63 -87 -81 -77 -108 -61M-108 24L-72 22 -59 24 -43 28 -36 31 -29 35 -21 41 -7 56 -2 59 2 60 5 58 9 55 27 35 34 31 41 28 56 24 72 22 86 21 108 23M-43 -108L-58 -104 -72 -99 -88 -91 -108 -81M108 -101L85 -108M-108 38L-88 32 -72 31 -54 32 -38 37 -31 41 -25 49 -8 81 -4 85 2 86 7 84 12 79 16 72 23 54 27 47 32 40 39 36 54 31 74 29 90 31 108 35M-82 -108L-108 -96M-108 56L-102 50 -95 46 -86 42 -78 40 -63 39 -43 43 -38 46 -33 52 -22 79 -16 89 -13 92 -7 95 7 96 16 95 20 92 24 88 28 79 34 52 38 46 43 43 61 38 70 38 79 38 95 43 101 47 108 52M108 99L99 108M-101 108L-108 100M-74 49L-67 48 -57 50 -49 54 -45 59 -42 68 -38 94 -39 101 -41 105 -45 106 -52 107 -59 106 -68 103 -81 95 -86 90 -90 85 -93 76 -93 70 -92 65 -89 59 -84 54 -79 50 -74 49M63 49L74 48 79 50 85 53 92 61 95 67 95 72 95 77 93 83 86 91 76 98 65 100 56 98 51 94 48 85 46 70 47 61 49 56 54 52 63 49"/></g>
<use href="#el"/>
<circle r="100" fill="none" stroke="#000" stroke-width="2.9" vector-effect="non-scaling-stroke"/>
</g>
<g transform="translate(909.0 911.5) scale(0.5600 0.5600)">
<use href="#ears"/>
<g clip-path="url(#hc)"><circle r="104" fill="#00008f"/><path fill="#0000af" d="M-108 -108L108 -108 108 108 -108 108 -108 -108ZM-4 -23L-9 -21 -15 -16 -18 -13 -19 -9 -18 -5 -14 -1 -9 2 -4 3 4 1 10 -4 15 -9 15 -13 13 -18 7 -23 2 -24 -4 -23Z"/><path fill="#0000cf" d="M-108 -108L108 -108 108 108 -108 108 -108 -108ZM2 -36L-5 -33 -23 -20 -27 -16 -29 -11 -29 -5 -25 0 -18 5 -7 10 0 10 7 7 25 -4 31 -9 31 -11 29 -14 20 -25 9 -34 2 -36Z"/><path fill="#0000ef" d="M-108 -108L108 -108 108 108 -108 108 -108 -108ZM2 -43L-5 -41 -32 -20 -35 -16 -36 -11 -35 -4 -30 4 -14 12 -4 16 4 14 25 3 43 -3 46 -5 47 -9 46 -13 42 -16 15 -38 9 -41 2 -43Z"/><path fill="#0010ff" d="M-108 -108L108 -108 108 108 -108 108 -108 -108ZM-2 -47L-9 -43 -22 -33 -35 -23 -40 -19 -41 -13 -41 -5 -39 0 -34 5 -26 11 -13 17 -5 20 0 20 6 18 27 7 46 2 53 -4 55 -7 56 -13 55 -16 52 -20 32 -31 13 -46 5 -48 -2 -47Z"/><path fill="#0030ff" d="M-108 -108L108 -108 108 108 -108 108 -108 -108ZM2 -52L-4 -51 -8 -49 -25 -34 -41 -24 -45 -20 -46 -14 -44 -2 -41 3 -38 7 -29 13 -14 20 -7 23 -2 24 5 22 27 10 47 5 54 2 62 -5 64 -9 66 -14 64 -23 59 -29 56 -31 36 -36 18 -48 13 -51 7 -52 2 -52Z"/><path fill="#0050ff" d="M-108 -108L108 -108 108 108 -108 108 -108 -108ZM-2 -56L-11 -51 -27 -37 -43 -27 -48 -22 -49 -13 -47 0 -43 6 -36 12 -9 26 -4 27 2 27 7 25 21 16 29 12 49 7 58 4 67 -2 72 -7 75 -13 75 -20 73 -40 70 -45 68 -46 65 -46 49 -41 40 -41 34 -43 23 -51 16 -55 7 -57 -2 -56Z"/><path fill="#0070ff" d="M-108 -108L108 -108 108 108 -108 108 -108 -108ZM4 -61L-4 -60 -11 -56 -29 -40 -45 -31 -51 -25 -52 -22 -53 -16 -50 -2 -47 6 -40 13 -9 29 -4 31 2 31 7 29 29 15 64 5 75 0 82 -5 85 -13 84 -27 84 -41 82 -50 77 -56 72 -58 65 -58 45 -50 40 -50 18 -60 11 -61 4 -61Z"/><path fill="#008fff" d="M-108 -108L108 -108 108 108 -108 108 -108 -108ZM0 -65L-7 -62 -13 -59 -32 -41 -50 -32 -55 -27 -57 -23 -57 -18 -53 0 -49 8 -41 15 -7 33 -2 34 2 34 7 32 22 22 31 17 40 14 59 10 77 5 88 1 93 -4 95 -9 96 -14 93 -43 89 -54 85 -59 81 -62 76 -65 68 -66 61 -65 45 -61 40 -60 14 -66 7 -66 0 -65Z"/><path fill="#00afff" d="M-108 -108L108 -108 108 108 -108 108 -108 -108ZM63 -72L40 -69 13 -71 -2 -69 -9 -66 -16 -61 -36 -43 -52 -37 -58 -34 -62 -29 -63 -22 -55 2 -52 9 -47 14 -41 18 -25 26 -7 36 0 38 7 35 23 23 34 18 43 16 84 9 90 7 96 4 100 0 103 -5 106 -16 104 -34 100 -49 94 -59 86 -67 76 -71 63 -72Z"/><path fill="#00cfff" d="M-108 -108L108 -108 108 -49 102 -59 95 -67 86 -73 77 -76 63 -78 38 -76 7 -75 -4 -73 -14 -68 -22 -62 -38 -46 -45 -44 -65 -42 -70 -40 -74 -36 -75 -29 -75 -23 -73 -20 -63 -9 -57 5 -50 14 -43 20 -27 27 -9 38 -2 41 2 41 7 38 25 25 36 20 47 17 91 13 100 9 108 3 108 108 -108 108 -108 -7 -97 -3 -90 -2 -86 -5 -84 -13 -87 -18 -95 -25 -101 -28 -108 -30 -108 -108Z"/><path fill="#00efff" d="M-108 -108L108 -108 108 -62 98 -72 85 -79 72 -83 56 -83 13 -81 -4 -78 -18 -71 -36 -54 -43 -50 -54 -50 -74 -55 -95 -51 -108 -50 -108 -108ZM-72 -4L-69 -4 -67 -2 -58 11 -47 20 -27 29 -7 41 0 43 7 41 27 26 40 21 50 19 90 18 99 16 108 12 108 108 -108 108 -108 3 -90 4 -85 3 -72 -4Z"/><path fill="#10ffef" d="M-108 -108L108 -108 108 -70 97 -79 85 -85 70 -88 54 -89 14 -86 -4 -82 -18 -76 -38 -61 -45 -58 -52 -57 -68 -62 -77 -63 -108 -62 -108 -108ZM-78 5L-72 5 -68 6 -49 22 -27 31 -7 44 0 46 4 45 9 43 27 29 34 25 41 23 54 22 92 23 101 22 108 20 108 108 -108 108 -108 9 -92 8 -78 5Z"/><path fill="#30ffcf" d="M-108 -108L108 -108 108 -77 95 -86 83 -91 68 -93 52 -94 16 -91 -4 -87 -18 -81 -38 -68 -47 -65 -54 -65 -79 -70 -108 -71 -108 -108ZM-83 11L-74 10 -68 12 -50 23 -27 33 -9 45 0 48 5 47 9 46 29 30 36 27 43 25 58 24 94 28 108 27 108 108 -108 108 -108 14 -83 11Z"/><path fill="#50ffaf" d="M-108 -108L108 -108 108 -84 94 -92 77 -97 59 -99 38 -98 13 -96 -4 -92 -20 -86 -41 -73 -49 -72 -56 -72 -81 -76 -108 -79 -108 -108ZM-83 14L-76 14 -68 16 -51 25 -31 33 -9 48 0 50 9 49 14 45 29 32 36 29 43 27 57 27 92 34 108 35 108 108 -108 108 -108 18 -83 14Z"/><path fill="#70ff8f" d="M-108 -108L108 -108 108 -89 92 -97 76 -102 58 -104 36 -103 14 -101 -4 -97 -22 -91 -41 -80 -47 -78 -54 -78 -85 -83 -108 -86 -108 -108ZM-86 18L-76 18 -67 20 -52 27 -32 34 -11 49 -5 52 0 53 5 52 11 50 31 34 38 31 45 29 59 30 92 39 108 42 108 108 -108 108 -108 23 -86 18Z"/><path fill="#8fff70" d="M-108 -108L35 -108 13 -105 -5 -102 -22 -96 -43 -86 -52 -84 -108 -93 -108 -108ZM64 -108L108 -108 108 -95 88 -103 77 -106 64 -108ZM-88 22L-79 21 -72 22 -38 34 -29 38 -11 51 0 55 5 55 11 53 16 50 31 36 38 33 45 32 52 32 61 34 90 45 108 50 108 108 -108 108 -108 27 -88 22Z"/><path fill="#afff50" d="M-108 -108L0 -108 -19 -103 -43 -93 -52 -91 -63 -92 -108 -99 -108 -108ZM88 -108L108 -108 108 -100 88 -108ZM-90 25L-81 24 -72 25 -38 36 -29 41 -11 54 -4 57 2 58 9 57 14 54 30 40 38 35 49 34 61 38 86 51 108 59 108 108 -108 108 -108 32 -90 25Z"/><path fill="#cfff30" d="M-108 -108L-19 -108 -43 -100 -54 -98 -67 -99 -108 -106 -108 -108ZM101 -108L108 -108 108 -105 101 -108ZM-89 29L-81 28 -72 29 -38 38 -31 42 -11 56 -4 59 2 61 9 60 16 57 31 42 36 38 45 37 56 39 64 43 85 57 108 70 108 108 -108 108 -108 37 -89 29Z"/><path fill="#efff10" d="M-83 -108L-37 -108 -47 -106 -56 -105 -83 -108ZM-88 32L-81 31 -72 32 -38 40 -31 43 -11 59 -4 62 4 64 11 63 18 60 31 45 36 41 43 40 52 41 61 47 74 58 108 84 108 108 -108 108 -108 42 -97 36 -88 32Z"/><path fill="#ffef00" d="M-85 36L-70 36 -39 41 -32 45 -20 55 -11 62 -2 66 5 67 13 67 20 64 24 59 36 45 41 43 49 44 54 47 60 52 89 83 99 95 106 108 -108 108 -108 48 -95 40 -85 36Z"/><path fill="#ffcf00" d="M-81 40L-65 40 -40 44 -34 46 -20 58 -9 66 0 70 9 72 16 71 23 68 38 49 41 48 47 49 56 56 75 81 83 95 88 108 -108 108 -108 55 -95 45 -88 42 -81 40Z"/><path fill="#ffaf00" d="M-75 43L-56 44 -40 46 -35 49 -20 61 -7 70 4 75 14 78 22 78 27 76 31 72 40 60 41 59 45 59 51 65 61 81 68 95 72 108 -108 108 -108 64 -101 56 -92 49 -84 45 -75 43Z"/><path fill="#ff8f00" d="M-67 47L-50 47 -40 49 -14 69 4 80 22 87 38 90 43 92 47 95 50 99 54 108 -108 108 -108 78 -102 67 -95 58 -87 52 -79 49 -67 47Z"/><path fill="#ff7000" d="M-73 52L-54 50 -45 51 -40 53 0 84 25 101 32 108 -102 108 -104 99 -104 90 -102 81 -99 73 -94 65 -88 59 -81 55 -73 52Z"/><path fill="#ff5000" d="M-65 56L-56 55 -49 55 -43 56 -38 59 -13 77 7 97 16 108 -95 108 -97 99 -97 90 -95 81 -91 74 -86 67 -81 62 -74 58 -65 56Z"/><path fill="#ff3000" d="M-62 61L-54 60 -45 61 -38 64 -23 73 -16 79 -10 86 0 99 5 108 -87 108 -89 99 -89 92 -88 85 -85 77 -81 72 -76 67 -68 63 -62 61Z"/><path fill="#ff1000" d="M-60 68L-52 67 -45 69 -31 74 -24 77 -19 83 -14 90 -9 99 -5 108 -78 108 -80 95 -79 88 -77 83 -74 78 -70 74 -65 70 -60 68Z"/><path fill="#ef0000" d="M-55 79L-32 80 -27 82 -23 86 -19 94 -16 101 -15 108 -66 108 -68 99 -67 90 -62 83 -55 79Z"/><path fill="#cf0000" d="M-40 94L-34 93 -31 97 -30 103 -33 108 -44 108 -47 104 -48 101 -46 97 -40 94Z"/><path fill="none" stroke="#111" stroke-width="1.4" vector-effect="non-scaling-stroke" d="M-2 -42L-29 -22 -34 -16 -36 -11 -35 -5 -32 0 -29 4 -20 9 -13 13 -5 15 0 15 6 13 25 2 41 -3 44 -5 45 -11 43 -14 16 -36 7 -42 2 -43 -2 -42M-2 -56L-11 -52 -27 -37 -43 -28 -48 -23 -49 -20 -49 -14 -47 0 -43 6 -36 12 -9 26 -4 28 2 28 7 25 20 17 29 13 49 7 59 4 68 -2 73 -7 76 -13 76 -20 74 -40 72 -45 70 -47 65 -48 49 -42 40 -42 34 -44 23 -52 16 -55 7 -57 -2 -56M108 -48L103 -58 95 -66 87 -72 77 -76 63 -78 38 -75 9 -75 -4 -73 -14 -67 -22 -62 -38 -46 -45 -44 -63 -41 -68 -40 -72 -36 -74 -29 -73 -23 -71 -20 -62 -7 -57 5 -50 14 -43 20 -27 27 -9 38 -2 40 2 40 7 38 24 25 36 20 47 17 90 12 101 8 108 2M-108 -8L-97 -4 -92 -3 -88 -5 -86 -11 -88 -16 -92 -20 -101 -25 -108 -27M108 -84L95 -91 81 -96 67 -99 50 -99 20 -97 -2 -93 -20 -86 -40 -75 -49 -72 -58 -73 -85 -77 -108 -79M-108 19L-83 15 -76 15 -70 16 -50 26 -31 34 -9 48 0 51 5 50 9 49 29 32 36 29 43 27 58 27 92 34 108 35M-17 -108L-41 -99 -52 -97 -65 -98 -108 -105M108 -104L100 -108M-108 36L-96 31 -86 28 -79 28 -70 29 -36 38 -31 41 -11 56 -4 59 4 60 11 59 16 57 29 43 34 39 41 37 49 37 61 41 81 55 108 69M-108 65L-100 56 -91 49 -81 45 -70 43 -50 44 -39 47 -9 69 2 75 13 78 22 78 27 77 32 73 40 62 41 61 45 61 50 65 61 84 68 97 71 108M-88 108L-90 99 -89 90 -87 81 -83 74 -77 68 -70 63 -63 61 -54 60 -47 60 -41 62 -20 76 -7 90 6 108"/></g>
<use href="#el"/>
<circle r="100" fill="none" stroke="#000" stroke-width="2.9" vector-effect="non-scaling-stroke"/>
</g>
<g transform="translate(366.5 907.0) scale(0.5450 0.5500)">
<use href="#ears"/>
<g clip-path="url(#hc)"><circle r="104" fill="#00008f"/><path fill="#0000af" d="M-108 -108L108 -108 108 108 -108 108 -108 -108Z"/><path fill="#0000cf" d="M-108 -108L108 -108 108 108 -108 108 -108 -108Z"/><path fill="#0000ef" d="M-108 -108L108 -108 108 108 -108 108 -108 -108Z"/><path fill="#0010ff" d="M-108 -108L108 -108 108 108 -108 108 -108 -108Z"/><path fill="#0030ff" d="M-108 -108L38 -108 41 -104 47 -103 54 -104 66 -108 108 -108 108 108 -108 108 -108 -108Z"/><path fill="#0050ff" d="M-108 -108L30 -108 32 -99 34 -95 36 -94 40 -93 49 -95 81 -108 108 -108 108 108 -108 108 -108 -108Z"/><path fill="#0070ff" d="M-108 -108L26 -108 27 -95 29 -88 31 -86 34 -85 46 -88 74 -100 96 -108 108 -108 108 108 -108 108 -108 -108Z"/><path fill="#008fff" d="M-108 -108L22 -108 25 -86 27 -83 32 -81 43 -83 77 -96 108 -107 108 108 19 108 22 104 24 99 23 95 22 92 18 88 13 86 0 84 -14 86 -30 92 -47 101 -52 104 -55 108 -108 108 -108 -108Z"/><path fill="#00afff" d="M-108 -108L19 -108 21 -90 23 -83 27 -79 34 -78 45 -80 79 -92 108 -101 108 108 35 108 38 101 40 95 39 90 37 86 33 83 27 79 11 75 2 74 -5 75 -40 83 -52 85 -63 84 -94 79 -108 75 -108 -108Z"/><path fill="#00cfff" d="M-108 -108L16 -108 18 -92 21 -83 26 -77 29 -76 34 -75 47 -77 77 -87 108 -96 108 108 46 108 51 101 54 94 54 86 52 82 49 79 42 76 14 68 5 66 -2 66 -32 74 -47 75 -58 73 -77 66 -97 63 -108 61 -108 -108Z"/><path fill="#00efff" d="M-108 -108L13 -108 16 -90 19 -81 25 -75 34 -72 47 -74 79 -84 108 -91 108 108 57 108 68 92 75 74 79 61 78 58 76 57 61 64 50 66 36 66 9 59 0 58 -7 59 -29 66 -41 68 -54 65 -72 54 -95 53 -108 50 -108 -108Z"/><path fill="#10ffef" d="M-108 -108L11 -108 14 -88 18 -79 21 -76 25 -73 34 -70 47 -71 79 -80 108 -85 108 108 66 108 77 94 87 79 94 67 98 56 99 45 98 36 95 30 90 26 85 27 81 29 63 49 56 55 49 58 41 59 29 58 5 50 -2 49 -9 51 -27 59 -34 61 -40 61 -45 60 -50 58 -63 48 -68 45 -74 44 -94 45 -108 41 -108 -108Z"/><path fill="#30ffcf" d="M-108 -108L8 -108 12 -88 16 -79 20 -74 23 -71 29 -69 34 -68 47 -68 79 -76 108 -80 108 27 104 20 99 15 92 13 85 14 79 17 74 21 60 40 53 47 45 52 38 53 27 51 5 42 -2 40 -7 41 -13 43 -29 53 -38 54 -44 52 -50 47 -53 40 -54 32 -79 37 -88 37 -99 36 -108 32 -108 -108ZM-47 19L-52 25 -53 31 -52 31 -43 29 -38 25 -38 22 -40 19 -43 18 -47 19ZM108 54L108 108 75 108 86 94 96 79 103 67 108 54Z"/><path fill="#50ffaf" d="M-108 -108L6 -108 11 -86 15 -77 22 -70 27 -67 32 -66 47 -66 79 -72 108 -74 108 9 101 5 94 3 86 4 77 8 72 11 67 16 57 32 50 40 43 45 38 47 29 45 7 35 -14 29 -18 26 -27 16 -32 13 -38 12 -45 12 -50 13 -71 25 -83 29 -94 29 -104 25 -108 22 -108 -108ZM-36 40L-33 40 -32 41 -34 45 -36 46 -38 45 -39 43 -39 41 -36 40ZM108 72L108 108 83 108 97 89 108 72Z"/><path fill="#70ff8f" d="M-107 -108L4 -108 9 -86 13 -77 18 -70 27 -65 34 -63 43 -63 79 -68 108 -68 108 -2 99 -4 90 -4 81 -2 68 4 59 11 52 25 47 32 41 37 36 38 29 37 13 28 0 23 -13 11 -27 7 -38 6 -50 7 -59 11 -77 19 -85 21 -92 20 -101 17 -108 13 -108 -105 -107 -108ZM107 85L108 83 108 108 90 108 107 85Z"/><path fill="#8fff70" d="M-103 -106L-103 -108 2 -108 7 -86 11 -77 17 -68 25 -63 32 -61 41 -60 52 -60 79 -64 92 -63 108 -61 108 -12 99 -12 86 -10 50 2 47 4 45 7 43 20 40 23 36 25 32 24 27 21 16 13 4 2 -2 0 -34 0 -49 2 -83 11 -90 11 -97 9 -108 2 -108 -96 -103 -106ZM107 94L108 92 108 108 96 108 107 94Z"/><path fill="#afff50" d="M-99 -106L-98 -108 -1 -108 6 -85 9 -76 16 -67 23 -62 32 -59 43 -57 54 -57 72 -59 83 -59 96 -56 108 -51 108 -23 67 -11 44 -5 29 0 22 0 5 -6 -4 -7 -50 -3 -79 3 -86 3 -95 1 -103 -3 -108 -9 -108 -78 -104 -94 -99 -106ZM108 101L108 108 102 108 108 101Z"/><path fill="#cfff30" d="M-94 -108L-3 -108 7 -76 12 -68 18 -62 25 -58 36 -55 52 -54 74 -55 84 -52 92 -49 97 -43 99 -38 99 -34 97 -31 93 -27 85 -23 63 -16 31 -9 22 -8 4 -12 -4 -12 -50 -9 -77 -4 -85 -4 -92 -6 -98 -9 -103 -14 -106 -20 -108 -25 -108 -41 -105 -59 -102 -85 -99 -97 -94 -108ZM107 108L108 107 107 108Z"/><path fill="#efff10" d="M-91 -106L-90 -108 -5 -108 5 -76 10 -67 16 -61 23 -56 32 -53 52 -49 70 -48 75 -47 82 -41 83 -38 82 -34 77 -30 67 -25 47 -19 31 -15 20 -15 -4 -17 -54 -15 -79 -11 -90 -13 -95 -17 -99 -22 -101 -27 -101 -32 -97 -56 -97 -77 -96 -88 -94 -97 -91 -106Z"/><path fill="#ffef00" d="M-85 -108L-8 -108 3 -76 7 -68 11 -63 16 -57 23 -53 43 -47 55 -41 59 -38 58 -34 52 -29 45 -25 36 -22 25 -21 -23 -20 -59 -22 -79 -19 -86 -21 -91 -25 -92 -31 -91 -36 -85 -47 -84 -50 -90 -70 -92 -81 -90 -95 -85 -108Z"/><path fill="#ffcf00" d="M-81 -108L-10 -108 -6 -97 1 -74 7 -63 14 -55 22 -49 39 -41 41 -38 40 -34 34 -30 23 -27 11 -25 -13 -24 -27 -25 -41 -27 -53 -31 -61 -34 -65 -38 -70 -52 -81 -65 -86 -76 -87 -83 -87 -92 -84 -101 -81 -108Z"/><path fill="#ffaf00" d="M-78 -106L-77 -108 -13 -108 -8 -97 1 -68 7 -59 22 -41 22 -38 22 -36 17 -32 9 -30 -2 -28 -14 -28 -34 -32 -45 -36 -53 -40 -58 -45 -75 -67 -80 -76 -82 -83 -82 -90 -81 -99 -78 -106Z"/><path fill="#ff8f00" d="M-73 -106L-72 -108 -15 -108 -9 -95 0 -67 12 -45 13 -41 11 -38 6 -34 0 -33 -9 -32 -18 -33 -34 -38 -45 -42 -52 -47 -69 -67 -74 -74 -76 -79 -78 -86 -77 -94 -76 -101 -73 -106Z"/><path fill="#ff7000" d="M-67 -108L-18 -108 -11 -95 -3 -67 6 -47 6 -43 4 -40 0 -37 -5 -36 -22 -38 -43 -47 -54 -55 -67 -70 -71 -77 -72 -83 -73 -88 -73 -95 -70 -103 -67 -108Z"/><path fill="#ff5000" d="M-63 -106L-62 -108 -21 -108 -16 -101 -12 -90 -6 -65 -1 -49 -1 -45 -2 -43 -5 -42 -11 -42 -25 -45 -43 -52 -54 -61 -64 -74 -68 -85 -68 -95 -67 -101 -63 -106Z"/><path fill="#ff3000" d="M-58 -106L-56 -108 -25 -108 -22 -104 -16 -95 -12 -83 -9 -58 -9 -54 -12 -50 -16 -49 -22 -49 -36 -54 -47 -60 -56 -68 -62 -79 -65 -88 -63 -97 -58 -106Z"/><path fill="#ff1000" d="M-52 -106L-48 -108 -31 -108 -25 -104 -21 -99 -16 -88 -14 -76 -14 -63 -16 -59 -18 -57 -22 -56 -27 -56 -38 -59 -47 -65 -55 -74 -59 -83 -60 -92 -58 -99 -52 -106Z"/><path fill="#ef0000" d="M-46 -104L-40 -106 -32 -105 -26 -101 -21 -95 -18 -86 -17 -77 -18 -68 -22 -63 -25 -61 -29 -61 -38 -64 -45 -68 -52 -77 -55 -85 -55 -94 -52 -99 -46 -104Z"/><path fill="#cf0000" d="M-43 -101L-36 -102 -31 -100 -27 -97 -23 -92 -20 -85 -20 -77 -22 -72 -25 -68 -31 -67 -38 -69 -43 -72 -48 -79 -51 -86 -50 -92 -48 -97 -43 -101Z"/><path fill="#af0000" d="M-41 -95L-36 -97 -32 -96 -29 -94 -27 -92 -25 -88 -23 -83 -25 -77 -27 -74 -31 -73 -34 -73 -39 -76 -43 -79 -45 -85 -45 -88 -44 -92 -41 -95Z"/><path fill="#8f0000" d="M-36 -88L-34 -89 -31 -87 -30 -85 -31 -82 -33 -81 -36 -83 -37 -86 -36 -88Z"/><path fill="none" stroke="#111" stroke-width="1.4" vector-effect="non-scaling-stroke" d="M33 -108L36 -99 38 -98 41 -97 52 -99 75 -108M17 -108L19 -90 22 -83 25 -79 32 -76 45 -78 77 -89 108 -98M42 108L46 101 48 95 48 90 47 86 44 83 40 79 23 73 9 70 -2 69 -34 77 -49 78 -59 77 -79 71 -99 68 -108 66M7 -108L11 -88 15 -79 20 -72 29 -68 36 -66 45 -66 79 -73 108 -76M108 14L103 10 95 7 88 7 81 9 76 13 70 17 57 36 51 43 45 47 38 49 27 47 4 37 -7 35 -13 35 -18 37 -31 49 -36 50 -40 49 -44 45 -44 40 -41 36 -31 30 -28 25 -29 22 -31 18 -34 16 -40 14 -49 15 -67 27 -81 32 -86 33 -94 32 -101 30 -108 26M80 108L97 85 108 66M-2 -108L7 -77 11 -70 18 -63 27 -58 36 -56 52 -55 76 -56 83 -55 92 -52 101 -47 105 -43 107 -40 107 -34 102 -29 94 -23 85 -20 61 -13 27 -5 20 -6 4 -10 -5 -10 -40 -7 -56 -6 -76 -2 -85 -2 -92 -3 -99 -6 -104 -11 -108 -17M-108 -56L-103 -88 -100 -99 -96 -108M105 108L108 105M-12 -108L-7 -97 0 -74 4 -65 13 -54 27 -41 30 -38 29 -36 25 -33 16 -29 5 -27 -11 -27 -25 -28 -41 -31 -52 -36 -59 -41 -68 -56 -79 -68 -83 -77 -84 -85 -84 -94 -82 -101 -78 -108M-24 -108L-18 -101 -14 -92 -11 -81 -7 -56 -6 -50 -7 -48 -9 -47 -14 -46 -27 -48 -41 -54 -50 -61 -59 -70 -65 -81 -66 -90 -65 -99 -59 -108M-37 -99L-32 -98 -28 -95 -25 -92 -23 -86 -22 -81 -23 -76 -25 -72 -29 -70 -34 -71 -40 -73 -44 -77 -47 -83 -48 -88 -46 -94 -43 -97 -37 -99"/></g>
<use href="#el"/>
<circle r="100" fill="none" stroke="#000" stroke-width="2.9" vector-effect="non-scaling-stroke"/>
</g>
<g transform="translate(1140.4 911.5) scale(0.5600 0.5600)">
<use href="#ears"/>
<g clip-path="url(#hc)"><circle r="104" fill="#00008f"/><path fill="#0000af" d="M-108 -108L108 -108 108 108 -108 108 -108 -108Z"/><path fill="#0000cf" d="M-108 -108L108 -108 108 108 -108 108 -108 -108Z"/><path fill="#0000ef" d="M-108 -108L108 -108 108 108 -108 108 -108 -108Z"/><path fill="#0010ff" d="M-108 -108L108 -108 108 108 -108 108 -108 -108Z"/><path fill="#0030ff" d="M-108 -108L108 -108 108 108 -108 108 -108 -108Z"/><path fill="#0050ff" d="M-108 -108L108 -108 108 108 -108 108 -108 -108Z"/><path fill="#0070ff" d="M-108 -108L108 -108 108 108 -108 108 -108 -108Z"/><path fill="#008fff" d="M-108 -108L108 -108 108 108 -108 108 -108 -108ZM-2 21L-5 24 -7 29 -5 34 -2 37 2 34 5 27 5 23 4 21 0 20 -2 21Z"/><path fill="#00afff" d="M-108 -108L34 -108 30 -101 28 -94 30 -88 32 -86 34 -86 43 -88 50 -94 57 -101 60 -108 108 -108 108 108 -108 108 -108 19 -103 13 -101 9 -101 7 -103 5 -108 4 -108 -108ZM5 9L-4 10 -9 12 -14 16 -17 22 -18 31 -17 38 -13 45 -7 48 0 48 6 45 13 36 17 25 18 18 17 13 13 10 5 9Z"/><path fill="#00cfff" d="M-108 -108L23 -108 21 -97 22 -86 24 -83 27 -80 34 -78 43 -80 54 -85 91 -108 108 -108 108 108 -108 108 -108 48 -104 34 -94 15 -92 9 -94 4 -97 -1 -103 -4 -108 -6 -108 -108ZM11 -5L5 -5 0 -2 -9 -1 -14 0 -21 5 -25 13 -27 27 -26 40 -24 45 -20 50 -16 54 -11 57 -5 58 0 57 5 54 10 50 17 41 37 7 37 4 32 0 23 -4 11 -5Z"/><path fill="#00efff" d="M-108 -108L17 -108 16 -101 16 -94 19 -83 22 -79 25 -76 34 -73 41 -73 49 -75 76 -85 86 -88 97 -90 108 -89 108 108 -85 108 -88 94 -89 63 -93 38 -92 29 -87 16 -86 9 -88 4 -95 -7 -101 -11 -108 -14 -108 -108ZM0 -20L-29 -7 -33 -2 -35 7 -36 34 -35 41 -33 49 -28 56 -22 61 -14 65 -7 67 -2 66 2 65 11 58 31 31 51 11 54 4 54 0 52 -4 45 -8 0 -20Z"/><path fill="#10ffef" d="M-108 -108L11 -108 11 -95 13 -85 19 -76 27 -70 36 -68 45 -68 74 -76 86 -77 98 -76 108 -71 108 108 -62 108 -65 95 -65 83 -62 70 -56 60 -52 59 -49 59 -11 77 -5 78 0 77 5 72 13 65 34 35 41 29 60 16 66 11 70 5 70 0 68 -4 63 -9 50 -16 43 -18 5 -24 -4 -24 -23 -18 -43 -17 -48 -13 -52 -5 -52 0 -48 22 -50 32 -54 42 -56 45 -59 46 -72 41 -77 37 -81 31 -81 27 -77 13 -77 9 -79 4 -89 -11 -92 -14 -99 -19 -108 -21 -108 -108Z"/><path fill="#30ffcf" d="M-108 -108L6 -108 6 -97 8 -86 13 -77 20 -70 27 -65 38 -63 50 -63 76 -67 85 -67 92 -64 99 -59 105 -50 108 -40 106 -30 103 -23 99 -20 94 -17 86 -16 77 -17 49 -24 4 -28 -4 -27 -23 -24 -45 -24 -65 -17 -72 -16 -77 -17 -95 -25 -108 -28 -108 -108ZM78 20L97 18 108 21 108 108 -31 108 -35 101 -36 95 -36 92 -33 88 -31 87 -27 88 -18 93 -13 95 -7 94 0 91 7 84 31 47 38 39 47 32 58 27 68 22 78 20Z"/><path fill="#50ffaf" d="M-108 -108L2 -108 2 -95 6 -83 11 -74 18 -66 27 -60 38 -57 50 -56 70 -58 77 -57 83 -54 86 -50 88 -45 87 -40 83 -34 74 -31 13 -31 -23 -28 -47 -28 -67 -26 -76 -27 -95 -32 -108 -34 -108 -108ZM69 31L79 30 92 31 101 34 108 38 108 108 7 108 10 99 21 76 30 58 38 47 43 42 50 37 59 33 69 31Z"/><path fill="#70ff8f" d="M-108 -108L-3 -108 -2 -97 0 -88 3 -79 7 -72 13 -65 20 -58 27 -53 40 -48 42 -45 42 -43 40 -41 36 -40 25 -39 5 -35 -27 -32 -68 -33 -108 -40 -108 -108ZM72 38L83 39 94 42 101 47 108 54 108 100 104 106 103 108 22 108 22 97 25 83 31 68 38 56 44 49 52 43 61 40 72 38Z"/><path fill="#8fff70" d="M-108 -108L-8 -108 -6 -95 -3 -83 3 -70 16 -52 17 -49 16 -45 11 -41 2 -38 -32 -36 -68 -38 -95 -44 -108 -46 -108 -108ZM62 47L74 45 85 48 94 54 98 59 101 64 103 74 103 86 98 97 90 108 36 108 35 106 33 99 32 90 33 81 37 70 41 62 47 56 54 50 62 47Z"/><path fill="#afff50" d="M-108 -108L-12 -108 -11 -97 -8 -85 -3 -72 7 -54 8 -50 7 -47 4 -43 0 -41 -36 -40 -67 -43 -95 -50 -108 -52 -108 -108ZM62 56L72 54 81 58 85 61 89 67 91 72 91 77 89 88 83 98 74 105 63 107 54 105 48 101 44 94 42 85 43 76 47 68 54 60 62 56Z"/><path fill="#cfff30" d="M-108 -108L-18 -108 -16 -97 -12 -83 -1 -56 -1 -52 -2 -49 -7 -46 -38 -44 -67 -49 -94 -56 -108 -58 -108 -108ZM62 72L65 71 68 72 72 76 72 81 70 84 67 86 61 86 59 85 57 81 58 76 62 72Z"/><path fill="#efff10" d="M-108 -108L-23 -108 -21 -95 -13 -65 -12 -59 -13 -56 -16 -53 -22 -51 -38 -50 -67 -55 -94 -62 -108 -64 -108 -108Z"/><path fill="#ffef00" d="M-108 -108L-29 -108 -22 -76 -22 -68 -24 -63 -27 -60 -31 -58 -41 -57 -59 -60 -92 -68 -108 -70 -108 -108Z"/><path fill="#ffcf00" d="M-108 -108L-36 -108 -32 -83 -33 -74 -38 -69 -47 -67 -58 -69 -90 -75 -108 -77 -108 -108Z"/><path fill="#ffaf00" d="M-108 -108L-45 -108 -47 -90 -48 -86 -50 -84 -58 -81 -67 -81 -94 -84 -108 -84 -108 -108Z"/><path fill="#ff8f00" d="M-108 -108L-57 -108 -59 -103 -63 -99 -70 -95 -79 -93 -108 -91 -108 -108Z"/><path fill="#ff7000" d="M-108 -108L-75 -108 -86 -103 -108 -99 -108 -108Z"/><path fill="#ff5000" d="M-108 -108L-103 -108 -108 -107 -108 -108Z"/><path fill="none" stroke="#111" stroke-width="1.4" vector-effect="non-scaling-stroke" d="M38 -108L34 -103 31 -95 32 -90 36 -89 43 -92 50 -97 53 -103 54 -108M-5 12L-11 15 -14 20 -16 25 -16 32 -15 38 -12 43 -7 46 -2 47 4 45 9 39 14 29 16 20 14 15 11 12 4 11 -5 12M-108 13L-107 11 -108 9M22 -108L19 -95 20 -90 21 -85 26 -79 34 -77 41 -78 50 -81 90 -101 108 -108M-2 -10L-16 -3 -22 2 -27 11 -29 23 -29 36 -25 47 -22 52 -17 56 -13 58 -7 60 2 58 11 51 29 25 40 11 43 4 41 0 34 -4 5 -10 2 -11 -2 -10M-108 78L-102 40 -99 29 -92 14 -91 9 -92 4 -97 -2 -103 -6 -108 -8M-106 108L-108 99M13 -108L12 -95 15 -85 20 -77 23 -74 29 -71 36 -70 45 -70 74 -78 86 -80 97 -80 108 -77M-5 -22L-20 -17 -40 -13 -44 -9 -45 -4 -43 20 -45 41 -44 47 -42 52 -36 59 -29 65 -16 72 -7 74 0 73 9 66 16 57 33 34 60 11 64 5 64 2 62 -4 59 -7 54 -11 47 -14 4 -23 0 -23 -5 -22M-69 108L-72 99 -73 88 -70 63 -70 56 -72 52 -83 40 -86 31 -85 25 -81 14 -81 7 -90 -7 -94 -12 -100 -16 -108 -19M6 -108L6 -95 9 -83 15 -74 23 -67 32 -63 43 -62 52 -63 72 -66 81 -66 90 -63 97 -59 103 -50 106 -40 105 -34 103 -29 97 -22 90 -18 81 -18 49 -25 2 -28 -23 -24 -45 -24 -65 -18 -72 -17 -77 -19 -95 -26 -108 -29M-23 108L-25 103 -25 101 -24 99 -9 98 -2 94 4 90 9 83 33 45 38 40 45 34 61 26 76 22 95 20 103 21 108 23M-2 -108L-1 -97 1 -86 5 -77 10 -70 18 -62 25 -56 43 -50 50 -47 51 -45 51 -43 49 -41 43 -38 38 -37 -27 -31 -70 -31 -108 -39M108 105L106 108M18 108L19 101 20 92 26 74 37 54 42 49 47 44 61 38 70 36 77 36 86 37 95 40 103 44 108 49M-12 -108L-10 -95 -6 -81 -2 -72 9 -52 9 -47 4 -42 -4 -40 -40 -39 -68 -43 -95 -49 -108 -51M53 108L46 103 42 95 40 86 42 76 46 67 52 59 61 54 70 52 79 54 87 59 92 68 94 77 93 86 88 96 81 103 73 108M-22 -108L-20 -95 -11 -61 -11 -56 -14 -53 -27 -50 -40 -49 -68 -55 -94 -61 -108 -63"/></g>
<use href="#el"/>
<circle r="100" fill="none" stroke="#000" stroke-width="2.9" vector-effect="non-scaling-stroke"/>
</g>
<g transform="translate(594.0 907.0) scale(0.5450 0.5500)">
<use href="#ears"/>
<g clip-path="url(#hc)"><circle r="104" fill="#00008f"/><path fill="#0000af" d="M-108 -108L108 -108 108 108 -108 108 -108 -108Z"/><path fill="#0000cf" d="M-108 -108L108 -108 108 108 -108 108 -108 -108Z"/><path fill="#0000ef" d="M-108 -108L108 -108 108 108 -108 108 -108 -108Z"/><path fill="#0010ff" d="M-108 -108L108 -108 108 108 -108 108 -108 -108Z"/><path fill="#0030ff" d="M-108 -108L108 -108 108 108 -108 108 -108 -108Z"/><path fill="#0050ff" d="M-108 -108L108 -108 108 108 -108 108 -108 -108Z"/><path fill="#0070ff" d="M-108 -108L108 -108 108 108 -108 108 -108 -108Z"/><path fill="#008fff" d="M-108 -108L108 -108 108 108 -108 108 -108 -108Z"/><path fill="#00afff" d="M-108 -108L108 -108 108 108 -108 108 -108 -108Z"/><path fill="#00cfff" d="M-108 -108L33 -108 32 -101 33 -95 36 -92 41 -91 52 -93 61 -97 68 -103 72 -108 108 -108 108 108 -108 108 -108 -108Z"/><path fill="#00efff" d="M-108 -108L26 -108 26 -97 27 -90 31 -86 38 -84 53 -86 69 -92 81 -99 87 -108 108 -108 108 108 -108 108 -108 -108Z"/><path fill="#10ffef" d="M-108 -108L21 -108 21 -95 24 -86 27 -83 29 -82 38 -80 61 -83 79 -88 86 -91 92 -96 96 -101 100 -108 108 -108 108 108 -108 108 -108 -108Z"/><path fill="#30ffcf" d="M-108 -108L17 -108 18 -94 22 -84 27 -79 38 -77 67 -78 85 -82 92 -85 98 -88 104 -94 108 -99 108 108 -108 108 -108 -108Z"/><path fill="#50ffaf" d="M-108 -108L13 -108 15 -94 19 -83 25 -77 34 -74 65 -74 85 -75 97 -78 108 -83 108 108 -101 108 -108 103 -108 -108Z"/><path fill="#70ff8f" d="M-108 -108L9 -108 12 -94 15 -85 20 -77 27 -73 38 -71 85 -68 97 -69 108 -72 108 108 -94 108 -108 99 -108 -108Z"/><path fill="#8fff70" d="M-108 -108L6 -108 9 -94 13 -83 18 -76 25 -71 34 -69 59 -66 88 -61 99 -61 108 -62 108 108 -87 108 -97 102 -108 94 -108 -108Z"/><path fill="#afff50" d="M-108 -108L3 -108 6 -94 10 -83 15 -76 22 -70 31 -67 63 -62 94 -53 108 -52 108 108 -77 108 -94 99 -108 88 -108 -108Z"/><path fill="#cfff30" d="M-108 -108L-1 -108 4 -92 8 -81 13 -74 20 -68 29 -65 58 -59 94 -46 108 -43 108 108 -66 108 -77 103 -88 98 -99 91 -108 83 -108 -59 -105 -65 -105 -72 -108 -95 -108 -108Z"/><path fill="#efff10" d="M-101 -108L-4 -108 5 -81 11 -72 16 -67 25 -63 47 -59 58 -56 70 -50 94 -37 108 -33 108 107 104 108 -46 108 -63 104 -79 98 -95 88 -108 77 -108 -45 -93 -56 -91 -59 -90 -63 -92 -70 -98 -94 -101 -108Z"/><path fill="#ffef00" d="M-92 -108L-7 -108 4 -78 9 -70 14 -65 23 -61 45 -57 56 -53 67 -47 90 -30 99 -26 108 -24 108 100 88 103 70 105 54 104 22 101 14 102 -2 105 -47 103 -63 100 -79 93 -94 84 -106 73 -108 71 -108 -35 -82 -50 -79 -54 -78 -58 -79 -65 -89 -90 -92 -108Z"/><path fill="#ffcf00" d="M-84 -108L-11 -108 1 -77 5 -70 11 -65 22 -59 41 -55 53 -50 65 -43 86 -24 95 -19 108 -14 108 92 83 97 58 99 43 98 16 93 0 89 -5 94 -14 97 -31 99 -47 98 -63 95 -77 89 -90 81 -103 70 -108 64 -108 -27 -99 -33 -77 -45 -72 -50 -71 -54 -72 -63 -82 -92 -84 -108Z"/><path fill="#ffaf00" d="M-76 -106L-76 -108 -15 -108 0 -74 4 -68 9 -62 18 -57 40 -53 50 -48 62 -40 85 -18 95 -11 108 -4 108 83 95 87 83 90 68 92 56 93 41 92 20 88 0 82 -4 83 -14 90 -22 92 -34 94 -45 94 -59 91 -73 86 -86 78 -98 68 -108 56 -108 -19 -98 -27 -74 -41 -69 -45 -66 -50 -65 -56 -66 -61 -74 -90 -76 -106Z"/><path fill="#ff8f00" d="M-67 -108L-20 -108 -13 -96 -2 -71 5 -61 11 -57 16 -54 38 -50 49 -45 57 -38 79 -14 92 -4 108 6 108 72 88 81 77 85 65 87 52 88 40 87 18 84 0 79 -5 80 -22 87 -32 89 -43 90 -58 87 -70 83 -83 75 -95 65 -102 56 -108 47 -108 -10 -103 -16 -97 -20 -72 -36 -67 -41 -63 -47 -61 -52 -61 -59 -68 -90 -68 -99 -67 -108Z"/><path fill="#ff7000" d="M-58 -108L-25 -108 -16 -96 -4 -68 -1 -63 4 -57 9 -53 14 -51 22 -49 36 -48 45 -43 51 -38 72 -13 105 16 108 20 108 58 105 61 96 68 86 74 74 79 61 81 49 83 36 82 18 81 0 77 -5 78 -22 83 -40 86 -54 84 -67 79 -79 72 -90 63 -101 49 -108 33 -108 3 -104 -5 -99 -12 -91 -18 -70 -31 -64 -38 -59 -45 -57 -52 -57 -59 -61 -83 -62 -92 -61 -101 -58 -108Z"/><path fill="#ff5000" d="M-47 -106L-42 -108 -36 -108 -31 -105 -25 -101 -20 -95 -16 -90 -7 -65 1 -54 5 -50 13 -47 20 -45 34 -44 41 -41 46 -36 62 -14 94 18 98 23 101 31 102 41 101 47 98 52 94 58 88 63 80 68 70 73 50 78 38 79 22 78 0 74 -5 75 -22 80 -40 82 -54 79 -67 74 -80 65 -90 54 -98 43 -103 31 -104 18 -103 7 -100 0 -95 -7 -89 -13 -67 -28 -60 -34 -56 -41 -53 -49 -52 -56 -56 -81 -56 -92 -53 -101 -47 -106Z"/><path fill="#ff3000" d="M-43 -99L-38 -100 -32 -100 -27 -97 -22 -92 -17 -83 -9 -59 -5 -53 0 -47 5 -43 11 -41 31 -39 36 -37 40 -32 47 -22 52 -14 75 7 84 18 90 29 91 36 91 41 89 47 85 52 76 61 68 66 60 70 41 75 22 76 0 72 -5 73 -22 77 -38 78 -52 75 -65 69 -76 61 -86 50 -93 40 -97 29 -98 18 -96 7 -94 2 -90 -4 -65 -22 -57 -31 -51 -40 -48 -47 -47 -54 -50 -79 -50 -86 -48 -94 -43 -99Z"/><path fill="#ff1000" d="M-39 -92L-34 -93 -31 -92 -27 -91 -23 -86 -20 -79 -17 -63 -14 -54 -9 -44 -2 -36 2 -33 7 -31 25 -29 31 -26 44 -11 65 6 75 18 81 29 81 34 81 40 79 45 75 50 71 56 64 61 50 68 32 73 20 73 0 70 -22 74 -36 74 -49 71 -62 65 -73 56 -82 45 -87 36 -90 27 -90 18 -89 9 -86 4 -83 0 -67 -12 -60 -18 -44 -40 -41 -47 -40 -54 -44 -76 -44 -83 -42 -88 -39 -92Z"/><path fill="#ef0000" d="M-34 -83L-31 -84 -27 -83 -26 -81 -26 -74 -27 -69 -29 -67 -31 -67 -32 -68 -35 -74 -36 -79 -34 -83ZM-31 -40L-27 -41 -22 -38 -17 -31 -9 -15 -5 -11 -2 -8 4 -7 20 -11 27 -10 34 -7 52 4 61 11 69 22 71 27 72 32 72 38 70 43 67 49 62 54 55 59 47 64 31 70 20 71 0 67 -5 68 -18 71 -25 72 -36 71 -47 67 -57 61 -66 54 -74 43 -80 32 -82 22 -80 13 -74 5 -56 -9 -45 -26 -31 -40Z"/><path fill="#cf0000" d="M-32 -5L-25 -5 -11 2 -4 4 4 4 18 2 25 1 34 3 47 8 57 16 62 25 63 34 61 43 55 50 45 59 36 65 27 68 18 68 0 64 -5 65 -18 69 -25 69 -32 68 -41 65 -54 56 -64 45 -69 34 -71 23 -68 16 -63 10 -56 6 -43 2 -32 -5Z"/><path fill="#af0000" d="M-37 11L-25 10 -7 12 2 12 27 10 38 12 47 16 52 22 54 29 54 36 51 43 40 56 34 61 27 65 18 65 5 61 0 60 -5 61 -20 66 -29 65 -38 61 -48 52 -55 41 -58 32 -58 25 -54 19 -48 14 -37 11Z"/><path fill="#8f0000" d="M-34 22L-25 21 -7 22 25 20 32 20 38 22 41 23 43 27 43 31 41 36 35 52 31 58 26 61 22 63 18 62 5 56 0 55 -4 55 -16 62 -22 63 -28 61 -35 56 -39 50 -43 40 -45 32 -43 27 -40 24 -34 22Z"/><path fill="none" stroke="#111" stroke-width="1.4" vector-effect="non-scaling-stroke" d="M37 -108L36 -103 37 -99 40 -96 43 -96 50 -97 56 -99 61 -103 65 -108M14 -108L16 -94 19 -85 23 -79 32 -76 52 -75 83 -77 97 -81 108 -89M-104 108L-108 105M1 -108L5 -92 8 -83 13 -76 20 -69 29 -66 61 -60 95 -48 108 -47M-71 108L-90 99 -108 85M-13 -108L0 -76 5 -68 10 -63 20 -58 41 -53 53 -49 63 -41 85 -21 95 -14 108 -8M-108 -22L-97 -30 -76 -42 -70 -47 -68 -50 -67 -56 -68 -61 -77 -90 -79 -108M108 86L95 90 81 93 56 95 41 94 20 90 0 84 -3 85 -13 91 -20 94 -34 96 -49 95 -65 92 -81 84 -95 73 -108 60M-43 -103L-38 -103 -32 -102 -27 -99 -22 -94 -16 -85 -8 -61 -5 -56 0 -50 5 -46 13 -43 32 -41 38 -39 43 -34 51 -22 56 -14 79 7 88 18 94 29 95 36 95 41 93 47 90 52 86 58 79 63 63 72 45 76 22 77 0 73 -5 74 -22 78 -40 79 -54 76 -67 70 -79 61 -89 50 -95 40 -99 29 -101 18 -99 7 -96 0 -92 -5 -65 -25 -58 -33 -52 -41 -50 -49 -49 -56 -52 -79 -52 -89 -49 -97 -47 -100 -43 -103M-33 5L-25 5 -7 9 0 9 27 7 40 9 49 14 55 22 58 31 57 40 52 47 42 58 34 63 27 66 18 67 5 63 0 62 -5 63 -22 67 -27 67 -34 65 -44 59 -54 50 -61 40 -64 29 -62 22 -60 18 -56 14 -49 10 -33 5"/></g>
<use href="#el"/>
<circle r="100" fill="none" stroke="#000" stroke-width="2.9" vector-effect="non-scaling-stroke"/>
</g>
<g transform="translate(1371.3 911.5) scale(0.5600 0.5600)">
<use href="#ears"/>
<g clip-path="url(#hc)"><circle r="104" fill="#00008f"/><path fill="#0000af" d="M-108 -108L108 -108 108 108 -108 108 -108 -108Z"/><path fill="#0000cf" d="M-108 -108L108 -108 108 108 -108 108 -108 -108Z"/><path fill="#0000ef" d="M-108 -108L108 -108 108 108 -108 108 -108 -108Z"/><path fill="#0010ff" d="M-108 -108L108 -108 108 108 -108 108 -108 -108Z"/><path fill="#0030ff" d="M-108 -108L108 -108 108 108 -108 108 -108 -108Z"/><path fill="#0050ff" d="M-108 -108L108 -108 108 108 -108 108 -108 -108Z"/><path fill="#0070ff" d="M-108 -108L108 -108 108 108 -108 108 -108 -108Z"/><path fill="#008fff" d="M-108 -108L108 -108 108 108 -108 108 -108 -108Z"/><path fill="#00afff" d="M-108 -108L108 -108 108 108 -108 108 -108 -108Z"/><path fill="#00cfff" d="M-108 -108L108 -108 108 108 -108 108 -108 -108Z"/><path fill="#00efff" d="M-108 -108L-17 -108 -20 -104 -23 -99 -23 -95 -22 -92 -20 -90 -16 -88 -5 -87 18 -90 27 -93 29 -95 29 -99 27 -104 23 -108 108 -108 108 108 -108 108 -108 -108Z"/><path fill="#10ffef" d="M-108 -108L-30 -108 -32 -101 -32 -92 -29 -85 -25 -82 -16 -80 18 -78 59 -69 63 -70 64 -72 65 -77 64 -83 57 -95 46 -108 108 -108 108 108 -108 108 -108 -108Z"/><path fill="#30ffcf" d="M-108 -108L-38 -108 -40 -101 -39 -92 -37 -85 -31 -78 -22 -75 7 -73 22 -69 37 -61 58 -45 67 -43 76 -45 83 -50 87 -58 88 -67 86 -76 81 -86 73 -97 63 -108 108 -108 108 108 -108 108 -108 -108Z"/><path fill="#50ffaf" d="M-108 -108L-45 -108 -46 -99 -45 -90 -41 -82 -35 -76 -31 -73 -23 -70 4 -67 18 -63 25 -59 32 -52 49 -30 56 -25 63 -24 68 -25 74 -27 91 -38 97 -45 101 -56 101 -68 97 -81 88 -95 76 -108 108 -108 108 108 -108 108 -108 -108Z"/><path fill="#70ff8f" d="M-108 -108L-51 -108 -52 -97 -50 -88 -46 -79 -39 -72 -32 -68 -23 -65 6 -61 13 -58 18 -54 23 -49 25 -43 25 -38 24 -32 22 -28 16 -25 0 -24 -5 -22 -6 -20 -7 -16 -5 -14 -2 -12 40 -3 49 -4 81 -8 86 -9 92 -13 101 -21 108 -30 108 108 -102 108 -108 103 -108 11 -99 12 -90 10 -83 6 -80 0 -82 -4 -84 -5 -90 -8 -99 -7 -108 -2 -108 -108ZM88 -108L108 -108 108 -81 99 -95 88 -108Z"/><path fill="#8fff70" d="M-108 -108L-57 -108 -58 -97 -56 -88 -52 -79 -45 -70 -37 -65 -27 -61 -18 -59 -2 -57 4 -55 9 -52 12 -49 14 -43 13 -40 11 -36 5 -33 -20 -27 -40 -29 -47 -27 -51 -23 -54 -18 -54 -14 -50 -11 -43 -9 -27 -7 -11 -2 0 0 7 5 13 7 36 10 45 9 68 4 92 2 99 0 108 -6 108 108 -93 108 -107 97 -108 96 -108 22 -90 16 -80 11 -73 4 -71 -4 -71 -5 -74 -8 -83 -11 -95 -13 -108 -11 -108 -108ZM98 -108L108 -108 108 -97 98 -108Z"/><path fill="#afff50" d="M-108 -108L-63 -108 -64 -97 -62 -86 -58 -77 -50 -68 -41 -60 -22 -51 -16 -50 -5 -50 0 -49 4 -45 3 -41 2 -40 -2 -38 -18 -38 -47 -34 -54 -31 -67 -19 -72 -17 -81 -16 -108 -18 -108 -108ZM-51 -2L-41 -1 -28 4 -18 9 -5 20 0 22 20 18 43 17 67 11 94 9 108 6 108 108 -84 108 -90 104 -101 95 -108 87 -108 32 -98 25 -76 14 -58 0 -51 -2Z"/><path fill="#cfff30" d="M-108 -108L-69 -108 -70 -99 -70 -92 -65 -77 -56 -63 -40 -47 -41 -45 -52 -41 -70 -25 -77 -22 -86 -21 -108 -23 -108 -108ZM-51 7L-43 7 -36 9 -27 15 -11 29 -7 31 -2 32 4 31 18 25 27 23 45 22 76 16 108 15 108 108 -71 108 -83 102 -90 97 -98 90 -104 83 -108 75 -108 43 -102 36 -92 28 -51 7Z"/><path fill="#efff10" d="M-108 -108L-76 -108 -77 -95 -75 -85 -71 -74 -62 -58 -61 -50 -62 -45 -69 -36 -76 -30 -83 -26 -88 -26 -108 -30 -108 -108ZM-53 16L-45 15 -38 18 -32 22 -16 36 -9 40 -4 41 2 40 20 30 31 27 47 26 79 21 90 21 108 23 108 102 99 108 -52 108 -65 104 -76 99 -89 90 -94 85 -99 77 -104 65 -104 58 -103 52 -98 41 -88 32 -79 27 -53 16Z"/><path fill="#ffef00" d="M-108 -108L-82 -108 -84 -95 -83 -85 -80 -74 -73 -58 -72 -52 -73 -47 -76 -41 -80 -36 -85 -33 -92 -33 -108 -38 -108 -108ZM-56 25L-49 24 -41 26 -36 30 -18 46 -13 49 -7 50 2 48 22 35 34 31 83 26 95 28 108 32 108 94 97 102 85 108 5 108 -11 104 -47 102 -58 99 -67 96 -79 89 -90 79 -95 68 -97 61 -96 56 -95 50 -92 45 -85 37 -74 31 -56 25Z"/><path fill="#ffcf00" d="M-108 -108L-89 -108 -92 -97 -92 -86 -88 -56 -90 -51 -94 -48 -99 -48 -108 -49 -108 -108ZM70 32L81 32 90 34 99 38 108 44 108 82 100 90 90 98 77 104 65 107 61 108 35 108 29 107 14 101 -2 91 -7 89 -36 93 -49 93 -59 90 -70 86 -79 79 -85 72 -88 63 -88 54 -83 45 -76 39 -63 34 -52 34 -45 36 -40 40 -20 58 -14 62 -9 63 -5 62 0 60 21 41 30 36 40 34 70 32Z"/><path fill="#ffaf00" d="M-108 -108L-97 -108 -105 -79 -108 -72 -108 -108ZM43 38L70 38 79 39 88 42 95 46 102 54 104 63 102 72 97 81 90 88 81 94 70 98 59 101 49 102 38 101 27 97 20 93 14 86 10 79 9 72 11 65 18 52 27 43 34 39 43 38ZM-69 45L-63 44 -56 44 -50 47 -45 50 -40 58 -36 65 -35 70 -37 76 -43 79 -54 80 -65 77 -73 72 -78 65 -79 59 -79 56 -76 49 -69 45Z"/><path fill="#ff8f00" d="M-108 -108L-106 -108 -108 -103 -108 -108ZM36 43L43 43 68 45 76 46 81 49 87 54 90 59 91 67 88 74 85 79 78 85 72 88 63 91 54 92 45 92 38 91 31 88 27 85 23 79 21 74 21 67 23 59 26 52 31 47 36 43Z"/><path fill="#ff7000" d="M39 52L41 51 47 51 63 54 68 55 72 58 74 61 75 65 74 68 70 74 61 78 52 80 42 77 38 74 35 67 35 58 39 52Z"/><path fill="none" stroke="#111" stroke-width="1.4" vector-effect="non-scaling-stroke" d="M-21 -108L-23 -104 -25 -99 -25 -94 -24 -90 -22 -88 -18 -86 -7 -86 23 -87 29 -88 33 -90 36 -94 36 -97 34 -103 29 -108M-42 -108L-44 -99 -43 -90 -38 -81 -32 -76 -22 -72 5 -69 20 -65 27 -61 34 -56 52 -37 58 -34 65 -32 70 -33 76 -35 86 -42 93 -50 96 -59 95 -70 91 -83 83 -95 71 -108M-55 -108L-56 -97 -54 -88 -50 -79 -43 -71 -36 -66 -27 -62 -18 -60 -2 -59 7 -56 14 -50 17 -43 16 -38 11 -32 -18 -24 -25 -23 -40 -26 -45 -25 -48 -23 -50 -20 -50 -16 -47 -13 -40 -11 -23 -10 -11 -6 2 -3 17 4 38 7 45 6 68 1 90 0 98 -4 108 -11M108 -92L95 -108M-108 19L-92 15 -83 11 -77 5 -75 2 -74 -2 -76 -5 -78 -7 -86 -10 -97 -11 -108 -9M-96 108L-108 98M-67 -108L-68 -99 -67 -92 -64 -83 -61 -76 -50 -62 -43 -56 -33 -50 -30 -47 -30 -45 -31 -43 -34 -41 -47 -39 -52 -37 -68 -23 -76 -20 -86 -19 -108 -21M-108 38L-102 32 -91 25 -74 17 -56 5 -47 3 -40 4 -31 8 -23 13 -9 25 -2 28 4 28 18 23 25 21 43 20 74 14 108 12M-77 108L-86 102 -95 96 -103 88 -108 81M-79 -108L-80 -97 -79 -86 -76 -76 -67 -56 -67 -50 -67 -47 -70 -41 -74 -36 -79 -32 -85 -29 -90 -29 -108 -34M108 98L92 108M-22 108L-47 105 -65 101 -81 92 -92 82 -96 76 -99 68 -100 61 -100 56 -98 49 -95 43 -90 38 -83 32 -58 22 -50 20 -45 20 -41 21 -36 24 -16 42 -9 45 -4 45 4 43 22 32 32 29 83 24 94 25 108 28M-95 -108L-99 -95 -103 -72 -106 -67 -108 -64M35 38L43 37 76 37 85 38 94 42 101 49 106 58 106 67 102 77 97 85 88 92 78 97 67 101 56 103 43 103 31 101 22 97 15 92 10 86 6 77 6 70 10 61 19 49 27 41 35 38M-65 41L-58 41 -52 42 -47 45 -41 50 -34 59 -29 68 -28 74 -31 79 -40 83 -47 84 -54 83 -67 79 -76 73 -79 68 -81 63 -81 54 -79 50 -76 46 -71 43 -65 41M38 45L43 45 67 47 77 51 83 56 86 61 86 67 83 74 79 78 74 83 61 88 47 88 40 87 34 85 29 81 27 77 25 72 25 67 27 59 29 54 32 49 38 45"/></g>
<use href="#el"/>
<circle r="100" fill="none" stroke="#000" stroke-width="2.9" vector-effect="non-scaling-stroke"/>
</g>
<text x="11.4" y="482.0" class="lb" font-size="19.0" textLength="90.0" lengthAdjust="spacingAndGlyphs">NORM(L1)</text>
<text x="8.8" y="649.0" class="lb" font-size="19.0" textLength="178.5" lengthAdjust="spacingAndGlyphs">SEM(L1) 100-200 ms</text>
<text x="316.0" y="651.0" class="lb" font-size="19.0">250-430 ms</text>
<text x="543.5" y="651.0" class="lb" font-size="19.0">430-600 ms</text>
<text x="7.6" y="823.4" class="lb" font-size="19.0" textLength="126.0" lengthAdjust="spacingAndGlyphs">SEM+SYN(L1)</text>
<text x="769.0" y="482.6" class="lb" font-size="19.0" textLength="91.5" lengthAdjust="spacingAndGlyphs">NORM(L2)</text>
<text x="776.7" y="649.5" class="lb" font-size="19.0" textLength="181.0" lengthAdjust="spacingAndGlyphs">SEM(L2) 100-200 ms</text>
<text x="1088.0" y="650.0" class="lb" font-size="19.0">300-500 ms</text>
<text x="1319.0" y="650.0" class="lb" font-size="19.0">600-750 ms</text>
<text x="776.5" y="824.5" class="lb" font-size="19.0" textLength="128.5" lengthAdjust="spacingAndGlyphs">SEM+SYN(L2)</text>
<rect x="241.7" y="665.0" width="7.6" height="129.0" fill="url(#jet)" stroke="#333" stroke-width="0.9"/>
<text x="252.0" y="671.5" class="cb" font-size="18.0">1.5</text>
<text x="252.0" y="703.8" class="cb" font-size="18.0">0.8</text>
<text x="252.0" y="736.0" class="cb" font-size="18.0">0</text>
<text x="251.5" y="768.2" class="cb" font-size="18.0" textLength="31.5" lengthAdjust="spacingAndGlyphs">-0.8</text>
<text x="251.5" y="800.5" class="cb" font-size="18.0" textLength="31.5" lengthAdjust="spacingAndGlyphs">-1.5</text>
<rect x="469.4" y="665.0" width="7.6" height="128.4" fill="url(#jet)" stroke="#333" stroke-width="0.9"/>
<text x="480.0" y="671.5" class="cb" font-size="18.0">3.5</text>
<text x="480.0" y="703.6" class="cb" font-size="18.0">1.8</text>
<text x="480.0" y="735.7" class="cb" font-size="18.0">0</text>
<text x="479.5" y="767.8" class="cb" font-size="18.0" textLength="31.5" lengthAdjust="spacingAndGlyphs">-1.8</text>
<text x="479.5" y="799.9" class="cb" font-size="18.0" textLength="31.5" lengthAdjust="spacingAndGlyphs">-3.5</text>
<rect x="696.6" y="665.0" width="7.6" height="128.4" fill="url(#jet)" stroke="#333" stroke-width="0.9"/>
<text x="707.0" y="671.5" class="cb" font-size="18.0">5.5</text>
<text x="707.0" y="703.6" class="cb" font-size="18.0">2.8</text>
<text x="707.0" y="735.7" class="cb" font-size="18.0">0</text>
<text x="706.5" y="767.8" class="cb" font-size="18.0" textLength="31.5" lengthAdjust="spacingAndGlyphs">-2.8</text>
<text x="706.5" y="799.9" class="cb" font-size="18.0" textLength="31.5" lengthAdjust="spacingAndGlyphs">-5.5</text>
<rect x="1013.8" y="664.4" width="7.6" height="131.7" fill="url(#jet)" stroke="#333" stroke-width="0.9"/>
<text x="1025.5" y="670.9" class="cb" font-size="18.0">1.5</text>
<text x="1025.5" y="703.8" class="cb" font-size="18.0">0.8</text>
<text x="1025.5" y="736.8" class="cb" font-size="18.0">0</text>
<text x="1025.0" y="769.7" class="cb" font-size="18.0" textLength="31.5" lengthAdjust="spacingAndGlyphs">-0.8</text>
<text x="1025.0" y="802.6" class="cb" font-size="18.0" textLength="31.5" lengthAdjust="spacingAndGlyphs">-1.5</text>
<rect x="1244.0" y="664.4" width="7.6" height="131.7" fill="url(#jet)" stroke="#333" stroke-width="0.9"/>
<text x="1255.5" y="670.9" class="cb" font-size="18.0">3.5</text>
<text x="1255.5" y="703.8" class="cb" font-size="18.0">1.8</text>
<text x="1255.5" y="736.8" class="cb" font-size="18.0">0</text>
<text x="1255.0" y="769.7" class="cb" font-size="18.0" textLength="31.5" lengthAdjust="spacingAndGlyphs">-1.8</text>
<text x="1255.0" y="802.6" class="cb" font-size="18.0" textLength="31.5" lengthAdjust="spacingAndGlyphs">-3.5</text>
<rect x="1476.2" y="664.4" width="7.6" height="131.7" fill="url(#jet)" stroke="#333" stroke-width="0.9"/>
<text x="1488.0" y="670.9" class="cb" font-size="18.0">5.5</text>
<text x="1488.0" y="703.8" class="cb" font-size="18.0">2.8</text>
<text x="1488.0" y="736.8" class="cb" font-size="18.0">0</text>
<text x="1487.5" y="769.7" class="cb" font-size="18.0" textLength="31.5" lengthAdjust="spacingAndGlyphs">-2.8</text>
<text x="1487.5" y="802.6" class="cb" font-size="18.0" textLength="31.5" lengthAdjust="spacingAndGlyphs">-5.5</text>
</svg>
</body></html>
